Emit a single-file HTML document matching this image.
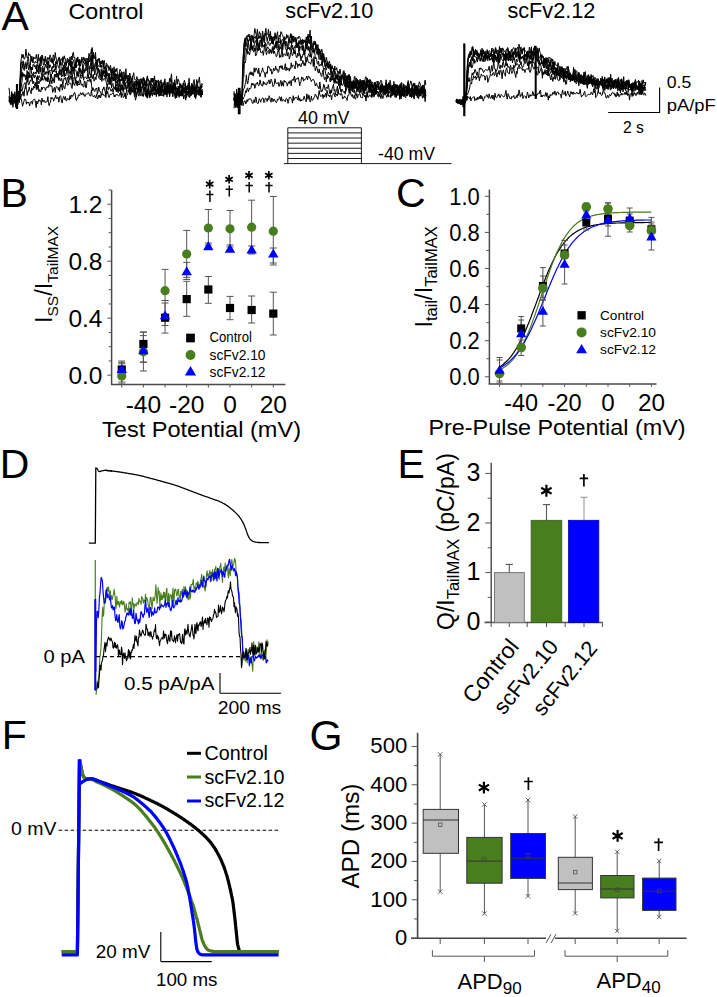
<!DOCTYPE html>
<html><head><meta charset="utf-8"><style>html,body{margin:0;padding:0;background:#fff;width:717px;height:997px;overflow:hidden}svg{display:block}text{font-family:"Liberation Sans",sans-serif}</style></head>
<body><svg width="717" height="997" viewBox="0 0 717 997" font-family='"Liberation Sans", sans-serif'><rect width="717" height="997" fill="#fff"/><text x="1.5" y="30.1" font-size="41" fill="#000">A</text>
<text x="68.5" y="18.7" font-size="22.4" textLength="75" lengthAdjust="spacingAndGlyphs" fill="#000">Control</text>
<text x="285.3" y="18.4" font-size="22.4" textLength="88" lengthAdjust="spacingAndGlyphs" fill="#000">scFv2.10</text>
<text x="507.4" y="18.4" font-size="22.4" textLength="88" lengthAdjust="spacingAndGlyphs" fill="#000">scFv2.12</text>
<polyline points="9.0,101.8 9.7,97.0 10.3,97.4 11.0,101.8 11.6,96.1 12.3,99.4 12.9,104.5 13.6,97.1 14.2,103.4 14.9,91.7 15.5,104.4 16.2,96.7 16.8,98.8 17.5,93.2 18.1,96.6 18.8,91.0 19.4,93.4 20.1,78.0 20.7,62.6 21.4,58.2 22.0,54.2 22.7,57.6 23.3,54.6 24.0,59.1 24.6,59.0 25.3,56.7 25.9,49.1 26.6,55.3 27.2,58.0 27.9,58.1 28.5,52.8 29.2,55.6 29.8,54.4 30.5,55.6 31.1,61.5 31.8,56.1 32.4,58.5 33.1,61.4 33.7,56.9 34.4,58.0 35.0,59.0 35.7,58.4 36.3,54.4 37.0,59.1 37.6,62.9 38.3,54.3 38.9,61.2 39.6,59.4 40.2,57.5 40.9,66.0 41.5,62.0 42.2,55.1 42.8,59.0 43.5,61.0 44.1,58.9 44.8,61.3 45.4,59.4 46.1,62.1 46.7,64.2 47.4,57.5 48.0,59.4 48.7,57.7 49.3,59.0 50.0,54.9 50.6,56.6 51.3,58.8 51.9,62.9 52.6,63.2 53.2,54.9 53.9,56.3 54.5,60.5 55.2,52.5 55.8,57.0 56.5,59.5 57.1,64.3 57.8,62.4 58.4,58.6 59.1,58.1 59.7,59.3 60.4,64.8 61.0,58.8 61.7,58.7 62.3,60.8 63.0,59.5 63.6,58.6 64.3,55.8 64.9,59.2 65.6,58.9 66.2,64.1 66.9,62.8 67.5,60.5 68.2,62.2 68.8,59.6 69.5,63.6 70.1,60.8 70.8,61.6 71.4,56.0 72.1,60.1 72.7,53.5 73.4,52.2 74.0,57.9 74.7,57.1 75.3,61.5 76.0,68.0 76.6,58.2 77.3,57.9 77.9,61.1 78.6,62.2 79.2,60.0 79.9,60.0 80.5,63.2 81.2,62.3 81.8,57.1 82.5,59.9 83.1,60.3 83.8,57.1 84.4,60.8 85.1,58.2 85.7,63.9 86.4,61.9 87.0,61.0 87.7,58.7 88.3,59.3 89.0,53.3 89.6,56.2 90.3,60.8 91.5,49.0 90.9,54.0 91.6,53.3 92.2,47.5 92.9,55.3 93.5,52.4 94.2,57.9 94.8,56.4 95.5,52.3 96.1,62.2 96.8,64.2 97.4,59.6 98.1,59.0 98.7,59.6 99.4,58.4 100.0,65.2 100.7,61.2 101.3,62.5 102.0,60.8 102.6,61.4 103.3,60.9 103.9,69.5 104.6,66.6 105.2,70.1 105.9,67.4 106.5,65.2 107.2,66.6 107.8,66.7 108.5,68.9 109.1,68.3 109.8,68.3 110.4,65.3 111.1,68.3 111.7,76.6 112.4,69.8 113.0,68.4 113.7,74.0 114.3,77.5 115.0,68.8 115.6,72.1 116.3,71.0 116.9,68.3 117.6,76.6 118.2,75.4 118.9,75.3 119.5,73.3 120.2,77.1 120.8,74.6 121.5,75.4 122.1,72.4 122.8,73.0 123.4,81.4 124.1,76.6 124.7,78.7 125.4,78.0 126.0,76.7 126.7,77.0 127.3,80.8 128.0,78.3 128.6,78.7 129.3,80.1 129.9,84.2 130.6,83.1 131.2,81.6 131.9,77.9 132.5,75.9 133.2,83.9 133.8,84.7 134.5,81.3 135.1,83.5 135.8,84.8 136.4,85.3 137.1,85.2 137.7,81.4 138.4,86.7 139.0,78.9 139.7,85.1 140.3,85.0 141.0,86.8 141.6,90.4 142.3,88.4 142.9,78.9 143.6,77.0 144.2,84.9 144.9,80.2 145.5,83.4 146.2,85.8 146.8,77.4 147.5,75.8 148.1,83.9 148.8,84.2 149.4,83.3 150.1,83.9 150.7,80.6 151.4,78.6 152.0,82.8 152.7,80.4 153.3,78.7 154.0,85.8 154.6,85.0 155.3,85.9 155.9,81.4 156.6,81.9 157.2,80.9 157.9,81.7 158.5,85.2 159.2,82.8 159.8,86.5 160.5,87.7 161.1,92.2 161.8,82.0 162.4,88.1 163.1,85.8 163.7,85.0 164.4,80.5 165.0,83.9 165.7,88.3 166.3,86.0 167.0,86.1 167.6,85.6 168.3,90.1 168.9,85.6 169.6,78.1 170.2,82.0 170.9,77.6 171.5,73.8 172.2,83.7 172.8,90.9 173.5,86.7 174.1,82.0 174.8,83.2 175.4,90.2 176.1,87.7 176.7,86.9 177.4,86.5 178.0,87.2 178.7,89.8 179.3,89.2 180.0,87.3 180.6,83.5 181.3,87.9 181.9,85.2 182.6,89.9 183.2,82.9 183.9,85.9 184.5,86.3 185.2,83.1 185.8,93.2 186.5,92.8 187.1,86.4 187.8,89.8 188.4,87.7 189.1,78.2 189.7,86.9 190.4,87.1 191.0,87.0 191.7,83.4 192.3,85.8 193.0,87.0 193.6,91.5 194.3,89.0 194.9,88.1 195.6,92.5 196.2,85.9 196.9,85.0 197.5,81.5 198.2,92.6 198.8,91.9 199.5,91.4 200.1,90.3 200.8,88.2 201.4,88.2 202.1,86.6 202.7,86.7" fill="none" stroke="#000" stroke-width="1.0" stroke-linejoin="round"/>
<polyline points="18.0,104.9 18.6,97.9 19.3,96.7 19.9,81.4 20.6,74.1 21.2,63.6 21.9,61.5 22.5,67.3 23.2,60.8 23.8,66.6 24.5,68.2 25.1,64.0 25.8,65.0 26.4,69.1 27.1,62.0 27.7,59.4 28.4,57.2 29.0,62.3 29.7,67.7 30.3,65.7 31.0,58.9 31.6,58.6 32.3,60.2 32.9,62.9 33.6,61.7 34.2,63.0 34.9,63.2 35.5,61.3 36.2,62.1 36.8,62.9 37.5,62.3 38.1,64.8 38.8,69.3 39.4,65.2 40.1,62.0 40.7,56.6 41.4,62.1 42.0,55.1 42.7,56.9 43.3,65.0 44.0,65.1 44.6,61.4 45.3,56.2 45.9,60.0 46.6,60.1 47.2,65.3 47.9,70.6 48.5,63.8 49.2,59.3 49.8,58.0 50.5,61.6 51.1,61.3 51.8,58.4 52.4,61.9 53.1,59.0 53.7,66.3 54.4,67.1 55.0,66.5 55.7,61.5 56.3,64.0 57.0,62.1 57.6,61.0 58.3,60.6 58.9,57.2 59.6,57.3 60.2,64.6 60.9,62.3 61.5,63.7 62.2,65.4 62.8,56.7 63.5,59.2 64.1,63.1 64.8,63.9 65.4,61.9 66.1,66.2 66.7,63.3 67.4,58.1 68.0,59.3 68.7,65.3 69.3,63.8 70.0,56.9 70.6,66.8 71.3,66.0 71.9,67.5 72.6,61.9 73.2,61.1 73.9,59.8 74.5,71.0 75.2,64.0 75.8,68.0 76.5,61.3 77.1,62.4 77.8,56.9 78.4,61.2 79.1,65.5 79.7,59.4 80.4,66.2 81.0,64.0 81.7,59.2 82.3,60.5 83.0,61.0 83.6,62.3 84.3,60.6 84.9,59.7 85.6,61.0 86.2,58.7 86.9,58.0 87.5,62.6 88.2,65.3 88.8,58.0 89.5,62.0 90.1,60.3 90.8,59.7 91.5,60.3 91.4,65.3 92.1,54.9 92.7,61.1 93.4,55.3 94.0,58.8 94.7,57.6 95.3,56.8 96.0,61.6 96.6,60.5 97.3,63.2 97.9,61.4 98.6,58.6 99.2,62.2 99.9,64.1 100.5,67.1 101.2,61.9 101.8,63.9 102.5,60.0 103.1,67.2 103.8,62.4 104.4,60.4 105.1,67.1 105.7,71.2 106.4,63.2 107.0,64.2 107.7,65.8 108.3,65.7 109.0,70.7 109.6,67.6 110.3,68.3 110.9,72.7 111.6,69.5 112.2,72.8 112.9,68.7 113.5,67.3 114.2,66.9 114.8,78.9 115.5,73.5 116.1,74.7 116.8,74.4 117.4,75.1 118.1,75.9 118.7,81.4 119.4,71.9 120.0,69.3 120.7,71.1 121.3,71.4 122.0,78.8 122.6,79.4 123.3,73.3 123.9,71.7 124.6,76.1 125.2,81.0 125.9,68.7 126.5,78.1 127.2,75.1 127.8,81.0 128.5,75.1 129.1,76.6 129.8,73.1 130.4,75.6 131.1,84.0 131.7,82.7 132.4,78.1 133.0,75.7 133.7,72.7 134.3,77.8 135.0,79.9 135.6,80.0 136.3,79.6 136.9,76.6 137.6,80.0 138.2,81.3 138.9,86.3 139.5,88.1 140.2,81.2 140.8,78.6 141.5,80.6 142.1,79.1 142.8,78.8 143.4,80.8 144.1,78.5 144.7,83.6 145.4,82.1 146.0,82.9 146.7,81.4 147.3,79.4 148.0,78.7 148.6,81.1 149.3,80.7 149.9,83.3 150.6,82.3 151.2,78.2 151.9,82.0 152.5,78.1 153.2,80.2 153.8,81.0 154.5,75.9 155.1,82.8 155.8,83.9 156.4,82.8 157.1,81.8 157.7,81.7 158.4,79.9 159.0,82.1 159.7,81.7 160.3,83.4 161.0,79.8 161.6,84.3 162.3,84.5 162.9,83.4 163.6,82.7 164.2,85.1 164.9,78.8 165.5,85.2 166.2,85.4 166.8,85.6 167.5,85.5 168.1,82.1 168.8,83.5 169.4,86.7 170.1,86.4 170.7,84.8 171.4,79.6 172.0,86.3 172.7,89.4 173.3,88.8 174.0,85.3 174.6,79.8 175.3,87.3 175.9,83.6 176.6,76.1 177.2,84.4 177.9,79.3 178.5,79.5 179.2,82.7 179.8,89.0 180.5,84.4 181.1,86.6 181.8,91.9 182.4,91.3 183.1,85.3 183.7,83.7 184.4,80.3 185.0,82.4 185.7,86.5 186.3,86.8 187.0,86.2 187.6,88.4 188.3,83.0 188.9,85.1 189.6,88.1 190.2,88.1 190.9,89.5 191.5,87.1 192.2,84.6 192.8,86.1 193.5,81.3 194.1,79.5 194.8,86.7 195.4,85.6 196.1,85.8 196.7,79.5 197.4,83.2 198.0,82.9 198.7,81.2 199.3,77.1 200.0,83.8 200.6,88.7 201.3,87.0 201.9,83.6 202.6,85.3" fill="none" stroke="#000" stroke-width="1.0" stroke-linejoin="round"/>
<polyline points="9.0,96.3 9.7,102.6 10.3,97.1 11.0,104.0 11.6,92.3 12.3,97.5 12.9,107.3 13.6,96.2 14.2,95.7 14.9,99.6 15.5,97.9 16.2,97.6 16.8,98.4 17.5,96.9 18.1,97.6 18.8,96.4 19.4,99.1 20.1,89.1 20.7,77.3 21.4,76.1 22.0,67.0 22.7,67.3 23.3,67.3 24.0,70.1 24.6,70.2 25.3,62.4 25.9,63.7 26.6,67.5 27.2,64.5 27.9,62.4 28.5,69.8 29.2,69.1 29.8,68.5 30.5,66.1 31.1,69.9 31.8,67.1 32.4,70.0 33.1,64.3 33.7,64.1 34.4,67.0 35.0,65.2 35.7,68.9 36.3,67.7 37.0,64.3 37.6,66.7 38.3,66.3 38.9,69.5 39.6,65.2 40.2,65.9 40.9,71.5 41.5,75.2 42.2,74.1 42.8,68.1 43.5,68.3 44.1,71.8 44.8,66.8 45.4,64.0 46.1,67.2 46.7,68.1 47.4,64.0 48.0,61.0 48.7,62.1 49.3,68.2 50.0,64.8 50.6,66.3 51.3,67.8 51.9,68.9 52.6,66.4 53.2,68.1 53.9,64.3 54.5,65.1 55.2,64.1 55.8,70.1 56.5,67.1 57.1,64.5 57.8,65.5 58.4,66.4 59.1,68.5 59.7,61.9 60.4,63.0 61.0,66.4 61.7,75.1 62.3,70.9 63.0,67.3 63.6,70.0 64.3,73.6 64.9,66.9 65.6,66.2 66.2,70.8 66.9,69.3 67.5,69.1 68.2,66.4 68.8,73.5 69.5,73.3 70.1,69.7 70.8,68.6 71.4,61.2 72.1,68.1 72.7,66.8 73.4,68.5 74.0,69.2 74.7,65.5 75.3,61.7 76.0,67.2 76.6,64.7 77.3,65.4 77.9,64.9 78.6,64.8 79.2,60.1 79.9,70.0 80.5,68.7 81.2,71.3 81.8,73.6 82.5,67.1 83.1,61.0 83.8,63.0 84.4,62.7 85.1,65.0 85.7,66.3 86.4,60.9 87.0,66.7 87.7,62.5 88.3,67.3 89.0,66.7 89.6,66.0 90.3,66.4 91.5,60.1 90.9,65.1 91.6,56.3 92.2,54.3 92.9,60.5 93.5,67.8 94.2,69.4 94.8,67.9 95.5,65.8 96.1,62.8 96.8,68.9 97.4,65.7 98.1,65.6 98.7,65.6 99.4,67.1 100.0,66.3 100.7,67.3 101.3,65.2 102.0,68.6 102.6,76.7 103.3,70.8 103.9,70.2 104.6,73.1 105.2,73.7 105.9,68.9 106.5,71.9 107.2,75.9 107.8,74.7 108.5,74.9 109.1,78.9 109.8,73.2 110.4,74.8 111.1,74.4 111.7,79.4 112.4,70.3 113.0,73.4 113.7,75.1 114.3,79.2 115.0,80.1 115.6,81.7 116.3,74.0 116.9,79.9 117.6,77.7 118.2,76.9 118.9,80.2 119.5,76.0 120.2,72.7 120.8,77.4 121.5,75.1 122.1,78.0 122.8,81.7 123.4,82.6 124.1,86.1 124.7,80.8 125.4,76.4 126.0,78.5 126.7,78.3 127.3,78.2 128.0,83.0 128.6,79.9 129.3,76.6 129.9,84.3 130.6,83.2 131.2,84.4 131.9,84.1 132.5,85.6 133.2,84.6 133.8,87.9 134.5,86.0 135.1,85.8 135.8,85.2 136.4,80.0 137.1,83.4 137.7,84.0 138.4,84.9 139.0,81.5 139.7,89.7 140.3,85.7 141.0,81.0 141.6,79.6 142.3,84.0 142.9,85.0 143.6,83.6 144.2,85.7 144.9,84.3 145.5,87.3 146.2,84.2 146.8,86.3 147.5,90.4 148.1,94.5 148.8,84.3 149.4,84.5 150.1,84.2 150.7,88.5 151.4,83.4 152.0,85.0 152.7,86.4 153.3,83.7 154.0,83.6 154.6,84.6 155.3,80.0 155.9,81.9 156.6,85.7 157.2,87.8 157.9,86.4 158.5,81.9 159.2,85.9 159.8,90.3 160.5,89.8 161.1,87.5 161.8,85.4 162.4,89.4 163.1,86.0 163.7,83.9 164.4,85.7 165.0,92.4 165.7,89.9 166.3,91.8 167.0,87.6 167.6,90.8 168.3,86.8 168.9,88.7 169.6,96.4 170.2,91.7 170.9,87.2 171.5,88.2 172.2,90.1 172.8,92.3 173.5,86.9 174.1,83.0 174.8,87.2 175.4,88.8 176.1,89.7 176.7,93.1 177.4,90.7 178.0,91.1 178.7,86.1 179.3,92.0 180.0,96.1 180.6,92.3 181.3,90.2 181.9,90.3 182.6,94.3 183.2,86.9 183.9,88.6 184.5,90.8 185.2,91.5 185.8,88.2 186.5,89.9 187.1,88.5 187.8,89.5 188.4,88.4 189.1,85.7 189.7,89.1 190.4,91.7 191.0,86.6 191.7,88.5 192.3,90.9 193.0,86.4 193.6,89.1 194.3,86.6 194.9,93.4 195.6,97.9 196.2,96.6 196.9,89.9 197.5,91.7 198.2,90.2 198.8,90.5 199.5,93.9 200.1,86.4 200.8,92.3 201.4,90.4 202.1,94.0 202.7,90.7" fill="none" stroke="#000" stroke-width="1.0" stroke-linejoin="round"/>
<polyline points="18.0,99.1 18.6,97.8 19.3,96.1 19.9,88.1 20.6,82.4 21.2,77.9 21.9,73.5 22.5,72.8 23.2,76.5 23.8,74.0 24.5,75.6 25.1,76.4 25.8,75.2 26.4,78.9 27.1,70.5 27.7,73.9 28.4,71.8 29.0,78.1 29.7,77.0 30.3,65.9 31.0,68.1 31.6,73.7 32.3,74.7 32.9,74.2 33.6,71.9 34.2,73.2 34.9,73.8 35.5,72.0 36.2,73.8 36.8,65.1 37.5,72.2 38.1,68.9 38.8,74.0 39.4,70.8 40.1,68.7 40.7,71.9 41.4,68.3 42.0,67.5 42.7,66.1 43.3,70.8 44.0,73.3 44.6,74.6 45.3,71.7 45.9,74.5 46.6,71.7 47.2,71.2 47.9,73.4 48.5,74.6 49.2,70.4 49.8,70.2 50.5,70.6 51.1,71.0 51.8,68.7 52.4,73.8 53.1,70.4 53.7,72.0 54.4,68.8 55.0,72.0 55.7,72.2 56.3,70.6 57.0,77.3 57.6,73.6 58.3,77.0 58.9,74.3 59.6,69.0 60.2,69.6 60.9,72.1 61.5,71.2 62.2,70.9 62.8,69.2 63.5,64.9 64.1,68.5 64.8,63.8 65.4,70.7 66.1,68.3 66.7,68.1 67.4,69.8 68.0,70.9 68.7,65.6 69.3,64.2 70.0,65.8 70.6,63.4 71.3,67.4 71.9,74.7 72.6,68.1 73.2,71.6 73.9,66.6 74.5,70.7 75.2,69.5 75.8,70.3 76.5,72.9 77.1,76.2 77.8,71.7 78.4,70.4 79.1,67.6 79.7,71.7 80.4,70.1 81.0,72.8 81.7,71.1 82.3,74.9 83.0,64.6 83.6,68.9 84.3,72.7 84.9,69.1 85.6,67.4 86.2,68.5 86.9,65.7 87.5,70.9 88.2,78.2 88.8,74.2 89.5,66.7 90.1,66.7 90.8,68.8 91.5,67.7 91.4,72.7 92.1,61.2 92.7,62.2 93.4,67.9 94.0,68.6 94.7,65.1 95.3,62.7 96.0,62.0 96.6,64.5 97.3,61.8 97.9,70.6 98.6,68.4 99.2,72.5 99.9,77.5 100.5,75.5 101.2,69.2 101.8,75.2 102.5,76.7 103.1,71.2 103.8,70.6 104.4,73.0 105.1,70.3 105.7,78.3 106.4,68.3 107.0,71.5 107.7,75.1 108.3,76.1 109.0,77.7 109.6,78.4 110.3,77.8 110.9,80.9 111.6,72.4 112.2,77.8 112.9,77.1 113.5,79.8 114.2,80.3 114.8,77.2 115.5,78.4 116.1,83.1 116.8,82.2 117.4,80.1 118.1,88.6 118.7,89.3 119.4,78.5 120.0,83.7 120.7,90.9 121.3,86.3 122.0,83.9 122.6,82.5 123.3,81.6 123.9,82.6 124.6,82.4 125.2,86.0 125.9,83.1 126.5,82.5 127.2,80.7 127.8,83.9 128.5,82.1 129.1,84.7 129.8,88.7 130.4,87.3 131.1,87.5 131.7,87.2 132.4,86.3 133.0,85.6 133.7,85.6 134.3,88.3 135.0,84.0 135.6,90.5 136.3,87.2 136.9,84.4 137.6,85.0 138.2,84.9 138.9,87.3 139.5,85.7 140.2,90.5 140.8,84.8 141.5,80.0 142.1,83.9 142.8,81.4 143.4,87.6 144.1,91.7 144.7,90.2 145.4,84.1 146.0,86.2 146.7,93.9 147.3,90.3 148.0,89.3 148.6,93.1 149.3,97.5 149.9,94.0 150.6,90.1 151.2,90.5 151.9,91.0 152.5,87.1 153.2,85.8 153.8,88.7 154.5,86.5 155.1,89.0 155.8,90.7 156.4,96.7 157.1,87.9 157.7,89.0 158.4,89.4 159.0,91.6 159.7,93.2 160.3,88.5 161.0,86.6 161.6,84.2 162.3,86.8 162.9,91.5 163.6,90.1 164.2,86.9 164.9,88.7 165.5,90.5 166.2,91.7 166.8,88.6 167.5,88.7 168.1,84.2 168.8,86.8 169.4,94.3 170.1,84.2 170.7,88.8 171.4,91.1 172.0,89.3 172.7,88.0 173.3,90.2 174.0,90.7 174.6,89.8 175.3,84.9 175.9,89.3 176.6,87.9 177.2,89.0 177.9,91.7 178.5,93.4 179.2,93.9 179.8,90.2 180.5,94.2 181.1,95.6 181.8,95.7 182.4,95.9 183.1,91.2 183.7,90.9 184.4,93.2 185.0,87.3 185.7,91.1 186.3,89.5 187.0,89.2 187.6,85.3 188.3,87.8 188.9,91.3 189.6,94.5 190.2,94.8 190.9,91.4 191.5,90.4 192.2,88.9 192.8,92.3 193.5,91.0 194.1,93.9 194.8,97.2 195.4,91.5 196.1,86.4 196.7,87.6 197.4,86.1 198.0,87.7 198.7,95.2 199.3,92.2 200.0,87.1 200.6,93.5 201.3,95.6 201.9,90.7 202.6,89.3" fill="none" stroke="#000" stroke-width="1.0" stroke-linejoin="round"/>
<polyline points="9.0,87.8 9.7,94.5 10.3,104.1 11.0,101.6 11.6,101.1 12.3,94.9 12.9,94.6 13.6,98.6 14.2,94.5 14.9,96.7 15.5,107.3 16.2,101.1 16.8,95.5 17.5,88.0 18.1,97.1 18.8,96.1 19.4,100.4 20.1,92.7 20.7,89.4 21.4,86.4 22.0,81.3 22.7,72.6 23.3,75.6 24.0,76.0 24.6,74.6 25.3,77.8 25.9,80.1 26.6,75.5 27.2,74.1 27.9,81.6 28.5,75.6 29.2,73.0 29.8,76.8 30.5,77.4 31.1,74.8 31.8,78.1 32.4,74.9 33.1,73.6 33.7,76.7 34.4,78.1 35.0,74.8 35.7,76.8 36.3,76.9 37.0,83.5 37.6,75.5 38.3,79.5 38.9,76.2 39.6,75.8 40.2,78.1 40.9,78.9 41.5,79.7 42.2,76.9 42.8,74.0 43.5,74.2 44.1,77.0 44.8,77.8 45.4,79.7 46.1,77.5 46.7,79.1 47.4,80.0 48.0,75.9 48.7,71.0 49.3,71.1 50.0,71.5 50.6,78.9 51.3,73.9 51.9,78.5 52.6,77.8 53.2,80.4 53.9,78.4 54.5,75.1 55.2,74.5 55.8,75.2 56.5,75.3 57.1,73.5 57.8,75.2 58.4,78.7 59.1,70.8 59.7,74.6 60.4,72.4 61.0,75.2 61.7,77.0 62.3,75.0 63.0,76.1 63.6,70.8 64.3,76.8 64.9,73.4 65.6,76.0 66.2,74.2 66.9,67.1 67.5,71.4 68.2,75.2 68.8,78.7 69.5,75.6 70.1,74.5 70.8,70.9 71.4,78.2 72.1,79.5 72.7,74.7 73.4,72.9 74.0,69.8 74.7,76.7 75.3,81.9 76.0,77.2 76.6,77.7 77.3,75.4 77.9,71.7 78.6,76.6 79.2,70.7 79.9,72.7 80.5,74.6 81.2,76.2 81.8,75.1 82.5,74.4 83.1,71.1 83.8,69.7 84.4,72.9 85.1,71.0 85.7,69.1 86.4,69.2 87.0,70.8 87.7,67.5 88.3,68.3 89.0,68.3 89.6,73.2 90.3,74.9 91.5,73.2 90.9,78.2 91.6,64.4 92.2,66.5 92.9,71.3 93.5,69.2 94.2,69.6 94.8,75.0 95.5,70.2 96.1,67.7 96.8,67.9 97.4,72.8 98.1,73.2 98.7,69.1 99.4,70.5 100.0,75.2 100.7,75.8 101.3,73.2 102.0,76.6 102.6,76.5 103.3,70.8 103.9,74.6 104.6,77.1 105.2,74.4 105.9,70.7 106.5,76.0 107.2,80.0 107.8,81.6 108.5,73.5 109.1,84.4 109.8,76.7 110.4,81.5 111.1,83.1 111.7,82.5 112.4,79.9 113.0,76.9 113.7,81.1 114.3,77.7 115.0,74.3 115.6,87.8 116.3,84.4 116.9,86.0 117.6,79.9 118.2,85.7 118.9,87.1 119.5,86.6 120.2,82.1 120.8,78.8 121.5,80.7 122.1,75.8 122.8,77.3 123.4,82.2 124.1,80.3 124.7,82.3 125.4,83.6 126.0,89.1 126.7,87.8 127.3,84.4 128.0,86.9 128.6,82.1 129.3,83.2 129.9,86.2 130.6,81.1 131.2,82.8 131.9,80.9 132.5,85.1 133.2,89.0 133.8,83.4 134.5,85.0 135.1,82.3 135.8,81.3 136.4,82.0 137.1,89.7 137.7,92.6 138.4,87.4 139.0,84.1 139.7,87.3 140.3,85.4 141.0,88.0 141.6,87.1 142.3,87.1 142.9,87.7 143.6,84.6 144.2,84.3 144.9,81.3 145.5,84.1 146.2,82.3 146.8,85.3 147.5,83.9 148.1,86.7 148.8,87.5 149.4,82.7 150.1,83.8 150.7,84.2 151.4,89.2 152.0,92.2 152.7,89.8 153.3,86.9 154.0,90.5 154.6,84.0 155.3,90.6 155.9,85.0 156.6,80.3 157.2,94.2 157.9,92.2 158.5,85.2 159.2,87.5 159.8,87.0 160.5,87.2 161.1,83.3 161.8,85.4 162.4,88.8 163.1,88.8 163.7,91.1 164.4,89.2 165.0,94.0 165.7,86.7 166.3,87.6 167.0,82.3 167.6,84.2 168.3,90.8 168.9,86.0 169.6,89.1 170.2,87.6 170.9,85.0 171.5,86.5 172.2,86.4 172.8,86.8 173.5,90.2 174.1,90.0 174.8,86.5 175.4,85.6 176.1,88.6 176.7,88.4 177.4,91.9 178.0,96.2 178.7,91.5 179.3,88.4 180.0,87.5 180.6,85.6 181.3,85.2 181.9,85.2 182.6,86.8 183.2,87.3 183.9,90.2 184.5,87.5 185.2,87.3 185.8,85.6 186.5,92.7 187.1,91.0 187.8,93.8 188.4,91.8 189.1,92.8 189.7,88.6 190.4,91.3 191.0,95.8 191.7,86.5 192.3,92.0 193.0,93.8 193.6,90.6 194.3,91.3 194.9,92.1 195.6,87.4 196.2,89.2 196.9,86.1 197.5,86.2 198.2,86.6 198.8,88.1 199.5,89.2 200.1,89.5 200.8,85.6 201.4,94.2 202.1,92.9 202.7,91.2" fill="none" stroke="#000" stroke-width="1.0" stroke-linejoin="round"/>
<polyline points="18.0,102.4 18.6,99.5 19.3,102.8 19.9,96.2 20.6,89.1 21.2,89.1 21.9,91.4 22.5,89.4 23.2,85.5 23.8,84.5 24.5,83.4 25.1,82.5 25.8,88.8 26.4,83.3 27.1,79.2 27.7,81.1 28.4,84.8 29.0,84.6 29.7,82.0 30.3,80.3 31.0,81.4 31.6,76.7 32.3,77.9 32.9,83.8 33.6,81.0 34.2,83.4 34.9,86.0 35.5,84.3 36.2,83.0 36.8,88.5 37.5,84.4 38.1,81.2 38.8,83.9 39.4,82.8 40.1,79.2 40.7,81.4 41.4,80.3 42.0,75.4 42.7,80.0 43.3,80.3 44.0,79.2 44.6,76.0 45.3,79.5 45.9,80.9 46.6,81.0 47.2,77.9 47.9,82.0 48.5,77.5 49.2,80.3 49.8,84.5 50.5,79.1 51.1,79.4 51.8,83.7 52.4,79.8 53.1,79.7 53.7,81.6 54.4,83.0 55.0,74.0 55.7,76.8 56.3,76.7 57.0,76.4 57.6,77.0 58.3,77.6 58.9,80.5 59.6,77.7 60.2,80.4 60.9,81.1 61.5,78.1 62.2,80.8 62.8,85.1 63.5,81.3 64.1,78.1 64.8,79.1 65.4,77.1 66.1,80.6 66.7,82.1 67.4,77.5 68.0,79.1 68.7,82.7 69.3,78.5 70.0,79.5 70.6,76.1 71.3,76.4 71.9,78.3 72.6,85.4 73.2,78.7 73.9,77.3 74.5,77.3 75.2,78.7 75.8,81.0 76.5,80.6 77.1,85.2 77.8,80.9 78.4,83.3 79.1,80.4 79.7,80.2 80.4,74.7 81.0,77.8 81.7,78.3 82.3,77.1 83.0,72.5 83.6,80.2 84.3,77.5 84.9,76.9 85.6,77.4 86.2,77.8 86.9,79.0 87.5,74.4 88.2,75.1 88.8,78.7 89.5,78.5 90.1,76.8 90.8,75.9 91.4,75.3 92.1,75.4 92.7,78.9 93.4,74.2 94.0,81.2 94.7,80.1 95.3,76.9 96.0,79.6 96.6,73.8 97.3,72.7 97.9,74.6 98.6,77.7 99.2,78.6 99.9,78.7 100.5,79.9 101.2,74.9 101.8,81.4 102.5,77.3 103.1,79.3 103.8,80.3 104.4,78.4 105.1,77.9 105.7,79.6 106.4,83.1 107.0,85.5 107.7,85.3 108.3,81.1 109.0,81.3 109.6,81.7 110.3,85.0 110.9,79.6 111.6,87.9 112.2,84.2 112.9,83.3 113.5,87.0 114.2,89.3 114.8,88.0 115.5,89.7 116.1,87.9 116.8,90.9 117.4,91.1 118.1,87.9 118.7,91.6 119.4,88.5 120.0,87.6 120.7,85.0 121.3,87.1 122.0,89.8 122.6,84.9 123.3,90.0 123.9,89.9 124.6,88.8 125.2,82.4 125.9,88.1 126.5,90.6 127.2,87.2 127.8,88.4 128.5,82.7 129.1,90.4 129.8,88.3 130.4,91.4 131.1,85.0 131.7,91.2 132.4,89.9 133.0,92.1 133.7,87.6 134.3,89.0 135.0,96.5 135.6,88.7 136.3,88.1 136.9,89.2 137.6,88.1 138.2,94.6 138.9,96.2 139.5,88.9 140.2,86.2 140.8,94.4 141.5,95.2 142.1,94.5 142.8,94.7 143.4,89.2 144.1,90.2 144.7,86.9 145.4,87.3 146.0,93.8 146.7,91.0 147.3,98.3 148.0,92.7 148.6,90.3 149.3,94.7 149.9,97.8 150.6,93.7 151.2,88.8 151.9,93.3 152.5,96.2 153.2,91.0 153.8,90.2 154.5,95.1 155.1,92.7 155.8,89.1 156.4,90.6 157.1,90.2 157.7,93.1 158.4,93.4 159.0,96.3 159.7,94.6 160.3,88.5 161.0,93.6 161.6,95.7 162.3,94.8 162.9,95.8 163.6,91.2 164.2,90.2 164.9,94.9 165.5,89.3 166.2,86.6 166.8,94.9 167.5,91.1 168.1,91.3 168.8,88.3 169.4,88.2 170.1,89.1 170.7,91.8 171.4,93.2 172.0,86.8 172.7,94.1 173.3,89.6 174.0,89.9 174.6,94.8 175.3,92.7 175.9,89.4 176.6,97.8 177.2,91.5 177.9,93.8 178.5,94.5 179.2,97.4 179.8,92.9 180.5,95.9 181.1,92.0 181.8,96.2 182.4,91.5 183.1,92.8 183.7,99.0 184.4,95.1 185.0,94.7 185.7,100.2 186.3,95.1 187.0,91.5 187.6,95.0 188.3,90.8 188.9,96.9 189.6,97.3 190.2,92.1 190.9,91.6 191.5,93.9 192.2,93.4 192.8,91.0 193.5,94.2 194.1,87.7 194.8,91.5 195.4,92.2 196.1,92.8 196.7,94.0 197.4,90.4 198.0,94.9 198.7,93.1 199.3,91.2 200.0,89.0 200.6,89.9 201.3,94.0 201.9,91.1 202.6,93.6" fill="none" stroke="#000" stroke-width="1.0" stroke-linejoin="round"/>
<polyline points="9.0,100.8 9.7,101.7 10.3,97.6 11.0,105.1 11.6,91.5 12.3,96.6 12.9,93.5 13.6,96.3 14.2,94.5 14.9,97.6 15.5,97.3 16.2,94.5 16.8,106.8 17.5,98.9 18.1,100.2 18.8,93.9 19.4,100.5 20.1,96.0 20.7,99.3 21.4,94.3 22.0,95.4 22.7,92.1 23.3,91.5 24.0,96.2 24.6,90.0 25.3,86.5 25.9,87.6 26.6,89.5 27.2,95.4 27.9,91.1 28.5,91.6 29.2,87.0 29.8,90.0 30.5,91.6 31.1,93.8 31.8,87.8 32.4,90.3 33.1,89.4 33.7,86.0 34.4,88.1 35.0,87.0 35.7,82.3 36.3,89.4 37.0,89.8 37.6,86.8 38.3,85.0 38.9,91.7 39.6,89.6 40.2,91.3 40.9,91.9 41.5,87.2 42.2,89.7 42.8,87.3 43.5,87.4 44.1,87.4 44.8,87.9 45.4,90.5 46.1,88.1 46.7,86.9 47.4,86.6 48.0,87.7 48.7,84.7 49.3,85.4 50.0,86.5 50.6,85.4 51.3,86.2 51.9,85.8 52.6,92.4 53.2,91.1 53.9,88.3 54.5,87.3 55.2,92.5 55.8,88.0 56.5,86.4 57.1,87.2 57.8,87.7 58.4,90.1 59.1,87.3 59.7,91.4 60.4,84.6 61.0,87.2 61.7,84.1 62.3,90.2 63.0,85.5 63.6,85.8 64.3,88.5 64.9,88.9 65.6,82.9 66.2,83.7 66.9,81.6 67.5,85.2 68.2,84.9 68.8,84.0 69.5,83.1 70.1,83.6 70.8,83.1 71.4,86.6 72.1,88.5 72.7,80.1 73.4,83.7 74.0,83.7 74.7,85.5 75.3,82.1 76.0,83.5 76.6,81.9 77.3,85.9 77.9,84.8 78.6,84.0 79.2,85.0 79.9,83.1 80.5,80.0 81.2,85.2 81.8,84.9 82.5,83.9 83.1,86.8 83.8,87.0 84.4,80.9 85.1,81.7 85.7,87.9 86.4,87.6 87.0,81.5 87.7,79.8 88.3,81.0 89.0,81.2 89.6,78.8 90.3,82.2 90.9,79.2 91.6,85.7 92.2,90.9 92.9,87.6 93.5,89.0 94.2,91.2 94.8,91.6 95.5,88.8 96.1,89.2 96.8,87.9 97.4,94.2 98.1,91.6 98.7,87.0 99.4,89.7 100.0,91.9 100.7,92.0 101.3,95.4 102.0,94.1 102.6,89.0 103.3,89.2 103.9,86.8 104.6,90.5 105.2,91.6 105.9,97.6 106.5,90.8 107.2,84.6 107.8,87.9 108.5,90.1 109.1,86.9 109.8,87.7 110.4,89.4 111.1,91.3 111.7,90.0 112.4,88.5 113.0,92.3 113.7,89.4 114.3,88.8 115.0,86.7 115.6,88.5 116.3,91.8 116.9,86.7 117.6,90.4 118.2,92.7 118.9,90.3 119.5,91.1 120.2,88.5 120.8,94.5 121.5,94.5 122.1,91.5 122.8,86.1 123.4,88.1 124.1,94.0 124.7,96.2 125.4,93.0 126.0,94.4 126.7,90.0 127.3,90.5 128.0,91.3 128.6,91.9 129.3,87.7 129.9,93.8 130.6,94.8 131.2,88.3 131.9,87.5 132.5,91.6 133.2,89.0 133.8,85.1 134.5,92.8 135.1,92.0 135.8,90.9 136.4,97.0 137.1,92.3 137.7,89.6 138.4,91.2 139.0,88.5 139.7,89.3 140.3,92.1 141.0,90.1 141.6,90.7 142.3,96.2 142.9,94.7 143.6,94.2 144.2,93.4 144.9,93.6 145.5,95.7 146.2,92.7 146.8,96.3 147.5,89.6 148.1,90.2 148.8,87.8 149.4,90.5 150.1,93.4 150.7,95.5 151.4,90.4 152.0,91.4 152.7,90.5 153.3,89.2 154.0,88.3 154.6,90.9 155.3,87.2 155.9,91.5 156.6,91.6 157.2,89.7 157.9,88.4 158.5,88.4 159.2,95.9 159.8,89.3 160.5,95.7 161.1,93.8 161.8,90.6 162.4,88.9 163.1,94.8 163.7,96.5 164.4,89.8 165.0,91.1 165.7,94.6 166.3,93.7 167.0,97.1 167.6,91.2 168.3,92.7 168.9,89.4 169.6,96.8 170.2,89.9 170.9,85.7 171.5,90.7 172.2,92.1 172.8,96.8 173.5,91.6 174.1,91.9 174.8,94.0 175.4,96.3 176.1,92.6 176.7,94.8 177.4,93.5 178.0,91.3 178.7,92.0 179.3,91.7 180.0,89.9 180.6,94.4 181.3,89.0 181.9,94.9 182.6,94.8 183.2,91.7 183.9,89.8 184.5,91.2 185.2,93.4 185.8,94.2 186.5,93.3 187.1,94.5 187.8,90.8 188.4,91.8 189.1,88.1 189.7,93.5 190.4,92.5 191.0,91.3 191.7,95.1 192.3,93.2 193.0,84.7 193.6,90.6 194.3,88.4 194.9,95.1 195.6,98.8 196.2,91.4 196.9,91.9 197.5,91.4 198.2,93.0 198.8,94.2 199.5,95.3 200.1,90.3 200.8,95.5 201.4,90.1 202.1,92.8 202.7,95.1" fill="none" stroke="#000" stroke-width="1.0" stroke-linejoin="round"/>
<polyline points="18.0,96.9 18.6,97.8 19.3,97.3 19.9,95.9 20.6,98.9 21.2,99.1 21.9,102.2 22.5,106.3 23.2,104.3 23.8,101.9 24.5,99.1 25.1,99.3 25.8,99.5 26.4,104.2 27.1,101.9 27.7,103.1 28.4,102.0 29.0,103.6 29.7,106.0 30.3,102.0 31.0,101.9 31.6,101.4 32.3,104.3 32.9,100.6 33.6,99.7 34.2,99.0 34.9,99.3 35.5,103.7 36.2,107.6 36.8,101.0 37.5,103.9 38.1,102.5 38.8,99.6 39.4,100.9 40.1,101.0 40.7,100.6 41.4,104.9 42.0,98.0 42.7,101.7 43.3,101.8 44.0,100.0 44.6,101.4 45.3,102.8 45.9,101.4 46.6,101.8 47.2,101.6 47.9,96.7 48.5,103.5 49.2,105.7 49.8,103.1 50.5,102.1 51.1,97.2 51.8,99.0 52.4,97.8 53.1,98.4 53.7,101.2 54.4,97.9 55.0,98.3 55.7,95.1 56.3,98.3 57.0,99.0 57.6,97.3 58.3,97.6 58.9,102.2 59.6,96.3 60.2,95.7 60.9,96.7 61.5,101.2 62.2,103.0 62.8,99.1 63.5,96.4 64.1,97.1 64.8,99.7 65.4,96.4 66.1,100.8 66.7,100.8 67.4,98.0 68.0,98.8 68.7,99.3 69.3,100.2 70.0,95.4 70.6,98.9 71.3,96.0 71.9,94.9 72.6,96.5 73.2,95.7 73.9,93.7 74.5,92.3 75.2,94.1 75.8,99.3 76.5,100.6 77.1,98.0 77.8,98.2 78.4,94.8 79.1,95.3 79.7,95.7 80.4,92.8 81.0,92.8 81.7,94.9 82.3,94.0 83.0,92.6 83.6,95.2 84.3,94.5 84.9,96.6 85.6,94.6 86.2,93.7 86.9,94.4 87.5,93.6 88.2,92.5 88.8,93.1 89.5,95.5 90.1,95.6 90.8,96.1 91.4,90.2 92.1,95.5 92.7,95.9 93.4,96.9 94.0,95.6 94.7,95.5 95.3,98.0 96.0,96.6 96.6,94.2 97.3,99.0 97.9,98.4 98.6,95.3 99.2,97.4 99.9,94.9 100.5,98.0 101.2,95.4 101.8,93.8 102.5,94.4 103.1,93.9 103.8,95.7 104.4,95.9 105.1,95.3 105.7,93.2 106.4,87.4 107.0,93.9 107.7,91.2 108.3,95.4 109.0,97.6 109.6,95.8 110.3,94.1 110.9,94.4 111.6,94.4 112.2,93.5 112.9,93.1 113.5,92.9 114.2,96.9 114.8,95.2 115.5,96.5 116.1,94.3 116.8,94.6 117.4,94.3 118.1,95.6 118.7,96.3 119.4,94.9 120.0,92.8 120.7,92.9 121.3,97.5 122.0,94.0 122.6,93.9 123.3,97.5 123.9,97.0 124.6,95.4 125.2,94.0 125.9,99.0 126.5,95.6 127.2,95.2 127.8,93.4 128.5,90.6 129.1,90.9 129.8,94.5 130.4,94.8 131.1,93.2 131.7,90.9 132.4,90.4 133.0,92.4 133.7,90.9 134.3,95.6 135.0,97.2 135.6,100.2 136.3,96.2 136.9,92.4 137.6,90.8 138.2,86.0 138.9,91.4 139.5,93.4 140.2,95.8 140.8,95.3 141.5,95.0 142.1,94.4 142.8,95.4 143.4,96.5 144.1,91.5 144.7,91.9 145.4,90.9 146.0,96.9 146.7,96.8 147.3,95.1 148.0,91.2 148.6,93.4 149.3,93.0 149.9,93.5 150.6,93.2 151.2,94.3 151.9,92.9 152.5,95.1 153.2,94.0 153.8,92.8 154.5,92.9 155.1,92.6 155.8,94.9 156.4,93.0 157.1,93.8 157.7,92.2 158.4,90.3 159.0,94.5 159.7,91.5 160.3,94.6 161.0,93.9 161.6,89.6 162.3,90.7 162.9,91.7 163.6,91.1 164.2,90.7 164.9,94.4 165.5,93.0 166.2,93.9 166.8,92.5 167.5,93.5 168.1,91.7 168.8,93.1 169.4,94.4 170.1,93.3 170.7,91.9 171.4,90.8 172.0,93.3 172.7,93.9 173.3,92.5 174.0,91.6 174.6,94.8 175.3,98.5 175.9,93.3 176.6,93.9 177.2,93.4 177.9,87.9 178.5,92.5 179.2,92.0 179.8,95.8 180.5,92.8 181.1,91.4 181.8,92.5 182.4,93.3 183.1,92.0 183.7,92.5 184.4,90.2 185.0,92.5 185.7,95.2 186.3,97.7 187.0,95.2 187.6,94.2 188.3,95.9 188.9,96.0 189.6,97.2 190.2,95.8 190.9,93.2 191.5,93.6 192.2,93.6 192.8,93.8 193.5,93.4 194.1,90.9 194.8,88.2 195.4,90.6 196.1,88.6 196.7,92.7 197.4,92.7 198.0,89.7 198.7,94.3 199.3,95.1 200.0,93.9 200.6,97.1 201.3,97.1 201.9,91.3 202.6,94.9" fill="none" stroke="#000" stroke-width="1.0" stroke-linejoin="round"/>
<polyline points="234.0,98.4 234.7,103.4 235.3,95.4 236.0,97.3 236.6,103.0 237.3,98.5 237.9,93.5 238.6,96.9 239.2,103.0 239.9,103.3 240.5,94.2 241.2,100.2 241.8,100.4 242.5,73.1 243.1,56.9 243.8,47.4 244.4,42.7 245.1,37.9 245.7,40.1 246.4,36.3 247.0,35.5 247.7,35.4 248.3,37.0 249.0,34.0 249.6,38.4 250.3,36.8 250.9,35.5 251.6,35.2 252.2,37.0 252.9,38.8 253.5,38.6 254.2,37.0 254.8,38.1 255.5,36.4 256.1,39.3 256.8,34.8 257.4,29.1 258.1,38.9 258.7,35.8 259.4,31.6 260.0,34.0 260.7,33.4 261.3,42.3 262.0,37.5 262.6,31.0 263.3,36.7 263.9,35.5 264.6,41.5 265.2,32.4 265.9,28.3 266.5,35.2 267.2,34.8 267.8,33.8 268.5,29.2 269.1,37.4 269.8,41.1 270.4,31.3 271.1,39.2 271.7,36.0 272.4,44.1 273.0,38.9 273.7,36.6 274.3,40.4 275.0,38.6 275.6,35.4 276.3,38.7 276.9,34.8 277.6,31.7 278.2,42.7 278.9,36.5 279.5,35.1 280.2,37.4 280.8,31.7 281.5,32.0 282.1,34.9 282.8,35.5 283.4,37.9 284.1,41.0 284.7,36.6 285.4,39.2 286.0,39.4 286.7,34.5 287.3,37.7 288.0,35.3 288.6,41.1 289.3,39.8 289.9,37.7 290.6,33.7 291.2,37.6 291.9,36.0 292.5,40.1 293.2,37.8 293.8,36.0 294.5,41.3 295.1,40.9 295.8,37.3 296.4,41.9 297.1,37.9 297.7,37.5 298.4,38.6 299.0,36.1 299.7,37.0 300.3,38.7 301.0,44.4 301.6,44.3 302.3,39.4 302.9,44.2 303.6,39.8 304.2,40.7 304.9,42.4 305.5,41.5 306.2,47.4 306.8,40.7 307.5,36.1 308.1,43.1 308.8,38.6 309.4,37.2 310.1,30.2 310.7,42.1 311.4,43.1 312.0,43.1 312.7,44.0 313.3,45.8 314.0,40.9 314.6,44.9 315.3,41.4 315.9,43.8 316.6,49.5 317.2,48.5 317.9,44.5 318.5,50.2 319.2,50.0 319.8,49.3 320.5,53.8 321.1,52.1 321.8,49.2 322.4,52.3 323.1,61.5 323.7,53.6 324.4,59.0 325.0,61.8 325.7,62.1 326.3,57.2 327.0,60.4 327.6,63.3 328.3,65.8 328.9,61.8 329.6,61.1 330.2,68.7 330.9,70.3 331.5,68.2 332.2,65.7 332.8,69.1 333.5,69.4 334.1,71.4 334.8,66.0 335.4,70.0 336.1,69.8 336.7,67.6 337.4,72.0 338.0,72.2 338.7,71.5 339.3,73.6 340.0,69.1 340.6,73.4 341.3,75.9 341.9,76.3 342.6,78.3 343.2,71.4 343.9,70.6 344.5,76.6 345.2,79.0 345.8,84.2 346.5,79.7 347.1,75.3 347.8,79.8 348.4,75.1 349.1,74.3 349.7,86.7 350.4,81.4 351.0,81.9 351.7,82.4 352.3,86.0 353.0,82.1 353.6,83.9 354.3,77.0 354.9,76.3 355.6,85.6 356.2,86.7 356.9,83.6 357.5,82.5 358.2,82.0 358.8,80.3 359.5,87.0 360.1,85.2 360.8,84.4 361.4,84.4 362.1,86.5 362.7,85.2 363.4,85.2 364.0,79.9 364.7,85.4 365.3,90.5 366.0,82.7 366.6,83.4 367.3,87.1 367.9,87.7 368.6,85.8 369.2,79.4 369.9,84.8 370.5,80.4 371.2,81.6 371.8,85.9 372.5,84.3 373.1,88.6 373.8,95.8 374.4,89.1 375.1,87.4 375.7,82.3 376.4,82.3 377.0,81.4 377.7,82.8 378.3,81.4 379.0,82.9 379.6,84.3 380.3,81.8 380.9,80.2 381.6,81.0 382.2,86.8 382.9,86.7 383.5,89.8 384.2,89.7 384.8,85.7 385.5,87.6 386.1,82.7 386.8,93.6 387.4,91.1 388.1,85.7 388.7,82.7 389.4,86.5 390.0,80.3 390.7,83.6 391.3,88.7 392.0,87.0 392.6,85.5 393.3,89.2 393.9,83.9 394.6,87.1 395.2,85.0 395.9,84.1 396.5,87.7 397.2,84.7 397.8,92.5 398.5,86.7 399.1,92.8 399.8,84.5 400.4,88.1 401.1,82.9 401.7,82.3 402.4,87.4 403.0,88.9 403.7,83.8 404.3,90.2 405.0,85.2 405.6,87.5 406.3,88.8 406.9,88.7 407.6,82.4 408.2,92.1 408.9,89.7 409.5,85.8 410.2,83.2 410.8,80.9 411.5,82.5 412.1,88.5 412.8,86.1 413.4,83.5 414.1,86.0 414.7,92.3 415.4,86.9 416.0,86.1 416.7,91.9 417.3,89.6 418.0,87.7 418.6,85.0 419.3,81.8 419.9,83.0 420.6,85.5 421.2,86.9 421.9,88.9 422.5,89.7 423.2,88.7 423.8,88.1 424.5,83.6 425.1,80.1 425.8,85.1" fill="none" stroke="#000" stroke-width="1.0" stroke-linejoin="round"/>
<polyline points="234.0,99.6 234.7,94.0 235.3,98.3 236.0,101.3 236.6,89.0 237.3,96.1 237.9,101.5 238.6,98.0 239.2,97.6 239.9,101.7 240.5,97.0 241.2,102.7 241.8,105.4 242.5,77.1 243.1,62.3 243.8,50.3 244.4,40.1 245.1,39.7 245.7,43.4 246.4,37.7 247.0,36.2 247.7,41.0 248.3,41.8 249.0,41.1 249.6,35.5 250.3,37.7 250.9,40.8 251.6,35.8 252.2,35.5 252.9,40.9 253.5,42.9 254.2,33.8 254.8,28.5 255.5,31.9 256.1,34.2 256.8,37.6 257.4,40.2 258.1,37.8 258.7,36.1 259.4,38.3 260.0,35.4 260.7,37.7 261.3,37.6 262.0,47.5 262.6,42.1 263.3,36.0 263.9,35.0 264.6,36.4 265.2,33.1 265.9,35.6 266.5,36.7 267.2,41.5 267.8,37.8 268.5,35.9 269.1,34.1 269.8,34.9 270.4,38.6 271.1,39.1 271.7,42.8 272.4,38.4 273.0,42.9 273.7,40.9 274.3,38.9 275.0,32.7 275.6,35.1 276.3,42.3 276.9,44.8 277.6,41.5 278.2,42.4 278.9,38.9 279.5,38.5 280.2,38.2 280.8,43.3 281.5,41.7 282.1,39.6 282.8,39.4 283.4,42.2 284.1,41.4 284.7,38.7 285.4,45.9 286.0,42.2 286.7,41.4 287.3,46.0 288.0,44.7 288.6,41.2 289.3,42.2 289.9,37.4 290.6,37.6 291.2,33.9 291.9,43.4 292.5,35.8 293.2,42.3 293.8,38.5 294.5,37.7 295.1,40.5 295.8,42.5 296.4,44.3 297.1,47.7 297.7,43.9 298.4,44.4 299.0,40.4 299.7,43.9 300.3,42.4 301.0,40.4 301.6,41.4 302.3,41.8 302.9,42.8 303.6,43.3 304.2,40.4 304.9,39.9 305.5,43.7 306.2,36.8 306.8,40.3 307.5,46.1 308.1,34.0 308.8,39.4 309.4,43.9 310.1,38.6 310.7,49.4 311.4,36.0 312.0,47.1 312.7,48.9 313.3,46.4 314.0,42.8 314.6,44.9 315.3,43.1 315.9,48.7 316.6,44.7 317.2,48.4 317.9,53.2 318.5,48.3 319.2,51.2 319.8,53.7 320.5,51.1 321.1,59.3 321.8,57.9 322.4,53.1 323.1,57.7 323.7,56.9 324.4,58.2 325.0,61.2 325.7,60.4 326.3,65.7 327.0,62.4 327.6,67.5 328.3,66.0 328.9,68.6 329.6,65.2 330.2,65.1 330.9,64.4 331.5,70.6 332.2,73.5 332.8,77.8 333.5,75.7 334.1,72.4 334.8,71.2 335.4,73.4 336.1,73.4 336.7,78.4 337.4,77.0 338.0,71.6 338.7,72.6 339.3,79.4 340.0,77.0 340.6,75.8 341.3,80.0 341.9,75.9 342.6,75.9 343.2,75.1 343.9,71.7 344.5,79.8 345.2,74.8 345.8,76.3 346.5,76.9 347.1,81.6 347.8,79.9 348.4,79.5 349.1,74.9 349.7,79.1 350.4,76.3 351.0,81.8 351.7,82.8 352.3,82.7 353.0,88.8 353.6,85.0 354.3,84.7 354.9,83.3 355.6,82.7 356.2,86.6 356.9,86.7 357.5,80.1 358.2,86.8 358.8,86.4 359.5,87.6 360.1,85.6 360.8,80.0 361.4,81.0 362.1,90.3 362.7,85.8 363.4,80.6 364.0,85.6 364.7,83.5 365.3,78.3 366.0,76.7 366.6,79.7 367.3,86.0 367.9,85.8 368.6,85.3 369.2,87.2 369.9,87.5 370.5,79.7 371.2,84.3 371.8,83.3 372.5,82.1 373.1,84.5 373.8,86.2 374.4,85.5 375.1,82.0 375.7,85.8 376.4,93.2 377.0,84.0 377.7,81.6 378.3,87.9 379.0,89.8 379.6,88.9 380.3,84.6 380.9,90.2 381.6,85.2 382.2,83.6 382.9,85.5 383.5,87.7 384.2,90.6 384.8,90.4 385.5,88.7 386.1,91.3 386.8,89.3 387.4,90.7 388.1,83.5 388.7,83.0 389.4,89.8 390.0,84.2 390.7,87.0 391.3,88.0 392.0,86.8 392.6,87.6 393.3,92.0 393.9,81.4 394.6,91.6 395.2,96.7 395.9,89.9 396.5,89.1 397.2,92.0 397.8,94.7 398.5,85.9 399.1,88.7 399.8,88.7 400.4,90.9 401.1,90.1 401.7,91.2 402.4,88.1 403.0,88.9 403.7,86.8 404.3,86.7 405.0,88.5 405.6,88.3 406.3,86.1 406.9,93.9 407.6,89.0 408.2,85.2 408.9,92.1 409.5,87.6 410.2,90.7 410.8,89.7 411.5,90.3 412.1,89.9 412.8,87.7 413.4,90.2 414.1,95.2 414.7,83.1 415.4,89.0 416.0,90.6 416.7,85.7 417.3,85.6 418.0,95.9 418.6,90.1 419.3,96.4 419.9,92.2 420.6,90.3 421.2,91.5 421.9,92.4 422.5,93.9 423.2,91.6 423.8,90.4 424.5,90.9 425.1,94.5 425.8,92.9" fill="none" stroke="#000" stroke-width="1.0" stroke-linejoin="round"/>
<polyline points="234.0,108.3 234.7,98.7 235.3,107.5 236.0,100.6 236.6,104.9 237.3,100.2 237.9,101.2 238.6,93.2 239.2,102.3 239.9,98.6 240.5,101.8 241.2,102.9 241.8,102.7 242.5,85.3 243.1,68.1 243.8,53.9 244.4,43.2 245.1,40.4 245.7,47.2 246.4,44.9 247.0,41.8 247.7,39.6 248.3,40.8 249.0,40.7 249.6,39.3 250.3,39.2 250.9,47.7 251.6,42.2 252.2,38.4 252.9,36.1 253.5,38.3 254.2,43.4 254.8,43.8 255.5,40.7 256.1,41.1 256.8,39.8 257.4,38.0 258.1,45.3 258.7,44.2 259.4,49.4 260.0,40.0 260.7,41.1 261.3,44.4 262.0,40.6 262.6,36.6 263.3,38.1 263.9,41.9 264.6,43.0 265.2,42.2 265.9,45.7 266.5,45.8 267.2,43.6 267.8,42.3 268.5,41.6 269.1,44.3 269.8,45.6 270.4,43.1 271.1,43.8 271.7,41.0 272.4,37.3 273.0,39.0 273.7,44.9 274.3,45.1 275.0,48.2 275.6,44.0 276.3,46.3 276.9,48.0 277.6,46.5 278.2,41.3 278.9,42.2 279.5,43.0 280.2,40.2 280.8,44.8 281.5,46.6 282.1,43.0 282.8,49.6 283.4,43.2 284.1,42.6 284.7,42.4 285.4,41.3 286.0,44.7 286.7,44.6 287.3,49.5 288.0,46.7 288.6,45.8 289.3,42.8 289.9,39.2 290.6,42.8 291.2,41.6 291.9,46.9 292.5,45.2 293.2,50.0 293.8,47.7 294.5,47.5 295.1,45.6 295.8,45.5 296.4,47.1 297.1,47.6 297.7,42.8 298.4,47.1 299.0,53.5 299.7,45.5 300.3,43.7 301.0,41.9 301.6,40.4 302.3,48.3 302.9,45.9 303.6,46.9 304.2,52.4 304.9,53.9 305.5,43.8 306.2,48.7 306.8,48.0 307.5,47.2 308.1,47.2 308.8,46.3 309.4,51.1 310.1,48.5 310.7,47.6 311.4,50.4 312.0,49.5 312.7,47.9 313.3,47.9 314.0,52.1 314.6,49.6 315.3,48.1 315.9,46.8 316.6,49.1 317.2,48.6 317.9,53.4 318.5,54.5 319.2,48.9 319.8,56.1 320.5,59.9 321.1,59.1 321.8,57.1 322.4,64.1 323.1,59.2 323.7,57.6 324.4,59.2 325.0,64.0 325.7,68.6 326.3,70.0 327.0,67.1 327.6,63.1 328.3,64.9 328.9,65.3 329.6,67.6 330.2,64.1 330.9,70.5 331.5,73.3 332.2,71.8 332.8,73.5 333.5,69.5 334.1,68.1 334.8,71.9 335.4,78.6 336.1,78.8 336.7,75.0 337.4,79.7 338.0,76.6 338.7,82.0 339.3,79.5 340.0,76.9 340.6,80.4 341.3,76.0 341.9,75.0 342.6,74.4 343.2,80.0 343.9,80.0 344.5,80.0 345.2,80.0 345.8,85.6 346.5,80.4 347.1,79.7 347.8,86.5 348.4,87.7 349.1,83.6 349.7,77.1 350.4,80.7 351.0,85.2 351.7,84.6 352.3,88.5 353.0,80.6 353.6,85.8 354.3,83.4 354.9,88.9 355.6,85.8 356.2,88.3 356.9,83.1 357.5,80.3 358.2,81.3 358.8,83.1 359.5,83.0 360.1,90.4 360.8,91.5 361.4,87.7 362.1,83.5 362.7,85.9 363.4,85.4 364.0,91.9 364.7,89.2 365.3,89.1 366.0,85.7 366.6,80.7 367.3,84.1 367.9,84.2 368.6,88.9 369.2,88.4 369.9,85.6 370.5,87.5 371.2,93.2 371.8,85.8 372.5,85.3 373.1,87.4 373.8,86.4 374.4,87.6 375.1,91.4 375.7,94.4 376.4,84.1 377.0,88.6 377.7,89.5 378.3,89.2 379.0,88.8 379.6,88.9 380.3,92.7 380.9,88.6 381.6,89.3 382.2,89.9 382.9,90.3 383.5,89.9 384.2,93.3 384.8,90.6 385.5,90.8 386.1,89.8 386.8,86.6 387.4,86.8 388.1,86.7 388.7,90.4 389.4,87.8 390.0,86.8 390.7,91.2 391.3,91.7 392.0,85.8 392.6,95.6 393.3,91.5 393.9,90.9 394.6,94.3 395.2,91.3 395.9,89.8 396.5,97.5 397.2,88.3 397.8,90.6 398.5,93.3 399.1,87.8 399.8,90.4 400.4,93.3 401.1,98.8 401.7,89.2 402.4,90.9 403.0,93.4 403.7,91.3 404.3,87.5 405.0,92.2 405.6,92.0 406.3,93.3 406.9,95.7 407.6,95.3 408.2,93.3 408.9,92.1 409.5,87.8 410.2,90.6 410.8,91.9 411.5,90.3 412.1,91.3 412.8,89.4 413.4,97.1 414.1,99.1 414.7,91.3 415.4,92.6 416.0,91.5 416.7,95.8 417.3,93.6 418.0,91.9 418.6,90.9 419.3,91.5 419.9,88.7 420.6,93.2 421.2,89.8 421.9,93.2 422.5,92.8 423.2,95.3 423.8,92.5 424.5,94.7 425.1,89.3 425.8,93.3" fill="none" stroke="#000" stroke-width="1.0" stroke-linejoin="round"/>
<polyline points="234.0,100.3 234.7,96.9 235.3,100.4 236.0,97.1 236.6,100.4 237.3,103.1 237.9,107.8 238.6,99.4 239.2,97.1 239.9,98.0 240.5,95.1 241.2,99.2 241.8,99.4 242.5,90.7 243.1,65.1 243.8,62.7 244.4,58.1 245.1,49.0 245.7,47.7 246.4,50.0 247.0,52.1 247.7,43.9 248.3,41.5 249.0,49.0 249.6,50.8 250.3,44.5 250.9,39.4 251.6,49.3 252.2,46.1 252.9,49.1 253.5,46.0 254.2,44.5 254.8,44.9 255.5,50.8 256.1,50.1 256.8,39.7 257.4,43.1 258.1,51.0 258.7,45.2 259.4,41.9 260.0,45.7 260.7,45.9 261.3,45.8 262.0,44.8 262.6,45.1 263.3,45.1 263.9,47.0 264.6,44.1 265.2,45.4 265.9,46.6 266.5,50.8 267.2,48.3 267.8,46.8 268.5,48.6 269.1,48.7 269.8,50.6 270.4,49.6 271.1,53.2 271.7,51.8 272.4,47.3 273.0,46.2 273.7,49.9 274.3,49.1 275.0,46.6 275.6,42.1 276.3,41.3 276.9,48.1 277.6,50.2 278.2,49.8 278.9,44.3 279.5,50.1 280.2,46.5 280.8,48.8 281.5,48.8 282.1,45.2 282.8,44.9 283.4,41.0 284.1,43.6 284.7,42.3 285.4,48.7 286.0,48.7 286.7,51.0 287.3,49.3 288.0,46.5 288.6,48.9 289.3,47.4 289.9,50.1 290.6,49.2 291.2,45.5 291.9,48.1 292.5,48.5 293.2,48.0 293.8,51.8 294.5,54.0 295.1,48.1 295.8,46.6 296.4,41.7 297.1,47.4 297.7,46.6 298.4,42.2 299.0,49.2 299.7,50.6 300.3,46.9 301.0,47.3 301.6,46.3 302.3,50.5 302.9,44.7 303.6,48.5 304.2,55.1 304.9,50.4 305.5,50.8 306.2,48.7 306.8,45.8 307.5,49.1 308.1,50.4 308.8,46.8 309.4,50.8 310.1,54.0 310.7,52.9 311.4,45.0 312.0,45.6 312.7,45.0 313.3,52.8 314.0,52.5 314.6,52.2 315.3,48.4 315.9,48.5 316.6,53.3 317.2,54.5 317.9,53.0 318.5,56.8 319.2,59.5 319.8,58.9 320.5,55.3 321.1,53.2 321.8,59.4 322.4,62.1 323.1,61.7 323.7,61.7 324.4,62.1 325.0,66.7 325.7,65.7 326.3,66.2 327.0,63.7 327.6,65.3 328.3,68.0 328.9,65.2 329.6,65.0 330.2,68.9 330.9,74.1 331.5,72.6 332.2,76.0 332.8,72.1 333.5,71.0 334.1,68.4 334.8,71.7 335.4,78.2 336.1,76.2 336.7,77.4 337.4,77.6 338.0,75.8 338.7,75.4 339.3,76.9 340.0,79.0 340.6,78.9 341.3,79.2 341.9,78.1 342.6,75.7 343.2,77.0 343.9,76.1 344.5,80.9 345.2,73.2 345.8,79.0 346.5,86.9 347.1,79.6 347.8,76.8 348.4,80.7 349.1,84.8 349.7,81.4 350.4,83.2 351.0,82.0 351.7,81.9 352.3,91.5 353.0,83.4 353.6,80.6 354.3,81.0 354.9,83.9 355.6,84.7 356.2,85.7 356.9,83.5 357.5,79.4 358.2,84.6 358.8,82.9 359.5,82.4 360.1,79.2 360.8,81.6 361.4,81.9 362.1,83.6 362.7,80.2 363.4,84.4 364.0,84.9 364.7,81.4 365.3,82.5 366.0,82.7 366.6,86.8 367.3,78.0 367.9,82.9 368.6,80.3 369.2,84.1 369.9,88.0 370.5,84.4 371.2,85.9 371.8,84.3 372.5,92.1 373.1,90.2 373.8,89.6 374.4,82.4 375.1,83.1 375.7,89.4 376.4,86.4 377.0,86.0 377.7,87.2 378.3,83.4 379.0,88.8 379.6,87.5 380.3,88.3 380.9,85.4 381.6,88.2 382.2,85.6 382.9,90.3 383.5,91.5 384.2,90.8 384.8,89.6 385.5,88.5 386.1,79.8 386.8,89.0 387.4,87.1 388.1,87.7 388.7,86.3 389.4,83.1 390.0,85.8 390.7,90.1 391.3,92.2 392.0,86.1 392.6,85.4 393.3,91.7 393.9,86.6 394.6,94.0 395.2,88.6 395.9,85.7 396.5,91.4 397.2,93.1 397.8,85.0 398.5,92.2 399.1,88.5 399.8,92.5 400.4,87.0 401.1,83.5 401.7,89.5 402.4,92.1 403.0,95.7 403.7,94.6 404.3,91.0 405.0,87.7 405.6,86.6 406.3,87.0 406.9,85.7 407.6,86.3 408.2,80.6 408.9,88.0 409.5,89.4 410.2,96.6 410.8,91.6 411.5,87.6 412.1,89.6 412.8,84.8 413.4,85.5 414.1,83.2 414.7,92.5 415.4,90.5 416.0,85.2 416.7,88.4 417.3,91.7 418.0,90.7 418.6,89.7 419.3,86.0 419.9,86.4 420.6,89.1 421.2,91.2 421.9,86.1 422.5,85.4 423.2,91.4 423.8,86.7 424.5,91.8 425.1,90.2 425.8,91.5" fill="none" stroke="#000" stroke-width="1.0" stroke-linejoin="round"/>
<polyline points="234.0,100.6 234.7,95.0 235.3,93.9 236.0,94.5 236.6,100.1 237.3,99.9 237.9,100.6 238.6,92.4 239.2,98.8 239.9,100.2 240.5,104.8 241.2,97.6 241.8,96.8 242.5,89.3 243.1,77.8 243.8,76.7 244.4,61.8 245.1,63.0 245.7,60.5 246.4,50.0 247.0,49.0 247.7,54.2 248.3,51.6 249.0,53.4 249.6,55.0 250.3,50.4 250.9,47.1 251.6,43.0 252.2,50.4 252.9,48.6 253.5,51.8 254.2,51.4 254.8,47.9 255.5,56.0 256.1,55.3 256.8,53.7 257.4,48.0 258.1,49.5 258.7,49.5 259.4,49.6 260.0,48.3 260.7,52.5 261.3,52.5 262.0,52.6 262.6,50.8 263.3,55.4 263.9,51.8 264.6,43.8 265.2,49.1 265.9,51.9 266.5,54.7 267.2,51.5 267.8,51.1 268.5,50.4 269.1,53.8 269.8,51.0 270.4,50.2 271.1,50.3 271.7,53.6 272.4,50.6 273.0,47.8 273.7,53.6 274.3,51.0 275.0,53.6 275.6,54.4 276.3,56.8 276.9,56.1 277.6,51.6 278.2,51.8 278.9,49.9 279.5,57.6 280.2,55.5 280.8,57.3 281.5,52.1 282.1,47.9 282.8,57.1 283.4,54.3 284.1,53.9 284.7,54.0 285.4,55.7 286.0,54.8 286.7,49.7 287.3,56.1 288.0,52.5 288.6,52.9 289.3,59.0 289.9,57.1 290.6,52.7 291.2,48.7 291.9,54.1 292.5,55.8 293.2,53.7 293.8,50.4 294.5,51.2 295.1,50.6 295.8,54.9 296.4,57.3 297.1,57.5 297.7,53.0 298.4,55.3 299.0,56.2 299.7,53.4 300.3,55.0 301.0,61.0 301.6,56.6 302.3,57.4 302.9,54.1 303.6,54.4 304.2,50.2 304.9,54.9 305.5,59.4 306.2,62.2 306.8,59.8 307.5,57.8 308.1,55.7 308.8,53.8 309.4,55.1 310.1,57.1 310.7,54.0 311.4,57.8 312.0,52.7 312.7,50.0 313.3,51.7 314.0,50.3 314.6,51.0 315.3,59.0 315.9,57.3 316.6,59.4 317.2,63.4 317.9,64.4 318.5,61.0 319.2,66.2 319.8,64.9 320.5,64.5 321.1,65.9 321.8,61.7 322.4,64.0 323.1,67.2 323.7,69.9 324.4,68.2 325.0,69.7 325.7,73.8 326.3,75.9 327.0,75.0 327.6,76.3 328.3,72.3 328.9,72.8 329.6,75.0 330.2,74.0 330.9,74.5 331.5,80.5 332.2,76.2 332.8,74.3 333.5,79.2 334.1,83.5 334.8,79.8 335.4,82.3 336.1,78.4 336.7,78.0 337.4,78.0 338.0,80.6 338.7,85.8 339.3,79.3 340.0,85.7 340.6,79.7 341.3,81.7 341.9,85.3 342.6,85.3 343.2,83.9 343.9,79.2 344.5,84.1 345.2,82.4 345.8,91.5 346.5,85.3 347.1,85.2 347.8,82.0 348.4,83.4 349.1,82.4 349.7,88.4 350.4,86.2 351.0,87.9 351.7,84.8 352.3,85.8 353.0,90.4 353.6,84.4 354.3,82.2 354.9,87.9 355.6,84.7 356.2,86.8 356.9,90.5 357.5,86.8 358.2,90.6 358.8,87.7 359.5,93.5 360.1,93.3 360.8,88.3 361.4,88.3 362.1,87.1 362.7,90.3 363.4,92.6 364.0,86.5 364.7,91.7 365.3,86.3 366.0,86.6 366.6,85.7 367.3,95.9 367.9,91.6 368.6,91.1 369.2,89.3 369.9,92.9 370.5,85.3 371.2,91.1 371.8,97.3 372.5,90.9 373.1,91.4 373.8,93.0 374.4,89.4 375.1,91.6 375.7,94.4 376.4,92.7 377.0,92.7 377.7,91.0 378.3,92.7 379.0,92.7 379.6,96.4 380.3,94.6 380.9,90.8 381.6,85.3 382.2,93.7 382.9,94.4 383.5,89.2 384.2,85.9 384.8,88.7 385.5,94.3 386.1,89.6 386.8,90.9 387.4,93.5 388.1,96.2 388.7,93.0 389.4,92.2 390.0,91.7 390.7,97.7 391.3,96.4 392.0,92.5 392.6,88.5 393.3,90.3 393.9,94.1 394.6,91.4 395.2,95.4 395.9,94.5 396.5,94.3 397.2,95.3 397.8,94.5 398.5,90.7 399.1,92.8 399.8,99.4 400.4,90.4 401.1,91.8 401.7,96.1 402.4,92.9 403.0,90.4 403.7,89.4 404.3,94.8 405.0,97.0 405.6,97.8 406.3,94.4 406.9,96.1 407.6,90.9 408.2,93.3 408.9,91.6 409.5,94.0 410.2,96.1 410.8,96.5 411.5,91.5 412.1,96.7 412.8,92.3 413.4,90.4 414.1,92.2 414.7,89.3 415.4,93.2 416.0,94.4 416.7,93.3 417.3,95.0 418.0,92.9 418.6,93.0 419.3,89.5 419.9,93.0 420.6,91.1 421.2,92.1 421.9,93.3 422.5,93.6 423.2,88.5 423.8,88.5 424.5,92.5 425.1,95.1 425.8,95.0" fill="none" stroke="#000" stroke-width="1.0" stroke-linejoin="round"/>
<polyline points="234.0,100.3 234.7,97.4 235.3,98.1 236.0,106.8 236.6,100.0 237.3,101.1 237.9,100.0 238.6,88.8 239.2,104.8 239.9,97.9 240.5,96.3 241.2,100.8 241.8,102.5 242.5,96.1 243.1,90.9 243.8,88.8 244.4,87.9 245.1,84.4 245.7,82.3 246.4,74.9 247.0,81.4 247.7,84.0 248.3,80.4 249.0,74.9 249.6,72.7 250.3,74.5 250.9,71.7 251.6,74.9 252.2,72.4 252.9,75.7 253.5,75.9 254.2,67.8 254.8,72.2 255.5,69.9 256.1,67.9 256.8,69.7 257.4,71.2 258.1,73.6 258.7,68.1 259.4,74.1 260.0,76.8 260.7,73.3 261.3,72.4 262.0,70.5 262.6,67.8 263.3,71.6 263.9,71.8 264.6,73.1 265.2,77.3 265.9,72.9 266.5,71.8 267.2,73.6 267.8,66.4 268.5,66.1 269.1,68.0 269.8,67.8 270.4,70.8 271.1,69.2 271.7,74.0 272.4,73.7 273.0,71.2 273.7,68.2 274.3,70.4 275.0,70.5 275.6,66.1 276.3,69.1 276.9,70.2 277.6,69.4 278.2,72.5 278.9,71.3 279.5,66.1 280.2,67.5 280.8,65.7 281.5,68.4 282.1,65.6 282.8,69.5 283.4,68.8 284.1,69.6 284.7,66.4 285.4,63.6 286.0,70.7 286.7,67.2 287.3,70.1 288.0,68.2 288.6,68.7 289.3,71.2 289.9,68.0 290.6,69.2 291.2,62.8 291.9,67.4 292.5,65.3 293.2,65.1 293.8,65.5 294.5,66.7 295.1,69.0 295.8,60.9 296.4,64.3 297.1,63.4 297.7,67.4 298.4,64.1 299.0,65.5 299.7,63.8 300.3,66.3 301.0,66.9 301.6,63.5 302.3,63.6 302.9,60.4 303.6,64.4 304.2,65.8 304.9,62.8 305.5,65.5 306.2,57.8 306.8,57.4 307.5,58.8 308.1,61.4 308.8,62.8 309.4,62.6 310.1,62.8 310.7,64.3 311.4,61.1 312.0,58.6 312.7,59.4 313.3,66.5 314.0,56.7 314.6,65.4 315.3,70.7 315.9,68.9 316.6,66.2 317.2,68.8 317.9,72.0 318.5,73.1 319.2,68.9 319.8,72.9 320.5,72.9 321.1,75.6 321.8,76.6 322.4,72.3 323.1,70.0 323.7,75.3 324.4,79.6 325.0,77.5 325.7,77.1 326.3,81.9 327.0,74.8 327.6,78.6 328.3,76.0 328.9,77.5 329.6,78.6 330.2,81.9 330.9,76.5 331.5,76.7 332.2,75.1 332.8,80.1 333.5,79.0 334.1,80.7 334.8,77.7 335.4,79.8 336.1,83.5 336.7,81.3 337.4,83.2 338.0,83.2 338.7,80.8 339.3,78.4 340.0,84.5 340.6,83.7 341.3,84.8 341.9,77.7 342.6,77.7 343.2,77.2 343.9,81.1 344.5,86.4 345.2,85.8 345.8,84.4 346.5,85.0 347.1,86.4 347.8,84.3 348.4,85.8 349.1,84.8 349.7,79.4 350.4,84.0 351.0,88.7 351.7,84.9 352.3,85.0 353.0,84.1 353.6,84.9 354.3,88.7 354.9,85.5 355.6,82.6 356.2,77.9 356.9,83.4 357.5,80.8 358.2,81.6 358.8,88.5 359.5,88.4 360.1,82.5 360.8,88.8 361.4,88.4 362.1,85.6 362.7,88.4 363.4,83.1 364.0,83.4 364.7,83.1 365.3,84.6 366.0,89.2 366.6,84.2 367.3,84.1 367.9,85.1 368.6,88.0 369.2,87.5 369.9,89.9 370.5,86.1 371.2,84.5 371.8,86.5 372.5,87.9 373.1,86.0 373.8,89.4 374.4,93.0 375.1,87.5 375.7,88.9 376.4,91.8 377.0,87.1 377.7,85.9 378.3,85.7 379.0,89.5 379.6,90.1 380.3,88.5 380.9,89.2 381.6,92.4 382.2,91.0 382.9,85.5 383.5,88.5 384.2,89.4 384.8,90.8 385.5,88.4 386.1,87.1 386.8,87.1 387.4,84.3 388.1,88.2 388.7,87.7 389.4,89.8 390.0,86.5 390.7,87.4 391.3,86.2 392.0,86.4 392.6,90.5 393.3,88.4 393.9,89.9 394.6,86.6 395.2,88.6 395.9,84.8 396.5,87.4 397.2,88.1 397.8,90.7 398.5,89.9 399.1,89.2 399.8,91.5 400.4,90.3 401.1,91.1 401.7,91.5 402.4,89.4 403.0,88.8 403.7,90.1 404.3,88.6 405.0,90.7 405.6,92.7 406.3,91.9 406.9,88.4 407.6,86.1 408.2,88.9 408.9,89.5 409.5,92.2 410.2,88.8 410.8,89.1 411.5,91.2 412.1,88.5 412.8,89.6 413.4,94.4 414.1,94.2 414.7,91.8 415.4,90.2 416.0,87.4 416.7,90.8 417.3,90.0 418.0,90.0 418.6,88.4 419.3,89.4 419.9,89.3 420.6,90.9 421.2,93.5 421.9,90.5 422.5,85.2 423.2,86.1 423.8,85.0 424.5,87.3 425.1,91.0 425.8,90.9" fill="none" stroke="#000" stroke-width="1.0" stroke-linejoin="round"/>
<polyline points="234.0,93.2 234.7,105.1 235.3,102.6 236.0,107.3 236.6,100.1 237.3,102.5 237.9,100.8 238.6,101.6 239.2,107.0 239.9,90.8 240.5,102.0 241.2,97.2 241.8,99.4 242.5,99.4 243.1,99.3 243.8,97.3 244.4,96.5 245.1,93.8 245.7,90.6 246.4,92.5 247.0,88.6 247.7,87.8 248.3,91.8 249.0,90.0 249.6,88.2 250.3,88.9 250.9,88.4 251.6,83.4 252.2,85.1 252.9,83.1 253.5,85.3 254.2,84.3 254.8,88.3 255.5,86.4 256.1,83.2 256.8,84.2 257.4,82.0 258.1,84.5 258.7,85.8 259.4,84.6 260.0,79.9 260.7,83.0 261.3,85.2 262.0,85.2 262.6,86.3 263.3,81.4 263.9,84.4 264.6,82.5 265.2,84.0 265.9,84.7 266.5,85.0 267.2,82.4 267.8,83.3 268.5,80.3 269.1,79.9 269.8,84.0 270.4,82.7 271.1,79.1 271.7,80.6 272.4,83.2 273.0,86.7 273.7,85.8 274.3,84.3 275.0,78.8 275.6,82.0 276.3,83.7 276.9,83.6 277.6,83.4 278.2,82.4 278.9,86.6 279.5,86.0 280.2,82.1 280.8,80.4 281.5,86.2 282.1,81.6 282.8,85.0 283.4,86.2 284.1,80.3 284.7,82.0 285.4,81.1 286.0,82.7 286.7,82.9 287.3,86.1 288.0,83.3 288.6,81.8 289.3,83.7 289.9,80.8 290.6,80.9 291.2,85.8 291.9,79.7 292.5,79.6 293.2,80.6 293.8,77.9 294.5,76.0 295.1,82.3 295.8,79.0 296.4,79.0 297.1,79.2 297.7,77.8 298.4,77.7 299.0,81.1 299.7,85.9 300.3,82.8 301.0,81.6 301.6,76.9 302.3,79.2 302.9,77.5 303.6,81.2 304.2,79.5 304.9,79.8 305.5,79.3 306.2,77.9 306.8,76.1 307.5,80.0 308.1,76.2 308.8,76.2 309.4,78.1 310.1,77.7 310.7,79.9 311.4,81.6 312.0,80.0 312.7,79.5 313.3,79.3 314.0,80.3 314.6,82.0 315.3,86.1 315.9,83.8 316.6,83.3 317.2,86.1 317.9,86.0 318.5,88.4 319.2,89.0 319.8,82.1 320.5,87.0 321.1,92.0 321.8,90.4 322.4,91.2 323.1,88.0 323.7,84.3 324.4,85.2 325.0,89.7 325.7,90.4 326.3,86.9 327.0,87.7 327.6,88.5 328.3,84.6 328.9,87.9 329.6,93.0 330.2,94.3 330.9,89.9 331.5,93.0 332.2,88.2 332.8,86.6 333.5,84.3 334.1,90.8 334.8,89.5 335.4,94.8 336.1,91.0 336.7,89.7 337.4,86.1 338.0,92.6 338.7,89.4 339.3,88.8 340.0,85.2 340.6,91.8 341.3,92.4 341.9,89.0 342.6,90.3 343.2,91.4 343.9,92.6 344.5,91.3 345.2,94.2 345.8,90.2 346.5,88.9 347.1,88.5 347.8,84.4 348.4,88.3 349.1,92.7 349.7,91.3 350.4,89.0 351.0,90.7 351.7,86.2 352.3,89.7 353.0,92.1 353.6,92.3 354.3,89.6 354.9,93.3 355.6,95.3 356.2,90.7 356.9,92.1 357.5,87.1 358.2,86.3 358.8,91.9 359.5,91.4 360.1,91.4 360.8,89.8 361.4,90.5 362.1,93.4 362.7,95.2 363.4,90.7 364.0,87.8 364.7,93.8 365.3,93.2 366.0,93.0 366.6,92.6 367.3,96.6 367.9,92.3 368.6,92.0 369.2,87.1 369.9,89.3 370.5,89.7 371.2,91.2 371.8,92.0 372.5,90.3 373.1,94.8 373.8,89.4 374.4,90.2 375.1,91.5 375.7,88.9 376.4,92.6 377.0,93.0 377.7,91.6 378.3,95.8 379.0,92.3 379.6,91.9 380.3,89.0 380.9,87.3 381.6,89.6 382.2,90.5 382.9,90.7 383.5,92.5 384.2,86.1 384.8,87.8 385.5,87.5 386.1,94.0 386.8,90.6 387.4,90.0 388.1,89.3 388.7,93.3 389.4,91.0 390.0,91.5 390.7,87.5 391.3,93.9 392.0,93.1 392.6,93.4 393.3,94.6 393.9,91.6 394.6,91.5 395.2,93.4 395.9,92.8 396.5,91.3 397.2,91.6 397.8,90.8 398.5,93.5 399.1,94.1 399.8,92.5 400.4,95.6 401.1,88.7 401.7,91.3 402.4,95.4 403.0,90.8 403.7,88.4 404.3,94.6 405.0,93.1 405.6,89.4 406.3,92.9 406.9,89.3 407.6,88.4 408.2,90.9 408.9,90.3 409.5,89.1 410.2,90.4 410.8,89.4 411.5,91.6 412.1,92.0 412.8,93.4 413.4,90.6 414.1,88.3 414.7,88.4 415.4,91.3 416.0,95.5 416.7,94.0 417.3,90.9 418.0,93.4 418.6,89.7 419.3,93.7 419.9,91.5 420.6,93.6 421.2,93.4 421.9,91.5 422.5,92.2 423.2,89.5 423.8,91.7 424.5,95.4 425.1,101.6 425.8,94.6" fill="none" stroke="#000" stroke-width="1.0" stroke-linejoin="round"/>
<polyline points="234.0,91.2 234.7,99.4 235.3,97.9 236.0,103.9 236.6,96.9 237.3,107.6 237.9,103.3 238.6,93.5 239.2,99.1 239.9,101.1 240.5,97.1 241.2,98.6 241.8,100.9 242.5,100.4 243.1,105.7 243.8,102.4 244.4,100.9 245.1,100.9 245.7,103.8 246.4,103.1 247.0,99.7 247.7,101.6 248.3,98.9 249.0,99.6 249.6,98.6 250.3,98.6 250.9,99.8 251.6,99.8 252.2,102.9 252.9,103.6 253.5,101.2 254.2,99.6 254.8,102.6 255.5,97.1 256.1,97.2 256.8,102.8 257.4,103.4 258.1,103.7 258.7,100.9 259.4,98.6 260.0,100.1 260.7,102.2 261.3,99.6 262.0,99.2 262.6,97.7 263.3,98.5 263.9,102.7 264.6,101.9 265.2,98.3 265.9,98.2 266.5,99.5 267.2,101.5 267.8,98.4 268.5,99.5 269.1,95.7 269.8,97.5 270.4,101.3 271.1,102.2 271.7,98.0 272.4,98.6 273.0,101.7 273.7,99.5 274.3,99.1 275.0,101.2 275.6,101.0 276.3,102.7 276.9,101.8 277.6,98.9 278.2,99.5 278.9,99.3 279.5,96.6 280.2,97.6 280.8,101.1 281.5,96.8 282.1,101.3 282.8,100.3 283.4,99.4 284.1,100.6 284.7,100.8 285.4,101.9 286.0,98.7 286.7,98.5 287.3,99.1 288.0,103.3 288.6,101.3 289.3,97.2 289.9,97.8 290.6,97.3 291.2,98.7 291.9,99.8 292.5,103.1 293.2,95.7 293.8,100.4 294.5,99.6 295.1,97.1 295.8,97.8 296.4,97.3 297.1,98.6 297.7,100.0 298.4,95.6 299.0,100.5 299.7,98.1 300.3,101.3 301.0,99.6 301.6,100.8 302.3,99.7 302.9,100.3 303.6,98.0 304.2,96.2 304.9,99.1 305.5,99.9 306.2,101.7 306.8,93.8 307.5,96.8 308.1,99.3 308.8,94.9 309.4,97.1 310.1,102.1 310.7,100.6 311.4,96.1 312.0,100.2 312.7,100.2 313.3,99.1 314.0,98.0 314.6,96.3 315.3,94.0 315.9,94.7 316.6,97.3 317.2,96.8 317.9,99.6 318.5,94.9 319.2,90.5 319.8,94.4 320.5,96.3 321.1,96.6 321.8,95.7 322.4,94.3 323.1,98.4 323.7,94.8 324.4,96.8 325.0,94.8 325.7,93.3 326.3,97.5 327.0,90.3 327.6,93.1 328.3,96.1 328.9,95.0 329.6,96.9 330.2,95.3 330.9,95.0 331.5,99.8 332.2,95.4 332.8,94.7 333.5,92.8 334.1,93.7 334.8,96.7 335.4,96.7 336.1,95.3 336.7,94.0 337.4,96.1 338.0,91.8 338.7,94.0 339.3,94.4 340.0,93.4 340.6,95.2 341.3,93.7 341.9,93.8 342.6,99.0 343.2,97.6 343.9,98.0 344.5,95.9 345.2,97.5 345.8,97.4 346.5,98.6 347.1,100.5 347.8,95.4 348.4,95.7 349.1,94.2 349.7,87.4 350.4,91.3 351.0,95.0 351.7,96.4 352.3,94.4 353.0,97.7 353.6,98.1 354.3,95.0 354.9,98.5 355.6,99.3 356.2,96.3 356.9,93.6 357.5,97.9 358.2,95.1 358.8,94.3 359.5,95.1 360.1,94.3 360.8,97.4 361.4,97.4 362.1,98.0 362.7,96.4 363.4,93.5 364.0,94.8 364.7,96.8 365.3,95.2 366.0,101.1 366.6,95.2 367.3,94.1 367.9,97.6 368.6,97.0 369.2,95.2 369.9,94.7 370.5,96.1 371.2,97.2 371.8,96.8 372.5,94.7 373.1,96.1 373.8,97.2 374.4,96.1 375.1,88.5 375.7,92.2 376.4,93.1 377.0,94.4 377.7,95.6 378.3,97.2 379.0,96.6 379.6,95.0 380.3,95.5 380.9,98.6 381.6,94.3 382.2,95.9 382.9,98.5 383.5,95.6 384.2,90.9 384.8,95.2 385.5,94.3 386.1,95.0 386.8,97.4 387.4,96.2 388.1,94.8 388.7,97.0 389.4,96.2 390.0,95.4 390.7,95.8 391.3,95.6 392.0,94.3 392.6,94.0 393.3,94.7 393.9,92.7 394.6,92.5 395.2,97.4 395.9,94.9 396.5,94.9 397.2,94.7 397.8,95.0 398.5,95.1 399.1,95.0 399.8,93.6 400.4,96.6 401.1,94.1 401.7,96.5 402.4,91.0 403.0,92.5 403.7,96.8 404.3,94.8 405.0,93.7 405.6,95.4 406.3,92.9 406.9,94.3 407.6,90.2 408.2,93.3 408.9,93.7 409.5,96.2 410.2,96.8 410.8,93.9 411.5,98.0 412.1,93.6 412.8,89.9 413.4,89.8 414.1,97.6 414.7,95.1 415.4,93.4 416.0,93.0 416.7,92.9 417.3,97.6 418.0,95.7 418.6,98.7 419.3,94.4 419.9,90.2 420.6,96.1 421.2,94.4 421.9,94.8 422.5,98.2 423.2,95.2 423.8,97.4 424.5,95.1 425.1,93.6 425.8,95.9" fill="none" stroke="#000" stroke-width="1.0" stroke-linejoin="round"/>
<polyline points="456.0,101.6 456.6,98.9 457.3,101.8 457.9,101.7 458.6,100.3 459.2,103.1 459.9,102.1 460.5,102.4 461.2,101.2 461.8,102.1 462.5,101.3 463.1,102.7 463.8,102.3 464.4,100.3 465.1,101.3 465.7,101.6 466.4,82.3 467.0,69.4 467.7,61.2 468.3,57.9 469.0,55.0 469.6,53.1 470.3,50.9 470.9,54.4 471.6,52.8 472.2,47.5 472.9,51.1 473.5,49.3 474.2,56.2 474.8,51.0 475.5,50.5 476.1,51.8 476.8,51.2 477.4,52.0 478.1,56.2 478.7,53.2 479.4,54.6 480.0,54.8 480.7,49.8 481.3,56.4 482.0,54.5 482.6,54.3 483.3,49.7 483.9,53.7 484.6,52.8 485.2,50.9 485.9,58.1 486.5,53.8 487.2,51.0 487.8,52.2 488.5,54.5 489.1,55.2 489.8,53.9 490.4,55.6 491.1,55.6 491.7,48.1 492.4,49.1 493.0,48.5 493.7,51.7 494.3,55.7 495.0,53.3 495.6,48.3 496.3,50.4 496.9,53.8 497.6,50.0 498.2,50.8 498.9,51.3 499.5,46.3 500.2,52.8 500.8,52.5 501.5,52.5 502.1,48.2 502.8,48.2 503.4,49.1 504.1,51.5 504.7,51.3 505.4,52.0 506.0,56.6 506.7,55.0 507.3,49.1 508.0,49.3 508.6,55.4 509.3,51.0 509.9,55.2 510.6,55.7 511.2,49.7 511.9,49.8 512.5,50.6 513.2,47.9 513.8,47.4 514.5,49.5 515.1,52.8 515.8,49.6 516.4,49.7 517.1,48.7 517.7,47.0 518.4,53.5 519.0,44.1 519.7,48.0 520.3,51.4 521.0,46.9 521.6,52.2 522.3,54.0 522.9,48.5 523.6,50.3 524.2,47.5 524.9,51.5 525.5,50.9 526.2,51.5 526.8,54.5 527.5,52.6 528.1,54.6 528.8,52.1 529.4,47.1 530.1,50.7 530.7,51.2 531.4,46.7 532.0,53.5 532.7,51.0 533.3,50.9 534.0,47.7 534.6,50.1 535.3,50.9 535.9,51.5 536.6,52.2 537.2,47.8 537.9,56.6 538.5,50.9 539.2,47.9 539.8,51.6 540.5,53.4 541.1,57.3 541.8,54.6 542.4,57.5 543.1,56.0 543.7,64.5 544.4,61.8 545.0,64.6 545.7,57.7 546.3,61.3 547.0,58.2 547.6,62.5 548.3,62.9 548.9,57.0 549.6,57.9 550.2,58.3 550.9,58.0 551.5,60.4 552.2,60.2 552.8,59.6 553.5,64.4 554.1,66.0 554.8,61.4 555.4,63.5 556.1,65.6 556.7,65.3 557.4,64.8 558.0,69.3 558.7,70.2 559.3,69.8 560.0,68.3 560.6,74.5 561.3,74.1 561.9,68.3 562.6,69.1 563.2,72.5 563.9,68.0 564.5,70.9 565.2,70.3 565.8,68.5 566.5,69.4 567.1,66.4 567.8,68.6 568.4,66.6 569.1,78.3 569.7,77.8 570.4,76.6 571.0,74.4 571.7,76.4 572.3,77.6 573.0,77.1 573.6,76.4 574.3,71.8 574.9,74.9 575.6,72.6 576.2,70.6 576.9,71.3 577.5,76.2 578.2,77.9 578.8,72.5 579.5,80.7 580.1,80.6 580.8,75.3 581.4,74.8 582.1,76.4 582.7,79.3 583.4,75.7 584.0,73.8 584.7,77.1 585.3,71.6 586.0,77.7 586.6,81.2 587.3,79.5 587.9,80.6 588.6,80.2 589.2,80.8 589.9,79.0 590.5,76.4 591.2,78.0 591.8,79.2 592.5,83.4 593.1,84.7 593.8,81.1 594.4,77.4 595.1,77.4 595.7,79.7 596.4,84.2 597.0,81.7 597.7,80.1 598.3,78.7 599.0,83.1 599.6,82.0 600.3,81.0 600.9,82.0 601.6,86.0 602.2,82.1 602.9,86.7 603.5,85.8 604.2,82.6 604.8,84.3 605.5,81.6 606.1,79.5 606.8,80.8 607.4,79.8 608.1,83.5 608.7,82.9 609.4,84.5 610.0,84.2 610.7,74.3 611.3,82.1 612.0,78.0 612.6,82.6 613.3,80.8 613.9,83.8 614.6,86.8 615.2,79.2 615.9,83.5 616.5,82.9 617.2,78.6 617.8,85.1 618.5,84.1 619.1,82.3 619.8,83.0 620.4,93.1 621.1,83.7 621.7,78.7 622.4,81.0 623.0,83.0 623.7,83.4 624.3,84.0 625.0,81.9 625.6,85.9 626.3,83.2 626.9,80.6 627.6,82.1 628.2,84.0 628.9,87.7 629.5,86.9 630.2,84.6 630.8,85.4 631.5,86.8 632.1,91.3 632.8,84.7 633.4,87.1 634.1,87.6 634.7,83.4 635.4,86.1 636.0,86.3 636.7,84.9 637.3,87.9 638.0,89.7 638.6,89.7 639.3,86.1 639.9,87.6 640.6,92.7 641.2,84.1 641.9,87.0 642.5,89.2 643.2,87.5 643.8,88.6 644.5,87.6 645.1,89.3 645.8,90.7" fill="none" stroke="#000" stroke-width="1.0" stroke-linejoin="round"/>
<polyline points="456.0,102.8 456.6,101.7 457.3,101.5 457.9,101.5 458.6,101.0 459.2,102.7 459.9,99.2 460.5,104.6 461.2,99.4 461.8,102.1 462.5,99.9 463.1,96.2 463.8,99.1 464.4,101.8 465.1,97.6 465.7,98.6 466.4,92.2 467.0,77.2 467.7,60.9 468.3,56.4 469.0,57.9 469.6,52.9 470.3,53.9 470.9,53.5 471.6,54.8 472.2,46.6 472.9,46.6 473.5,50.1 474.2,56.1 474.8,53.1 475.5,49.2 476.1,54.7 476.8,55.7 477.4,53.1 478.1,52.8 478.7,55.1 479.4,57.1 480.0,54.6 480.7,55.1 481.3,53.5 482.0,52.2 482.6,51.0 483.3,53.8 483.9,52.7 484.6,53.0 485.2,56.1 485.9,55.4 486.5,55.4 487.2,49.6 487.8,54.2 488.5,51.6 489.1,50.6 489.8,51.1 490.4,56.6 491.1,55.7 491.7,51.2 492.4,49.9 493.0,52.7 493.7,52.5 494.3,57.1 495.0,49.1 495.6,47.5 496.3,51.8 496.9,53.1 497.6,53.7 498.2,55.9 498.9,58.9 499.5,52.6 500.2,50.8 500.8,48.1 501.5,53.3 502.1,55.3 502.8,52.9 503.4,56.1 504.1,53.9 504.7,57.2 505.4,53.9 506.0,49.8 506.7,50.2 507.3,47.8 508.0,47.6 508.6,53.2 509.3,55.9 509.9,58.4 510.6,53.2 511.2,51.7 511.9,49.9 512.5,55.1 513.2,53.8 513.8,51.4 514.5,54.5 515.1,53.7 515.8,47.9 516.4,54.0 517.1,53.0 517.7,51.3 518.4,51.8 519.0,57.7 519.7,57.9 520.3,57.6 521.0,49.7 521.6,50.5 522.3,54.2 522.9,49.1 523.6,49.3 524.2,47.8 524.9,57.1 525.5,56.0 526.2,54.0 526.8,52.9 527.5,51.0 528.1,51.2 528.8,53.5 529.4,50.9 530.1,55.1 530.7,50.9 531.4,50.0 532.0,55.3 532.7,52.3 533.3,53.4 534.0,50.3 534.6,45.9 535.3,52.3 535.9,51.1 536.6,56.7 537.2,50.8 537.9,50.3 538.5,56.7 539.2,58.2 539.8,57.4 540.5,54.9 541.1,59.9 541.8,54.9 542.4,57.2 543.1,57.3 543.7,59.2 544.4,62.7 545.0,59.9 545.7,63.1 546.3,63.5 547.0,57.6 547.6,58.9 548.3,61.6 548.9,62.0 549.6,64.1 550.2,59.5 550.9,66.5 551.5,67.5 552.2,65.0 552.8,62.2 553.5,65.8 554.1,65.5 554.8,68.5 555.4,67.7 556.1,69.7 556.7,67.8 557.4,71.6 558.0,62.7 558.7,65.8 559.3,70.0 560.0,66.1 560.6,71.3 561.3,67.4 561.9,70.3 562.6,68.5 563.2,69.9 563.9,72.0 564.5,71.6 565.2,71.9 565.8,78.3 566.5,73.3 567.1,70.8 567.8,75.9 568.4,76.6 569.1,78.2 569.7,79.2 570.4,72.8 571.0,77.7 571.7,78.4 572.3,75.6 573.0,75.1 573.6,67.3 574.3,73.9 574.9,80.2 575.6,71.9 576.2,74.6 576.9,77.6 577.5,79.2 578.2,81.3 578.8,73.2 579.5,77.5 580.1,79.8 580.8,74.7 581.4,78.3 582.1,84.1 582.7,83.1 583.4,79.9 584.0,72.0 584.7,78.1 585.3,80.3 586.0,78.8 586.6,80.5 587.3,88.3 587.9,80.2 588.6,77.6 589.2,80.7 589.9,79.7 590.5,79.8 591.2,80.9 591.8,83.3 592.5,81.8 593.1,78.1 593.8,80.9 594.4,82.8 595.1,81.1 595.7,85.3 596.4,84.3 597.0,79.9 597.7,83.6 598.3,88.6 599.0,87.6 599.6,83.5 600.3,85.2 600.9,81.0 601.6,79.2 602.2,84.4 602.9,84.5 603.5,85.1 604.2,83.9 604.8,84.5 605.5,82.8 606.1,85.5 606.8,86.6 607.4,84.7 608.1,86.0 608.7,79.7 609.4,82.3 610.0,89.0 610.7,90.2 611.3,86.2 612.0,84.4 612.6,81.7 613.3,86.1 613.9,87.1 614.6,81.8 615.2,86.7 615.9,87.3 616.5,86.7 617.2,83.0 617.8,86.5 618.5,82.6 619.1,89.7 619.8,86.6 620.4,83.5 621.1,90.0 621.7,89.8 622.4,85.8 623.0,92.0 623.7,84.7 624.3,87.6 625.0,89.4 625.6,81.4 626.3,88.9 626.9,87.2 627.6,86.6 628.2,84.3 628.9,87.4 629.5,84.0 630.2,84.2 630.8,85.4 631.5,84.5 632.1,91.0 632.8,84.2 633.4,85.0 634.1,86.6 634.7,88.0 635.4,90.3 636.0,90.3 636.7,87.3 637.3,86.9 638.0,88.3 638.6,90.7 639.3,90.2 639.9,86.4 640.6,83.2 641.2,93.9 641.9,91.8 642.5,89.6 643.2,89.4 643.8,86.9 644.5,85.6 645.1,87.3 645.8,88.0" fill="none" stroke="#000" stroke-width="1.0" stroke-linejoin="round"/>
<polyline points="456.0,102.0 456.6,102.3 457.3,103.2 457.9,103.4 458.6,101.0 459.2,100.8 459.9,104.3 460.5,104.1 461.2,103.9 461.8,101.8 462.5,102.4 463.1,101.3 463.8,102.2 464.4,107.5 465.1,101.8 465.7,100.3 466.4,87.2 467.0,74.6 467.7,67.1 468.3,58.7 469.0,54.1 469.6,57.6 470.3,53.0 470.9,56.8 471.6,57.1 472.2,59.7 472.9,60.9 473.5,57.2 474.2,54.1 474.8,52.2 475.5,53.3 476.1,54.9 476.8,50.2 477.4,55.2 478.1,55.9 478.7,57.2 479.4,55.0 480.0,55.5 480.7,53.5 481.3,53.5 482.0,50.7 482.6,55.8 483.3,59.7 483.9,56.6 484.6,56.2 485.2,53.4 485.9,58.7 486.5,54.1 487.2,57.3 487.8,55.6 488.5,53.2 489.1,57.8 489.8,55.8 490.4,55.9 491.1,56.5 491.7,55.2 492.4,54.4 493.0,56.2 493.7,54.3 494.3,55.0 495.0,52.9 495.6,50.7 496.3,52.7 496.9,53.6 497.6,55.4 498.2,57.7 498.9,51.0 499.5,54.1 500.2,48.8 500.8,51.3 501.5,52.5 502.1,48.2 502.8,49.3 503.4,54.7 504.1,55.1 504.7,54.3 505.4,53.4 506.0,60.3 506.7,54.8 507.3,53.0 508.0,59.2 508.6,56.8 509.3,54.4 509.9,57.8 510.6,55.7 511.2,56.5 511.9,55.2 512.5,52.3 513.2,56.9 513.8,55.0 514.5,51.7 515.1,52.5 515.8,56.7 516.4,53.9 517.1,54.8 517.7,56.3 518.4,54.5 519.0,50.7 519.7,56.0 520.3,57.4 521.0,57.6 521.6,59.1 522.3,56.2 522.9,57.1 523.6,58.7 524.2,54.7 524.9,59.4 525.5,59.8 526.2,57.6 526.8,59.7 527.5,56.8 528.1,52.5 528.8,57.0 529.4,55.6 530.1,55.4 530.7,55.1 531.4,58.0 532.0,55.8 532.7,52.6 533.3,55.4 534.0,55.9 534.6,52.2 535.3,52.5 535.9,54.8 536.6,55.0 537.2,58.2 537.9,61.0 538.5,63.8 539.2,62.6 539.8,62.4 540.5,63.2 541.1,63.6 541.8,59.9 542.4,62.4 543.1,62.1 543.7,61.0 544.4,60.4 545.0,60.6 545.7,61.3 546.3,59.7 547.0,64.3 547.6,63.8 548.3,64.4 548.9,65.6 549.6,66.6 550.2,63.7 550.9,64.4 551.5,60.7 552.2,59.0 552.8,61.1 553.5,69.6 554.1,62.9 554.8,68.6 555.4,71.7 556.1,67.8 556.7,73.1 557.4,74.4 558.0,72.8 558.7,76.1 559.3,71.7 560.0,68.2 560.6,71.1 561.3,68.9 561.9,66.5 562.6,67.8 563.2,76.7 563.9,70.7 564.5,71.2 565.2,70.2 565.8,72.2 566.5,71.7 567.1,71.0 567.8,69.0 568.4,68.7 569.1,71.0 569.7,74.8 570.4,79.8 571.0,78.1 571.7,79.6 572.3,76.3 573.0,74.1 573.6,71.3 574.3,73.9 574.9,69.4 575.6,74.5 576.2,80.0 576.9,77.6 577.5,79.0 578.2,75.1 578.8,72.5 579.5,74.7 580.1,76.0 580.8,80.7 581.4,82.6 582.1,75.9 582.7,76.2 583.4,77.0 584.0,76.4 584.7,74.6 585.3,78.1 586.0,79.4 586.6,79.2 587.3,75.5 587.9,77.5 588.6,74.5 589.2,80.6 589.9,76.7 590.5,78.1 591.2,78.0 591.8,77.6 592.5,76.1 593.1,75.4 593.8,84.1 594.4,81.5 595.1,81.8 595.7,86.1 596.4,81.1 597.0,82.1 597.7,81.4 598.3,84.2 599.0,82.9 599.6,82.1 600.3,80.8 600.9,82.4 601.6,84.0 602.2,76.4 602.9,80.5 603.5,80.5 604.2,80.3 604.8,76.9 605.5,83.1 606.1,80.1 606.8,81.3 607.4,80.4 608.1,77.7 608.7,80.2 609.4,77.3 610.0,79.6 610.7,81.7 611.3,82.9 612.0,83.2 612.6,83.5 613.3,89.0 613.9,84.8 614.6,80.1 615.2,81.2 615.9,81.5 616.5,82.7 617.2,81.8 617.8,81.9 618.5,88.0 619.1,84.5 619.8,83.1 620.4,83.2 621.1,84.0 621.7,88.0 622.4,86.4 623.0,86.5 623.7,76.6 624.3,84.7 625.0,88.2 625.6,90.3 626.3,84.9 626.9,80.4 627.6,85.6 628.2,82.9 628.9,79.8 629.5,83.1 630.2,88.1 630.8,88.9 631.5,87.2 632.1,83.5 632.8,91.3 633.4,83.1 634.1,84.3 634.7,82.0 635.4,88.7 636.0,87.5 636.7,88.2 637.3,86.2 638.0,85.6 638.6,85.6 639.3,81.2 639.9,88.2 640.6,88.6 641.2,85.2 641.9,86.0 642.5,87.4 643.2,90.5 643.8,87.8 644.5,86.3 645.1,84.4 645.8,82.1" fill="none" stroke="#000" stroke-width="1.0" stroke-linejoin="round"/>
<polyline points="456.0,101.3 456.6,100.0 457.3,101.8 457.9,101.5 458.6,102.5 459.2,102.3 459.9,99.7 460.5,101.5 461.2,100.4 461.8,102.5 462.5,102.9 463.1,101.5 463.8,104.5 464.4,101.3 465.1,101.1 465.7,101.1 466.4,89.5 467.0,86.0 467.7,78.0 468.3,70.4 469.0,64.4 469.6,65.7 470.3,66.9 470.9,60.0 471.6,57.6 472.2,60.2 472.9,54.2 473.5,51.9 474.2,56.4 474.8,56.2 475.5,57.1 476.1,56.6 476.8,58.8 477.4,57.3 478.1,56.0 478.7,56.6 479.4,59.9 480.0,61.1 480.7,61.0 481.3,58.9 482.0,48.2 482.6,53.6 483.3,56.5 483.9,57.6 484.6,53.6 485.2,61.2 485.9,58.8 486.5,56.0 487.2,57.7 487.8,56.4 488.5,55.5 489.1,58.6 489.8,55.9 490.4,53.1 491.1,55.1 491.7,56.5 492.4,54.8 493.0,60.3 493.7,55.4 494.3,62.3 495.0,60.2 495.6,55.0 496.3,57.8 496.9,60.7 497.6,56.8 498.2,53.9 498.9,57.9 499.5,62.4 500.2,53.9 500.8,58.3 501.5,57.4 502.1,56.7 502.8,55.9 503.4,56.5 504.1,60.2 504.7,58.8 505.4,55.0 506.0,60.7 506.7,54.2 507.3,58.6 508.0,58.2 508.6,60.6 509.3,58.8 509.9,60.1 510.6,57.6 511.2,59.8 511.9,59.0 512.5,62.9 513.2,56.1 513.8,60.2 514.5,58.7 515.1,57.3 515.8,55.4 516.4,57.4 517.1,52.3 517.7,52.6 518.4,57.7 519.0,53.1 519.7,60.2 520.3,56.5 521.0,57.3 521.6,57.1 522.3,57.8 522.9,55.9 523.6,55.4 524.2,56.5 524.9,59.9 525.5,60.6 526.2,60.7 526.8,57.9 527.5,55.5 528.1,51.9 528.8,58.0 529.4,58.9 530.1,55.9 530.7,59.0 531.4,60.4 532.0,57.5 532.7,59.5 533.3,57.0 534.0,51.3 534.6,54.2 535.3,55.1 535.9,59.5 536.6,56.6 537.2,57.6 537.9,57.1 538.5,60.1 539.2,61.5 539.8,64.5 540.5,64.6 541.1,63.2 541.8,63.6 542.4,63.7 543.1,64.6 543.7,67.7 544.4,58.0 545.0,63.8 545.7,66.7 546.3,68.8 547.0,63.7 547.6,67.6 548.3,69.5 548.9,65.8 549.6,62.1 550.2,66.1 550.9,65.3 551.5,70.1 552.2,67.8 552.8,74.5 553.5,70.8 554.1,68.0 554.8,68.6 555.4,67.9 556.1,72.7 556.7,76.0 557.4,72.3 558.0,74.6 558.7,70.4 559.3,74.4 560.0,79.5 560.6,70.8 561.3,77.3 561.9,77.3 562.6,69.0 563.2,69.6 563.9,72.1 564.5,77.6 565.2,74.6 565.8,75.5 566.5,78.1 567.1,77.0 567.8,77.2 568.4,76.5 569.1,79.9 569.7,76.2 570.4,82.0 571.0,77.2 571.7,75.9 572.3,80.0 573.0,79.4 573.6,73.4 574.3,78.4 574.9,75.2 575.6,76.9 576.2,81.3 576.9,77.8 577.5,80.6 578.2,80.0 578.8,85.8 579.5,80.7 580.1,77.1 580.8,77.2 581.4,78.3 582.1,81.5 582.7,82.0 583.4,84.6 584.0,82.8 584.7,82.7 585.3,83.2 586.0,82.3 586.6,83.7 587.3,85.4 587.9,85.3 588.6,81.2 589.2,77.8 589.9,80.6 590.5,83.2 591.2,76.6 591.8,81.8 592.5,84.9 593.1,82.3 593.8,81.6 594.4,89.6 595.1,89.1 595.7,85.0 596.4,89.0 597.0,88.8 597.7,83.3 598.3,92.2 599.0,83.6 599.6,84.0 600.3,82.5 600.9,85.1 601.6,82.2 602.2,85.9 602.9,89.3 603.5,87.1 604.2,86.2 604.8,90.4 605.5,84.9 606.1,89.0 606.8,86.3 607.4,87.4 608.1,87.2 608.7,87.4 609.4,86.8 610.0,84.8 610.7,85.6 611.3,88.5 612.0,87.0 612.6,84.1 613.3,85.1 613.9,85.6 614.6,87.6 615.2,88.5 615.9,88.2 616.5,86.4 617.2,87.6 617.8,83.4 618.5,79.7 619.1,86.7 619.8,83.5 620.4,84.9 621.1,85.2 621.7,89.7 622.4,85.8 623.0,89.1 623.7,87.3 624.3,84.8 625.0,84.4 625.6,90.1 626.3,90.8 626.9,92.4 627.6,95.0 628.2,91.0 628.9,90.4 629.5,89.4 630.2,89.8 630.8,88.5 631.5,87.8 632.1,94.6 632.8,85.4 633.4,90.2 634.1,91.4 634.7,90.3 635.4,87.4 636.0,89.1 636.7,88.5 637.3,87.0 638.0,89.7 638.6,89.0 639.3,89.0 639.9,91.9 640.6,87.9 641.2,91.2 641.9,89.2 642.5,91.7 643.2,91.1 643.8,91.1 644.5,87.8 645.1,88.0 645.8,88.2" fill="none" stroke="#000" stroke-width="1.0" stroke-linejoin="round"/>
<polyline points="456.0,100.5 456.6,101.8 457.3,101.9 457.9,100.5 458.6,102.6 459.2,99.7 459.9,101.3 460.5,102.5 461.2,100.7 461.8,101.8 462.5,103.0 463.1,107.1 463.8,100.4 464.4,101.5 465.1,103.3 465.7,100.2 466.4,92.3 467.0,82.5 467.7,75.0 468.3,68.9 469.0,66.4 469.6,62.0 470.3,64.5 470.9,59.6 471.6,68.1 472.2,67.4 472.9,64.6 473.5,60.2 474.2,59.0 474.8,63.4 475.5,61.1 476.1,61.2 476.8,58.3 477.4,62.1 478.1,57.7 478.7,59.0 479.4,54.4 480.0,57.2 480.7,60.5 481.3,58.2 482.0,58.2 482.6,61.4 483.3,59.8 483.9,61.9 484.6,53.1 485.2,60.2 485.9,60.3 486.5,54.6 487.2,55.3 487.8,60.8 488.5,56.2 489.1,57.2 489.8,60.5 490.4,58.6 491.1,60.0 491.7,56.9 492.4,60.0 493.0,62.3 493.7,59.5 494.3,53.1 495.0,60.1 495.6,59.0 496.3,56.9 496.9,61.9 497.6,55.1 498.2,63.3 498.9,58.3 499.5,63.1 500.2,58.8 500.8,55.1 501.5,58.7 502.1,59.9 502.8,60.8 503.4,61.6 504.1,56.7 504.7,60.0 505.4,60.8 506.0,57.8 506.7,55.6 507.3,55.9 508.0,60.7 508.6,60.8 509.3,56.0 509.9,54.9 510.6,61.0 511.2,54.6 511.9,58.1 512.5,55.6 513.2,53.3 513.8,58.1 514.5,58.4 515.1,63.2 515.8,65.2 516.4,59.0 517.1,61.5 517.7,61.4 518.4,56.9 519.0,56.2 519.7,62.4 520.3,57.8 521.0,57.9 521.6,57.3 522.3,57.5 522.9,56.7 523.6,60.5 524.2,61.8 524.9,57.0 525.5,54.1 526.2,57.2 526.8,53.7 527.5,56.1 528.1,62.1 528.8,65.1 529.4,59.5 530.1,55.4 530.7,59.0 531.4,51.6 532.0,55.7 532.7,62.2 533.3,60.0 534.0,53.6 534.6,53.0 535.3,59.6 535.9,59.9 536.6,58.9 537.2,61.6 537.9,59.1 538.5,56.4 539.2,63.5 539.8,60.6 540.5,59.4 541.1,59.3 541.8,63.7 542.4,62.2 543.1,65.9 543.7,64.7 544.4,68.1 545.0,64.7 545.7,63.3 546.3,60.2 547.0,63.1 547.6,69.8 548.3,75.8 548.9,64.9 549.6,64.8 550.2,69.1 550.9,69.9 551.5,67.3 552.2,68.7 552.8,65.0 553.5,68.8 554.1,73.2 554.8,75.4 555.4,70.8 556.1,70.5 556.7,73.0 557.4,75.1 558.0,73.4 558.7,70.4 559.3,73.6 560.0,75.3 560.6,70.9 561.3,69.4 561.9,74.6 562.6,75.3 563.2,76.9 563.9,74.6 564.5,72.5 565.2,72.9 565.8,71.6 566.5,71.9 567.1,73.3 567.8,74.5 568.4,78.4 569.1,73.0 569.7,75.5 570.4,75.3 571.0,80.8 571.7,78.0 572.3,76.4 573.0,79.5 573.6,77.8 574.3,76.9 574.9,82.3 575.6,81.2 576.2,83.8 576.9,82.6 577.5,81.2 578.2,79.0 578.8,76.2 579.5,80.8 580.1,80.0 580.8,81.4 581.4,79.6 582.1,77.5 582.7,77.1 583.4,82.2 584.0,84.0 584.7,80.2 585.3,82.2 586.0,84.5 586.6,78.9 587.3,79.3 587.9,78.3 588.6,84.3 589.2,82.4 589.9,79.8 590.5,76.8 591.2,81.1 591.8,84.6 592.5,81.4 593.1,81.1 593.8,83.6 594.4,79.2 595.1,82.5 595.7,84.1 596.4,80.5 597.0,80.4 597.7,83.4 598.3,82.9 599.0,82.6 599.6,84.0 600.3,83.9 600.9,80.8 601.6,81.7 602.2,85.2 602.9,87.7 603.5,87.9 604.2,82.6 604.8,87.2 605.5,86.8 606.1,84.7 606.8,86.1 607.4,87.7 608.1,89.6 608.7,82.6 609.4,86.1 610.0,84.7 610.7,84.8 611.3,88.5 612.0,87.5 612.6,82.6 613.3,84.3 613.9,85.5 614.6,81.9 615.2,87.5 615.9,85.8 616.5,86.3 617.2,87.5 617.8,91.1 618.5,86.6 619.1,85.7 619.8,90.7 620.4,85.2 621.1,84.1 621.7,82.6 622.4,89.0 623.0,87.7 623.7,88.0 624.3,87.2 625.0,86.0 625.6,84.2 626.3,84.4 626.9,87.8 627.6,87.9 628.2,91.3 628.9,85.3 629.5,85.1 630.2,84.6 630.8,90.2 631.5,84.5 632.1,89.5 632.8,91.6 633.4,87.7 634.1,88.7 634.7,81.6 635.4,85.1 636.0,82.8 636.7,87.5 637.3,87.5 638.0,85.9 638.6,90.3 639.3,88.9 639.9,86.3 640.6,85.8 641.2,83.6 641.9,87.7 642.5,93.6 643.2,87.0 643.8,88.8 644.5,87.0 645.1,90.4 645.8,89.7" fill="none" stroke="#000" stroke-width="1.0" stroke-linejoin="round"/>
<polyline points="456.0,102.8 456.6,102.5 457.3,102.0 457.9,103.2 458.6,100.0 459.2,101.0 459.9,102.8 460.5,101.7 461.2,101.6 461.8,102.1 462.5,100.6 463.1,102.2 463.8,101.9 464.4,102.3 465.1,99.1 465.7,99.9 466.4,95.9 467.0,90.2 467.7,81.4 468.3,81.5 469.0,77.5 469.6,81.7 470.3,81.3 470.9,80.2 471.6,76.7 472.2,72.9 472.9,75.0 473.5,72.4 474.2,73.2 474.8,69.5 475.5,69.8 476.1,72.6 476.8,75.4 477.4,71.9 478.1,76.9 478.7,77.4 479.4,68.1 480.0,69.5 480.7,67.8 481.3,69.2 482.0,68.6 482.6,69.8 483.3,72.3 483.9,72.3 484.6,70.5 485.2,69.6 485.9,69.7 486.5,69.8 487.2,70.6 487.8,69.5 488.5,69.9 489.1,66.2 489.8,70.9 490.4,73.3 491.1,69.3 491.7,65.7 492.4,71.3 493.0,67.2 493.7,61.0 494.3,67.1 495.0,69.7 495.6,69.6 496.3,71.3 496.9,69.9 497.6,67.8 498.2,62.7 498.9,64.5 499.5,67.9 500.2,68.9 500.8,65.0 501.5,65.7 502.1,67.7 502.8,62.2 503.4,61.8 504.1,66.0 504.7,67.4 505.4,65.1 506.0,61.1 506.7,65.7 507.3,63.6 508.0,67.7 508.6,66.5 509.3,67.2 509.9,67.8 510.6,65.4 511.2,68.3 511.9,69.4 512.5,67.7 513.2,69.0 513.8,64.9 514.5,67.8 515.1,66.2 515.8,63.2 516.4,64.8 517.1,63.9 517.7,63.8 518.4,65.6 519.0,67.6 519.7,64.6 520.3,64.7 521.0,61.4 521.6,64.9 522.3,67.8 522.9,67.1 523.6,65.8 524.2,63.0 524.9,61.8 525.5,63.4 526.2,60.6 526.8,61.0 527.5,65.6 528.1,62.6 528.8,67.5 529.4,61.0 530.1,63.9 530.7,61.0 531.4,63.3 532.0,61.0 532.7,63.1 533.3,62.8 534.0,62.2 534.6,64.7 535.3,66.6 535.9,65.4 536.6,68.4 537.2,67.2 537.9,67.6 538.5,71.9 539.2,62.8 539.8,65.1 540.5,63.5 541.1,67.1 541.8,69.3 542.4,78.3 543.1,71.8 543.7,74.4 544.4,73.4 545.0,69.6 545.7,71.9 546.3,74.8 547.0,71.8 547.6,71.8 548.3,72.2 548.9,67.9 549.6,69.5 550.2,72.8 550.9,73.4 551.5,70.3 552.2,71.6 552.8,72.5 553.5,73.0 554.1,75.0 554.8,74.1 555.4,73.8 556.1,70.3 556.7,71.3 557.4,74.4 558.0,70.9 558.7,74.7 559.3,73.2 560.0,73.2 560.6,76.4 561.3,73.8 561.9,73.2 562.6,74.0 563.2,76.8 563.9,82.2 564.5,72.1 565.2,75.8 565.8,76.4 566.5,79.0 567.1,75.7 567.8,71.5 568.4,79.4 569.1,75.2 569.7,76.7 570.4,74.1 571.0,74.7 571.7,76.8 572.3,80.4 573.0,80.4 573.6,77.4 574.3,79.5 574.9,78.0 575.6,79.1 576.2,79.6 576.9,80.5 577.5,77.9 578.2,78.9 578.8,80.0 579.5,79.7 580.1,78.3 580.8,83.6 581.4,79.6 582.1,81.8 582.7,81.3 583.4,82.7 584.0,76.1 584.7,84.8 585.3,80.3 586.0,77.7 586.6,81.4 587.3,86.6 587.9,82.6 588.6,78.2 589.2,80.1 589.9,84.0 590.5,78.4 591.2,80.6 591.8,81.5 592.5,86.8 593.1,82.1 593.8,84.7 594.4,80.5 595.1,80.2 595.7,84.5 596.4,83.5 597.0,78.5 597.7,83.6 598.3,84.0 599.0,81.3 599.6,83.0 600.3,83.2 600.9,81.5 601.6,81.1 602.2,81.0 602.9,81.7 603.5,79.7 604.2,82.1 604.8,79.6 605.5,82.9 606.1,82.8 606.8,81.1 607.4,85.8 608.1,88.8 608.7,86.9 609.4,81.1 610.0,86.4 610.7,84.6 611.3,83.6 612.0,82.4 612.6,84.1 613.3,87.5 613.9,85.6 614.6,83.0 615.2,82.3 615.9,83.2 616.5,86.1 617.2,88.7 617.8,82.4 618.5,84.0 619.1,83.3 619.8,82.7 620.4,85.5 621.1,85.6 621.7,81.1 622.4,82.1 623.0,87.4 623.7,86.1 624.3,86.0 625.0,83.7 625.6,84.0 626.3,85.8 626.9,83.6 627.6,82.2 628.2,85.0 628.9,87.0 629.5,83.3 630.2,87.7 630.8,87.0 631.5,83.4 632.1,85.1 632.8,85.4 633.4,87.1 634.1,86.8 634.7,82.1 635.4,82.2 636.0,87.6 636.7,86.3 637.3,86.7 638.0,87.0 638.6,89.1 639.3,83.6 639.9,87.7 640.6,84.3 641.2,87.7 641.9,88.9 642.5,83.0 643.2,86.3 643.8,85.3 644.5,85.2 645.1,85.7 645.8,83.5" fill="none" stroke="#000" stroke-width="1.0" stroke-linejoin="round"/>
<polyline points="456.0,101.8 456.6,101.3 457.3,102.9 457.9,102.0 458.6,101.4 459.2,99.2 459.9,103.0 460.5,101.1 461.2,105.0 461.8,103.0 462.5,104.3 463.1,100.0 463.8,100.7 464.4,100.2 465.1,101.9 465.7,101.4 466.4,96.3 467.0,94.1 467.7,94.2 468.3,92.5 469.0,90.1 469.6,87.9 470.3,83.6 470.9,82.5 471.6,84.1 472.2,78.9 472.9,79.8 473.5,75.6 474.2,78.1 474.8,77.2 475.5,76.1 476.1,79.6 476.8,76.8 477.4,77.1 478.1,77.1 478.7,76.4 479.4,80.8 480.0,76.8 480.7,77.3 481.3,73.9 482.0,75.4 482.6,75.9 483.3,75.7 483.9,75.1 484.6,77.1 485.2,80.2 485.9,76.3 486.5,75.6 487.2,75.7 487.8,82.4 488.5,80.6 489.1,77.7 489.8,77.1 490.4,73.8 491.1,74.7 491.7,75.6 492.4,75.1 493.0,72.6 493.7,72.7 494.3,75.7 495.0,74.8 495.6,69.3 496.3,74.2 496.9,77.1 497.6,72.9 498.2,73.8 498.9,70.5 499.5,74.9 500.2,70.7 500.8,69.9 501.5,72.8 502.1,78.7 502.8,71.9 503.4,69.8 504.1,73.6 504.7,73.9 505.4,76.3 506.0,69.4 506.7,67.9 507.3,71.1 508.0,73.0 508.6,73.3 509.3,74.1 509.9,68.1 510.6,69.1 511.2,71.1 511.9,73.5 512.5,72.5 513.2,69.9 513.8,68.6 514.5,73.0 515.1,74.2 515.8,77.5 516.4,71.4 517.1,73.9 517.7,67.6 518.4,68.2 519.0,68.1 519.7,68.3 520.3,67.3 521.0,68.0 521.6,69.1 522.3,68.5 522.9,70.7 523.6,69.2 524.2,69.5 524.9,72.6 525.5,70.1 526.2,69.1 526.8,68.6 527.5,68.8 528.1,69.5 528.8,66.8 529.4,71.1 530.1,72.5 530.7,71.0 531.4,66.4 532.0,63.4 532.7,66.0 533.3,67.8 534.0,69.2 534.6,66.8 535.3,66.7 535.9,75.4 536.6,71.3 537.2,75.0 537.9,74.7 538.5,69.8 539.2,73.0 539.8,71.5 540.5,70.2 541.1,68.1 541.8,69.3 542.4,74.1 543.1,73.1 543.7,74.3 544.4,71.6 545.0,73.2 545.7,73.3 546.3,70.3 547.0,70.4 547.6,75.6 548.3,75.3 548.9,73.0 549.6,75.0 550.2,77.6 550.9,80.0 551.5,74.3 552.2,77.8 552.8,81.4 553.5,77.4 554.1,79.1 554.8,71.0 555.4,79.3 556.1,76.5 556.7,72.4 557.4,78.5 558.0,80.2 558.7,80.7 559.3,80.5 560.0,77.4 560.6,75.5 561.3,76.2 561.9,77.6 562.6,78.6 563.2,76.8 563.9,78.2 564.5,80.3 565.2,79.9 565.8,84.6 566.5,84.0 567.1,76.1 567.8,76.4 568.4,74.9 569.1,75.6 569.7,79.5 570.4,76.3 571.0,76.0 571.7,78.3 572.3,80.9 573.0,78.5 573.6,78.6 574.3,81.7 574.9,81.0 575.6,81.1 576.2,81.8 576.9,77.6 577.5,79.8 578.2,78.7 578.8,82.5 579.5,82.0 580.1,78.2 580.8,82.7 581.4,78.1 582.1,82.8 582.7,80.9 583.4,78.0 584.0,77.4 584.7,79.4 585.3,80.2 586.0,79.1 586.6,81.5 587.3,77.5 587.9,80.4 588.6,80.3 589.2,76.5 589.9,80.8 590.5,77.3 591.2,74.4 591.8,78.8 592.5,80.8 593.1,83.3 593.8,80.9 594.4,85.3 595.1,85.7 595.7,85.0 596.4,85.2 597.0,82.7 597.7,80.6 598.3,83.4 599.0,84.4 599.6,82.6 600.3,80.8 600.9,78.1 601.6,83.2 602.2,82.6 602.9,78.9 603.5,82.1 604.2,83.8 604.8,82.3 605.5,84.3 606.1,83.8 606.8,78.7 607.4,81.2 608.1,83.7 608.7,85.2 609.4,85.5 610.0,78.1 610.7,81.9 611.3,84.6 612.0,86.3 612.6,86.8 613.3,80.7 613.9,81.1 614.6,80.2 615.2,84.0 615.9,80.1 616.5,85.5 617.2,85.6 617.8,83.6 618.5,77.4 619.1,80.8 619.8,84.1 620.4,79.6 621.1,81.9 621.7,82.9 622.4,85.3 623.0,84.1 623.7,83.7 624.3,82.1 625.0,83.0 625.6,83.0 626.3,84.9 626.9,83.3 627.6,85.2 628.2,79.8 628.9,85.6 629.5,83.6 630.2,86.1 630.8,84.1 631.5,85.9 632.1,87.1 632.8,82.5 633.4,83.4 634.1,83.1 634.7,83.4 635.4,79.5 636.0,82.5 636.7,82.6 637.3,81.5 638.0,82.4 638.6,80.2 639.3,86.7 639.9,85.7 640.6,88.1 641.2,81.7 641.9,80.6 642.5,83.5 643.2,79.8 643.8,83.5 644.5,82.0 645.1,82.8 645.8,84.3" fill="none" stroke="#000" stroke-width="1.0" stroke-linejoin="round"/>
<polyline points="456.0,102.3 456.6,102.3 457.3,99.2 457.9,102.6 458.6,103.6 459.2,101.7 459.9,103.8 460.5,102.0 461.2,101.0 461.8,103.2 462.5,99.3 463.1,101.7 463.8,97.0 464.4,99.3 465.1,99.7 465.7,98.1 466.4,98.2 467.0,100.3 467.7,96.2 468.3,97.1 469.0,97.9 469.6,98.9 470.3,96.5 470.9,100.9 471.6,98.4 472.2,98.0 472.9,97.7 473.5,96.8 474.2,96.5 474.8,100.7 475.5,99.1 476.1,98.4 476.8,100.2 477.4,97.1 478.1,99.4 478.7,98.1 479.4,96.4 480.0,99.0 480.7,95.1 481.3,98.7 482.0,96.3 482.6,98.9 483.3,101.1 483.9,99.2 484.6,96.6 485.2,97.4 485.9,96.5 486.5,94.7 487.2,94.9 487.8,97.5 488.5,98.2 489.1,93.8 489.8,96.9 490.4,98.5 491.1,97.4 491.7,95.4 492.4,98.9 493.0,95.0 493.7,98.7 494.3,100.2 495.0,93.2 495.6,97.2 496.3,97.8 496.9,97.4 497.6,95.3 498.2,95.7 498.9,93.8 499.5,96.9 500.2,97.8 500.8,95.2 501.5,94.4 502.1,95.4 502.8,96.5 503.4,96.7 504.1,96.4 504.7,96.3 505.4,92.9 506.0,90.4 506.7,97.4 507.3,99.2 508.0,93.5 508.6,94.6 509.3,97.0 509.9,98.5 510.6,98.2 511.2,99.1 511.9,96.4 512.5,97.1 513.2,96.9 513.8,95.5 514.5,98.6 515.1,97.8 515.8,98.1 516.4,95.5 517.1,97.6 517.7,93.9 518.4,95.6 519.0,89.9 519.7,93.0 520.3,96.8 521.0,94.8 521.6,95.4 522.3,92.5 522.9,98.5 523.6,97.1 524.2,95.6 524.9,96.3 525.5,96.5 526.2,98.5 526.8,95.7 527.5,92.0 528.1,94.6 528.8,98.0 529.4,96.5 530.1,94.5 530.7,96.2 531.4,95.6 532.0,95.9 532.7,91.4 533.3,92.7 534.0,96.0 534.6,94.6 535.3,96.0 535.9,98.9 536.6,94.6 537.2,95.0 537.9,93.4 538.5,93.1 539.2,93.9 539.8,90.9 540.5,90.1 541.1,97.0 541.8,95.0 542.4,97.0 543.1,95.2 543.7,95.1 544.4,96.2 545.0,95.9 545.7,92.5 546.3,96.5 547.0,92.8 547.6,95.4 548.3,100.1 548.9,95.8 549.6,98.0 550.2,94.3 550.9,95.7 551.5,94.8 552.2,95.1 552.8,92.4 553.5,92.3 554.1,94.4 554.8,90.9 555.4,92.3 556.1,95.4 556.7,93.0 557.4,92.0 558.0,91.8 558.7,94.2 559.3,93.6 560.0,94.5 560.6,94.4 561.3,98.1 561.9,93.3 562.6,90.0 563.2,94.0 563.9,94.3 564.5,94.2 565.2,91.1 565.8,96.2 566.5,94.5 567.1,93.7 567.8,90.9 568.4,94.8 569.1,94.6 569.7,97.0 570.4,93.3 571.0,91.5 571.7,93.9 572.3,92.4 573.0,94.5 573.6,91.9 574.3,93.5 574.9,93.6 575.6,93.9 576.2,92.8 576.9,92.2 577.5,93.6 578.2,92.9 578.8,94.2 579.5,93.0 580.1,89.2 580.8,93.7 581.4,97.1 582.1,95.3 582.7,95.6 583.4,95.1 584.0,92.8 584.7,91.3 585.3,95.7 586.0,96.7 586.6,95.7 587.3,95.2 587.9,95.0 588.6,94.2 589.2,94.6 589.9,94.2 590.5,94.5 591.2,91.9 591.8,92.6 592.5,95.0 593.1,92.8 593.8,88.8 594.4,93.0 595.1,89.7 595.7,97.6 596.4,96.2 597.0,95.4 597.7,92.5 598.3,91.4 599.0,93.2 599.6,93.8 600.3,92.4 600.9,94.3 601.6,95.6 602.2,95.1 602.9,91.4 603.5,89.1 604.2,93.2 604.8,92.7 605.5,95.2 606.1,98.0 606.8,97.9 607.4,95.3 608.1,96.8 608.7,97.7 609.4,94.5 610.0,94.8 610.7,95.8 611.3,94.0 612.0,92.7 612.6,92.2 613.3,93.6 613.9,92.8 614.6,95.4 615.2,93.8 615.9,97.2 616.5,96.5 617.2,91.9 617.8,95.8 618.5,93.7 619.1,96.8 619.8,95.4 620.4,94.1 621.1,95.2 621.7,93.0 622.4,94.6 623.0,94.8 623.7,93.8 624.3,94.4 625.0,92.1 625.6,94.5 626.3,91.7 626.9,95.0 627.6,95.3 628.2,95.4 628.9,93.7 629.5,100.1 630.2,94.3 630.8,94.0 631.5,92.8 632.1,96.6 632.8,93.6 633.4,95.6 634.1,92.3 634.7,94.2 635.4,93.5 636.0,95.7 636.7,93.3 637.3,92.2 638.0,94.3 638.6,91.3 639.3,91.8 639.9,94.8 640.6,90.4 641.2,94.9 641.9,93.1 642.5,92.0 643.2,94.4 643.8,95.2 644.5,92.8 645.1,93.6 645.8,95.6" fill="none" stroke="#000" stroke-width="1.0" stroke-linejoin="round"/>
<line x1="464.3" y1="43.4" x2="464.3" y2="116.2" stroke="#000" stroke-width="2.2"/>
<line x1="535.7" y1="45.9" x2="535.7" y2="98.6" stroke="#000" stroke-width="2"/>
<line x1="239.2" y1="87.8" x2="239.2" y2="114.3" stroke="#000" stroke-width="2.8"/>
<line x1="17" y1="84" x2="17" y2="109" stroke="#000" stroke-width="2.2"/>
<line x1="287.8" y1="127.8" x2="361.4" y2="127.8" stroke="#000" stroke-width="0.9"/>
<line x1="287.8" y1="132.9142857142857" x2="361.4" y2="132.9142857142857" stroke="#000" stroke-width="0.9"/>
<line x1="287.8" y1="138.0285714285714" x2="361.4" y2="138.0285714285714" stroke="#000" stroke-width="0.9"/>
<line x1="287.8" y1="143.14285714285714" x2="361.4" y2="143.14285714285714" stroke="#000" stroke-width="0.9"/>
<line x1="287.8" y1="148.25714285714287" x2="361.4" y2="148.25714285714287" stroke="#000" stroke-width="0.9"/>
<line x1="287.8" y1="153.37142857142857" x2="361.4" y2="153.37142857142857" stroke="#000" stroke-width="0.9"/>
<line x1="287.8" y1="158.48571428571427" x2="361.4" y2="158.48571428571427" stroke="#000" stroke-width="0.9"/>
<line x1="283.8" y1="163.6" x2="451.5" y2="163.6" stroke="#000" stroke-width="0.9"/>
<line x1="287.8" y1="127.8" x2="287.8" y2="163.6" stroke="#000" stroke-width="0.9"/>
<line x1="361.4" y1="127.8" x2="361.4" y2="163.6" stroke="#000" stroke-width="0.9"/>
<text x="298" y="123.8" font-size="18" textLength="51.5" lengthAdjust="spacingAndGlyphs" fill="#000">40 mV</text>
<text x="378" y="159.6" font-size="18" textLength="57" lengthAdjust="spacingAndGlyphs" fill="#000">-40 mV</text>
<line x1="659.6" y1="87.4" x2="659.6" y2="112.5" stroke="#000" stroke-width="1.1"/>
<line x1="608.2" y1="112.5" x2="660.1" y2="112.5" stroke="#000" stroke-width="1.1"/>
<text x="666.8" y="88" font-size="17" textLength="24.5" lengthAdjust="spacingAndGlyphs" fill="#000">0.5</text>
<text x="666.8" y="110.8" font-size="17" textLength="49" lengthAdjust="spacingAndGlyphs" fill="#000">pA/pF</text>
<text x="623" y="132.7" font-size="17" textLength="21" lengthAdjust="spacingAndGlyphs" fill="#000">2 s</text>
<text x="0.5" y="206.8" font-size="41" fill="#000">B</text>
<line x1="111.6" y1="190" x2="111.6" y2="384.5" stroke="#4a4a4a" stroke-width="1.5"/>
<line x1="111" y1="384.5" x2="285.5" y2="384.5" stroke="#4a4a4a" stroke-width="1.5"/>
<line x1="107.3" y1="375.2" x2="111.6" y2="375.2" stroke="#555" stroke-width="1"/>
<line x1="108.6" y1="360.95" x2="111.6" y2="360.95" stroke="#555" stroke-width="1"/>
<line x1="108.6" y1="346.7" x2="111.6" y2="346.7" stroke="#555" stroke-width="1"/>
<line x1="108.6" y1="332.45" x2="111.6" y2="332.45" stroke="#555" stroke-width="1"/>
<line x1="107.3" y1="318.2" x2="111.6" y2="318.2" stroke="#555" stroke-width="1"/>
<line x1="108.6" y1="303.95" x2="111.6" y2="303.95" stroke="#555" stroke-width="1"/>
<line x1="108.6" y1="289.7" x2="111.6" y2="289.7" stroke="#555" stroke-width="1"/>
<line x1="108.6" y1="275.45" x2="111.6" y2="275.45" stroke="#555" stroke-width="1"/>
<line x1="107.3" y1="261.2" x2="111.6" y2="261.2" stroke="#555" stroke-width="1"/>
<line x1="108.6" y1="246.95" x2="111.6" y2="246.95" stroke="#555" stroke-width="1"/>
<line x1="108.6" y1="232.7" x2="111.6" y2="232.7" stroke="#555" stroke-width="1"/>
<line x1="108.6" y1="218.45" x2="111.6" y2="218.45" stroke="#555" stroke-width="1"/>
<line x1="107.3" y1="204.19999999999996" x2="111.6" y2="204.19999999999996" stroke="#555" stroke-width="1"/>
<line x1="108.6" y1="189.95" x2="111.6" y2="189.95" stroke="#555" stroke-width="1"/>
<line x1="121.75" y1="384.5" x2="121.75" y2="387.5" stroke="#555" stroke-width="1"/>
<line x1="143.4" y1="384.5" x2="143.4" y2="387.5" stroke="#555" stroke-width="1"/>
<line x1="165.05" y1="384.5" x2="165.05" y2="387.5" stroke="#555" stroke-width="1"/>
<line x1="186.7" y1="384.5" x2="186.7" y2="387.5" stroke="#555" stroke-width="1"/>
<line x1="208.35" y1="384.5" x2="208.35" y2="387.5" stroke="#555" stroke-width="1"/>
<line x1="230.0" y1="384.5" x2="230.0" y2="387.5" stroke="#555" stroke-width="1"/>
<line x1="251.65" y1="384.5" x2="251.65" y2="387.5" stroke="#555" stroke-width="1"/>
<line x1="273.3" y1="384.5" x2="273.3" y2="387.5" stroke="#555" stroke-width="1"/>
<text x="102.5" y="212.79999999999998" font-size="24.5" text-anchor="end" fill="#000">1.2</text>
<text x="102.5" y="269.8" font-size="24.5" text-anchor="end" fill="#000">0.8</text>
<text x="102.5" y="326.8" font-size="24.5" text-anchor="end" fill="#000">0.4</text>
<text x="102.5" y="383.8" font-size="24.5" text-anchor="end" fill="#000">0.0</text>
<text x="143.4" y="413" font-size="24.5" text-anchor="middle" fill="#000">-40</text>
<text x="186.7" y="413" font-size="24.5" text-anchor="middle" fill="#000">-20</text>
<text x="230.0" y="413" font-size="24.5" text-anchor="middle" fill="#000">0</text>
<text x="273.3" y="413" font-size="24.5" text-anchor="middle" fill="#000">20</text>
<text x="102" y="437" font-size="22.4" textLength="199" lengthAdjust="spacingAndGlyphs" fill="#000">Test Potential (mV)</text>
<text transform="translate(52 323) rotate(-90)" font-size="23.5">I<tspan font-size="15.5" dy="5.5">SS</tspan><tspan dy="-5.5">/I</tspan><tspan font-size="15.5" dy="5.5">TailMAX</tspan></text>
<line x1="121.75" y1="362.3" x2="121.75" y2="382" stroke="#555" stroke-width="1"/>
<line x1="118.25" y1="362.3" x2="125.25" y2="362.3" stroke="#555" stroke-width="1"/>
<line x1="118.25" y1="382" x2="125.25" y2="382" stroke="#555" stroke-width="1"/>
<line x1="143.4" y1="335.6" x2="143.4" y2="362.3" stroke="#555" stroke-width="1"/>
<line x1="139.9" y1="335.6" x2="146.9" y2="335.6" stroke="#555" stroke-width="1"/>
<line x1="139.9" y1="362.3" x2="146.9" y2="362.3" stroke="#555" stroke-width="1"/>
<line x1="165.05" y1="303" x2="165.05" y2="333.1" stroke="#555" stroke-width="1"/>
<line x1="161.55" y1="303" x2="168.55" y2="303" stroke="#555" stroke-width="1"/>
<line x1="161.55" y1="333.1" x2="168.55" y2="333.1" stroke="#555" stroke-width="1"/>
<line x1="186.7" y1="281.3" x2="186.7" y2="316.3" stroke="#555" stroke-width="1"/>
<line x1="183.2" y1="281.3" x2="190.2" y2="281.3" stroke="#555" stroke-width="1"/>
<line x1="183.2" y1="316.3" x2="190.2" y2="316.3" stroke="#555" stroke-width="1"/>
<line x1="208.35" y1="276.5" x2="208.35" y2="303.3" stroke="#555" stroke-width="1"/>
<line x1="204.85" y1="276.5" x2="211.85" y2="276.5" stroke="#555" stroke-width="1"/>
<line x1="204.85" y1="303.3" x2="211.85" y2="303.3" stroke="#555" stroke-width="1"/>
<line x1="230.0" y1="296.4" x2="230.0" y2="319.7" stroke="#555" stroke-width="1"/>
<line x1="226.5" y1="296.4" x2="233.5" y2="296.4" stroke="#555" stroke-width="1"/>
<line x1="226.5" y1="319.7" x2="233.5" y2="319.7" stroke="#555" stroke-width="1"/>
<line x1="251.65" y1="296" x2="251.65" y2="323" stroke="#555" stroke-width="1"/>
<line x1="248.15" y1="296" x2="255.15" y2="296" stroke="#555" stroke-width="1"/>
<line x1="248.15" y1="323" x2="255.15" y2="323" stroke="#555" stroke-width="1"/>
<line x1="273.3" y1="292.2" x2="273.3" y2="335" stroke="#555" stroke-width="1"/>
<line x1="269.8" y1="292.2" x2="276.8" y2="292.2" stroke="#555" stroke-width="1"/>
<line x1="269.8" y1="335" x2="276.8" y2="335" stroke="#555" stroke-width="1"/>
<line x1="121.75" y1="363.7" x2="121.75" y2="384" stroke="#555" stroke-width="1"/>
<line x1="118.25" y1="363.7" x2="125.25" y2="363.7" stroke="#555" stroke-width="1"/>
<line x1="118.25" y1="384" x2="125.25" y2="384" stroke="#555" stroke-width="1"/>
<line x1="143.4" y1="332.1" x2="143.4" y2="371" stroke="#555" stroke-width="1"/>
<line x1="139.9" y1="332.1" x2="146.9" y2="332.1" stroke="#555" stroke-width="1"/>
<line x1="139.9" y1="371" x2="146.9" y2="371" stroke="#555" stroke-width="1"/>
<line x1="165.05" y1="269.4" x2="165.05" y2="300.5" stroke="#555" stroke-width="1"/>
<line x1="161.55" y1="269.4" x2="168.55" y2="269.4" stroke="#555" stroke-width="1"/>
<line x1="161.55" y1="300.5" x2="168.55" y2="300.5" stroke="#555" stroke-width="1"/>
<line x1="186.7" y1="230.4" x2="186.7" y2="277.4" stroke="#555" stroke-width="1"/>
<line x1="183.2" y1="230.4" x2="190.2" y2="230.4" stroke="#555" stroke-width="1"/>
<line x1="183.2" y1="277.4" x2="190.2" y2="277.4" stroke="#555" stroke-width="1"/>
<line x1="208.35" y1="209.5" x2="208.35" y2="245" stroke="#555" stroke-width="1"/>
<line x1="204.85" y1="209.5" x2="211.85" y2="209.5" stroke="#555" stroke-width="1"/>
<line x1="204.85" y1="245" x2="211.85" y2="245" stroke="#555" stroke-width="1"/>
<line x1="230.0" y1="210.5" x2="230.0" y2="247" stroke="#555" stroke-width="1"/>
<line x1="226.5" y1="210.5" x2="233.5" y2="210.5" stroke="#555" stroke-width="1"/>
<line x1="226.5" y1="247" x2="233.5" y2="247" stroke="#555" stroke-width="1"/>
<line x1="251.65" y1="200.2" x2="251.65" y2="254" stroke="#555" stroke-width="1"/>
<line x1="248.15" y1="200.2" x2="255.15" y2="200.2" stroke="#555" stroke-width="1"/>
<line x1="248.15" y1="254" x2="255.15" y2="254" stroke="#555" stroke-width="1"/>
<line x1="273.3" y1="196.5" x2="273.3" y2="265" stroke="#555" stroke-width="1"/>
<line x1="269.8" y1="196.5" x2="276.8" y2="196.5" stroke="#555" stroke-width="1"/>
<line x1="269.8" y1="265" x2="276.8" y2="265" stroke="#555" stroke-width="1"/>
<line x1="121.75" y1="361" x2="121.75" y2="376" stroke="#555" stroke-width="1"/>
<line x1="118.25" y1="361" x2="125.25" y2="361" stroke="#555" stroke-width="1"/>
<line x1="118.25" y1="376" x2="125.25" y2="376" stroke="#555" stroke-width="1"/>
<line x1="143.4" y1="332" x2="143.4" y2="362" stroke="#555" stroke-width="1"/>
<line x1="139.9" y1="332" x2="146.9" y2="332" stroke="#555" stroke-width="1"/>
<line x1="139.9" y1="362" x2="146.9" y2="362" stroke="#555" stroke-width="1"/>
<line x1="165.05" y1="300.5" x2="165.05" y2="325.5" stroke="#555" stroke-width="1"/>
<line x1="161.55" y1="300.5" x2="168.55" y2="300.5" stroke="#555" stroke-width="1"/>
<line x1="161.55" y1="325.5" x2="168.55" y2="325.5" stroke="#555" stroke-width="1"/>
<line x1="186.7" y1="262.4" x2="186.7" y2="279.5" stroke="#555" stroke-width="1"/>
<line x1="183.2" y1="262.4" x2="190.2" y2="262.4" stroke="#555" stroke-width="1"/>
<line x1="183.2" y1="279.5" x2="190.2" y2="279.5" stroke="#555" stroke-width="1"/>
<line x1="208.35" y1="243" x2="208.35" y2="248.5" stroke="#555" stroke-width="1"/>
<line x1="204.85" y1="243" x2="211.85" y2="243" stroke="#555" stroke-width="1"/>
<line x1="204.85" y1="248.5" x2="211.85" y2="248.5" stroke="#555" stroke-width="1"/>
<line x1="230.0" y1="245" x2="230.0" y2="251" stroke="#555" stroke-width="1"/>
<line x1="226.5" y1="245" x2="233.5" y2="245" stroke="#555" stroke-width="1"/>
<line x1="226.5" y1="251" x2="233.5" y2="251" stroke="#555" stroke-width="1"/>
<line x1="251.65" y1="246" x2="251.65" y2="253" stroke="#555" stroke-width="1"/>
<line x1="248.15" y1="246" x2="255.15" y2="246" stroke="#555" stroke-width="1"/>
<line x1="248.15" y1="253" x2="255.15" y2="253" stroke="#555" stroke-width="1"/>
<line x1="273.3" y1="248" x2="273.3" y2="263" stroke="#555" stroke-width="1"/>
<line x1="269.8" y1="248" x2="276.8" y2="248" stroke="#555" stroke-width="1"/>
<line x1="269.8" y1="263" x2="276.8" y2="263" stroke="#555" stroke-width="1"/>
<rect x="117.65" y="365.40" width="8.2" height="8.2" fill="#000"/>
<rect x="139.30" y="339.90" width="8.2" height="8.2" fill="#000"/>
<rect x="160.95" y="313.60" width="8.2" height="8.2" fill="#000"/>
<rect x="182.60" y="295.00" width="8.2" height="8.2" fill="#000"/>
<rect x="204.25" y="285.40" width="8.2" height="8.2" fill="#000"/>
<rect x="225.90" y="303.90" width="8.2" height="8.2" fill="#000"/>
<rect x="247.55" y="305.90" width="8.2" height="8.2" fill="#000"/>
<rect x="269.20" y="309.50" width="8.2" height="8.2" fill="#000"/>
<circle cx="121.75" cy="376.00" r="4.6" fill="#497e1e"/>
<circle cx="143.40" cy="351.80" r="4.6" fill="#497e1e"/>
<circle cx="165.05" cy="290.70" r="4.6" fill="#497e1e"/>
<circle cx="186.70" cy="254.00" r="4.6" fill="#497e1e"/>
<circle cx="208.35" cy="228.00" r="4.6" fill="#497e1e"/>
<circle cx="230.00" cy="228.80" r="4.6" fill="#497e1e"/>
<circle cx="251.65" cy="227.20" r="4.6" fill="#497e1e"/>
<circle cx="273.30" cy="231.20" r="4.6" fill="#497e1e"/>
<polygon points="116.55,373.07 126.95,373.07 121.75,364.13" fill="#0000ff"/>
<polygon points="138.20,354.17 148.60,354.17 143.40,345.23" fill="#0000ff"/>
<polygon points="159.85,319.37 170.25,319.37 165.05,310.43" fill="#0000ff"/>
<polygon points="181.50,275.27 191.90,275.27 186.70,266.33" fill="#0000ff"/>
<polygon points="203.15,250.27 213.55,250.27 208.35,241.33" fill="#0000ff"/>
<polygon points="224.80,252.67 235.20,252.67 230.00,243.73" fill="#0000ff"/>
<polygon points="246.45,253.47 256.85,253.47 251.65,244.53" fill="#0000ff"/>
<polygon points="268.10,257.47 278.50,257.47 273.30,248.53" fill="#0000ff"/>
<path d="M209.70,179.80L209.70,188.40M205.98,181.95L213.42,186.25M213.42,181.95L205.98,186.25" stroke="#000" stroke-width="1.7" fill="none"/>
<path d="M209.89999999999998,190.6L209.89999999999998,201.9M206.29999999999998,194.4L213.49999999999997,194.4" stroke="#000" stroke-width="1.5" fill="none"/>
<path d="M229.10,175.00L229.10,183.60M225.38,177.15L232.82,181.45M232.82,177.15L225.38,181.45" stroke="#000" stroke-width="1.7" fill="none"/>
<path d="M229.29999999999998,185.6L229.29999999999998,196.6M225.7,189.3L232.89999999999998,189.3" stroke="#000" stroke-width="1.5" fill="none"/>
<path d="M249.00,171.00L249.00,179.60M245.28,173.15L252.72,177.45M252.72,173.15L245.28,177.45" stroke="#000" stroke-width="1.7" fill="none"/>
<path d="M249.2,182L249.2,192.5M245.6,185.6L252.79999999999998,185.6" stroke="#000" stroke-width="1.5" fill="none"/>
<path d="M268.80,171.00L268.80,179.60M265.08,173.15L272.52,177.45M272.52,173.15L265.08,177.45" stroke="#000" stroke-width="1.7" fill="none"/>
<path d="M269.0,182L269.0,192.5M265.4,185.6L272.6,185.6" stroke="#000" stroke-width="1.5" fill="none"/>
<rect x="186.15" y="333.65" width="8.7" height="8.7" fill="#000"/>
<circle cx="190.50" cy="355.00" r="4.9" fill="#497e1e"/>
<polygon points="184.90,375.62 196.10,375.62 190.50,365.98" fill="#0000ff"/>
<text x="209.5" y="342.3" font-size="14" textLength="42.5" lengthAdjust="spacingAndGlyphs" fill="#000">Control</text>
<text x="209.5" y="359.5" font-size="14" textLength="56" lengthAdjust="spacingAndGlyphs" fill="#000">scFv2.10</text>
<text x="209.5" y="376.7" font-size="14" textLength="56" lengthAdjust="spacingAndGlyphs" fill="#000">scFv2.12</text>
<text x="396" y="207.3" font-size="41" fill="#000">C</text>
<line x1="489.4" y1="189.6" x2="489.4" y2="383.9" stroke="#4a4a4a" stroke-width="1.5"/>
<line x1="488.6" y1="383.9" x2="656.5" y2="383.9" stroke="#4a4a4a" stroke-width="1.5"/>
<line x1="484.9" y1="376.8" x2="489.2" y2="376.8" stroke="#555" stroke-width="1"/>
<line x1="486.4" y1="358.75" x2="489.2" y2="358.75" stroke="#555" stroke-width="1"/>
<line x1="484.9" y1="340.7" x2="489.2" y2="340.7" stroke="#555" stroke-width="1"/>
<line x1="486.4" y1="322.65" x2="489.2" y2="322.65" stroke="#555" stroke-width="1"/>
<line x1="484.9" y1="304.6" x2="489.2" y2="304.6" stroke="#555" stroke-width="1"/>
<line x1="486.4" y1="286.55" x2="489.2" y2="286.55" stroke="#555" stroke-width="1"/>
<line x1="484.9" y1="268.5" x2="489.2" y2="268.5" stroke="#555" stroke-width="1"/>
<line x1="486.4" y1="250.45" x2="489.2" y2="250.45" stroke="#555" stroke-width="1"/>
<line x1="484.9" y1="232.4" x2="489.2" y2="232.4" stroke="#555" stroke-width="1"/>
<line x1="486.4" y1="214.35" x2="489.2" y2="214.35" stroke="#555" stroke-width="1"/>
<line x1="484.9" y1="196.3" x2="489.2" y2="196.3" stroke="#555" stroke-width="1"/>
<line x1="499.5" y1="383.9" x2="499.5" y2="386.8" stroke="#555" stroke-width="1"/>
<line x1="521.2" y1="383.9" x2="521.2" y2="386.8" stroke="#555" stroke-width="1"/>
<line x1="542.9" y1="383.9" x2="542.9" y2="386.8" stroke="#555" stroke-width="1"/>
<line x1="564.6" y1="383.9" x2="564.6" y2="386.8" stroke="#555" stroke-width="1"/>
<line x1="586.3" y1="383.9" x2="586.3" y2="386.8" stroke="#555" stroke-width="1"/>
<line x1="608.0" y1="383.9" x2="608.0" y2="386.8" stroke="#555" stroke-width="1"/>
<line x1="629.7" y1="383.9" x2="629.7" y2="386.8" stroke="#555" stroke-width="1"/>
<line x1="651.4" y1="383.9" x2="651.4" y2="386.8" stroke="#555" stroke-width="1"/>
<text x="479.8" y="385.40000000000003" font-size="24.5" text-anchor="end" textLength="30.5" lengthAdjust="spacingAndGlyphs" fill="#000">0.0</text>
<text x="479.8" y="349.3" font-size="24.5" text-anchor="end" textLength="30.5" lengthAdjust="spacingAndGlyphs" fill="#000">0.2</text>
<text x="479.8" y="313.20000000000005" font-size="24.5" text-anchor="end" textLength="30.5" lengthAdjust="spacingAndGlyphs" fill="#000">0.4</text>
<text x="479.8" y="277.1" font-size="24.5" text-anchor="end" textLength="30.5" lengthAdjust="spacingAndGlyphs" fill="#000">0.6</text>
<text x="479.8" y="241.0" font-size="24.5" text-anchor="end" textLength="30.5" lengthAdjust="spacingAndGlyphs" fill="#000">0.8</text>
<text x="479.8" y="204.9" font-size="24.5" text-anchor="end" textLength="30.5" lengthAdjust="spacingAndGlyphs" fill="#000">1.0</text>
<text x="521.2" y="410.6" font-size="24.2" text-anchor="middle" textLength="34" lengthAdjust="spacingAndGlyphs" fill="#000">-40</text>
<text x="564.6" y="410.6" font-size="24.2" text-anchor="middle" textLength="34" lengthAdjust="spacingAndGlyphs" fill="#000">-20</text>
<text x="608.0" y="410.6" font-size="24.2" text-anchor="middle" fill="#000">0</text>
<text x="651.4" y="410.6" font-size="24.2" text-anchor="middle" textLength="27" lengthAdjust="spacingAndGlyphs" fill="#000">20</text>
<text x="428.5" y="435.3" font-size="22.5" textLength="257" lengthAdjust="spacingAndGlyphs" fill="#000">Pre-Pulse Potential (mV)</text>
<text transform="translate(431.5 327.5) rotate(-90)" font-size="23.5">I<tspan font-size="16.5" dy="5.5">tail</tspan><tspan dy="-5.5">/I</tspan><tspan font-size="16.5" dy="5.5">TailMAX</tspan></text>
<polyline points="499.5,367.0 500.6,366.3 501.7,365.5 502.8,364.7 503.8,363.8 504.9,362.8 506.0,361.8 507.1,360.8 508.2,359.6 509.3,358.4 510.4,357.1 511.4,355.8 512.5,354.3 513.6,352.8 514.7,351.2 515.8,349.5 516.9,347.8 517.9,345.9 519.0,343.9 520.1,341.9 521.2,339.8 522.3,337.6 523.4,335.3 524.5,332.9 525.5,330.5 526.6,327.9 527.7,325.3 528.8,322.7 529.9,319.9 531.0,317.1 532.0,314.3 533.1,311.4 534.2,308.5 535.3,305.6 536.4,302.6 537.5,299.6 538.6,296.7 539.6,293.7 540.7,290.8 541.8,287.9 542.9,285.0 544.0,282.1 545.1,279.3 546.2,276.6 547.2,273.9 548.3,271.3 549.4,268.8 550.5,266.4 551.6,264.0 552.7,261.7 553.8,259.5 554.8,257.4 555.9,255.3 557.0,253.4 558.1,251.5 559.2,249.8 560.3,248.1 561.3,246.5 562.4,244.9 563.5,243.5 564.6,242.2 565.7,240.9 566.8,239.7 567.9,238.5 568.9,237.4 570.0,236.4 571.1,235.5 572.2,234.6 573.3,233.8 574.4,233.0 575.5,232.3 576.5,231.6 577.6,230.9 578.7,230.3 579.8,229.8 580.9,229.3 582.0,228.8 583.0,228.3 584.1,227.9 585.2,227.5 586.3,227.2 587.4,226.8 588.5,226.5 589.6,226.2 590.6,226.0 591.7,225.7 592.8,225.5 593.9,225.2 595.0,225.0 596.1,224.9 597.1,224.7 598.2,224.5 599.3,224.4 600.4,224.2 601.5,224.1 602.6,224.0 603.7,223.9 604.7,223.8 605.8,223.7 606.9,223.6 608.0,223.5 609.1,223.4 610.2,223.4 611.3,223.3 612.3,223.2 613.4,223.2 614.5,223.1 615.6,223.1 616.7,223.0 617.8,223.0 618.9,223.0 619.9,222.9 621.0,222.9 622.1,222.9 623.2,222.8 624.3,222.8 625.4,222.8 626.4,222.8 627.5,222.7 628.6,222.7 629.7,222.7 630.8,222.7 631.9,222.7 633.0,222.6 634.0,222.6 635.1,222.6 636.2,222.6 637.3,222.6 638.4,222.6 639.5,222.6 640.5,222.6 641.6,222.6 642.7,222.6 643.8,222.6 644.9,222.5 646.0,222.5 647.1,222.5 648.1,222.5 649.2,222.5 650.3,222.5 651.4,222.5" fill="none" stroke="#000" stroke-width="1.2" stroke-linejoin="round"/>
<polyline points="499.5,370.0 500.6,369.5 501.7,368.9 502.8,368.2 503.8,367.6 504.9,366.8 506.0,366.0 507.1,365.2 508.2,364.3 509.3,363.3 510.4,362.3 511.4,361.2 512.5,360.0 513.6,358.8 514.7,357.4 515.8,356.0 516.9,354.5 517.9,352.9 519.0,351.2 520.1,349.4 521.2,347.5 522.3,345.5 523.4,343.4 524.5,341.2 525.5,338.9 526.6,336.5 527.7,334.0 528.8,331.4 529.9,328.7 531.0,325.9 532.0,323.1 533.1,320.1 534.2,317.1 535.3,314.0 536.4,310.8 537.5,307.6 538.6,304.3 539.6,301.0 540.7,297.7 541.8,294.4 542.9,291.1 544.0,287.8 545.1,284.5 546.2,281.2 547.2,278.0 548.3,274.8 549.4,271.7 550.5,268.7 551.6,265.7 552.7,262.9 553.8,260.1 554.8,257.4 555.9,254.8 557.0,252.3 558.1,249.9 559.2,247.6 560.3,245.4 561.3,243.3 562.4,241.3 563.5,239.4 564.6,237.6 565.7,235.9 566.8,234.3 567.9,232.8 568.9,231.4 570.0,230.0 571.1,228.8 572.2,227.6 573.3,226.5 574.4,225.5 575.5,224.5 576.5,223.6 577.6,222.8 578.7,222.0 579.8,221.3 580.9,220.6 582.0,219.9 583.0,219.4 584.1,218.8 585.2,218.3 586.3,217.8 587.4,217.4 588.5,217.0 589.6,216.6 590.6,216.3 591.7,215.9 592.8,215.6 593.9,215.4 595.0,215.1 596.1,214.9 597.1,214.7 598.2,214.5 599.3,214.3 600.4,214.1 601.5,213.9 602.6,213.8 603.7,213.6 604.7,213.5 605.8,213.4 606.9,213.3 608.0,213.2 609.1,213.1 610.2,213.0 611.3,212.9 612.3,212.9 613.4,212.8 614.5,212.7 615.6,212.7 616.7,212.6 617.8,212.6 618.9,212.5 619.9,212.5 621.0,212.5 622.1,212.4 623.2,212.4 624.3,212.4 625.4,212.3 626.4,212.3 627.5,212.3 628.6,212.3 629.7,212.2 630.8,212.2 631.9,212.2 633.0,212.2 634.0,212.2 635.1,212.2 636.2,212.2 637.3,212.1 638.4,212.1 639.5,212.1 640.5,212.1 641.6,212.1 642.7,212.1 643.8,212.1 644.9,212.1 646.0,212.1 647.1,212.1 648.1,212.1 649.2,212.1 650.3,212.1 651.4,212.1" fill="none" stroke="#497e1e" stroke-width="1.2" stroke-linejoin="round"/>
<polyline points="499.5,368.1 500.6,367.5 501.7,366.9 502.8,366.2 503.8,365.5 504.9,364.8 506.0,364.0 507.1,363.2 508.2,362.3 509.3,361.4 510.4,360.4 511.4,359.4 512.5,358.3 513.6,357.2 514.7,356.0 515.8,354.7 516.9,353.3 517.9,351.9 519.0,350.5 520.1,348.9 521.2,347.3 522.3,345.7 523.4,343.9 524.5,342.1 525.5,340.2 526.6,338.3 527.7,336.2 528.8,334.1 529.9,332.0 531.0,329.8 532.0,327.5 533.1,325.1 534.2,322.7 535.3,320.3 536.4,317.8 537.5,315.2 538.6,312.6 539.6,310.0 540.7,307.4 541.8,304.7 542.9,302.0 544.0,299.4 545.1,296.7 546.2,294.0 547.2,291.3 548.3,288.7 549.4,286.0 550.5,283.4 551.6,280.8 552.7,278.3 553.8,275.8 554.8,273.4 555.9,271.0 557.0,268.6 558.1,266.4 559.2,264.1 560.3,262.0 561.3,259.9 562.4,257.9 563.5,256.0 564.6,254.1 565.7,252.3 566.8,250.6 567.9,248.9 568.9,247.3 570.0,245.8 571.1,244.3 572.2,242.9 573.3,241.6 574.4,240.4 575.5,239.2 576.5,238.0 577.6,237.0 578.7,235.9 579.8,235.0 580.9,234.1 582.0,233.2 583.0,232.4 584.1,231.6 585.2,230.9 586.3,230.2 587.4,229.5 588.5,228.9 589.6,228.4 590.6,227.8 591.7,227.3 592.8,226.8 593.9,226.4 595.0,226.0 596.1,225.6 597.1,225.2 598.2,224.8 599.3,224.5 600.4,224.2 601.5,223.9 602.6,223.7 603.7,223.4 604.7,223.2 605.8,223.0 606.9,222.7 608.0,222.6 609.1,222.4 610.2,222.2 611.3,222.0 612.3,221.9 613.4,221.8 614.5,221.6 615.6,221.5 616.7,221.4 617.8,221.3 618.9,221.2 619.9,221.1 621.0,221.0 622.1,220.9 623.2,220.8 624.3,220.8 625.4,220.7 626.4,220.6 627.5,220.6 628.6,220.5 629.7,220.5 630.8,220.4 631.9,220.4 633.0,220.3 634.0,220.3 635.1,220.3 636.2,220.2 637.3,220.2 638.4,220.2 639.5,220.2 640.5,220.1 641.6,220.1 642.7,220.1 643.8,220.1 644.9,220.0 646.0,220.0 647.1,220.0 648.1,220.0 649.2,220.0 650.3,220.0 651.4,219.9" fill="none" stroke="#0000ff" stroke-width="1.2" stroke-linejoin="round"/>
<line x1="521.2" y1="316.6" x2="521.2" y2="340" stroke="#555" stroke-width="1"/>
<line x1="518.2" y1="316.6" x2="524.2" y2="316.6" stroke="#555" stroke-width="1"/>
<line x1="518.2" y1="340" x2="524.2" y2="340" stroke="#555" stroke-width="1"/>
<line x1="542.9" y1="267.6" x2="542.9" y2="297.7" stroke="#555" stroke-width="1"/>
<line x1="539.9" y1="267.6" x2="545.9" y2="267.6" stroke="#555" stroke-width="1"/>
<line x1="539.9" y1="297.7" x2="545.9" y2="297.7" stroke="#555" stroke-width="1"/>
<line x1="564.6" y1="240.4" x2="564.6" y2="266" stroke="#555" stroke-width="1"/>
<line x1="561.6" y1="240.4" x2="567.6" y2="240.4" stroke="#555" stroke-width="1"/>
<line x1="561.6" y1="266" x2="567.6" y2="266" stroke="#555" stroke-width="1"/>
<line x1="586.3" y1="215" x2="586.3" y2="230" stroke="#555" stroke-width="1"/>
<line x1="583.3" y1="215" x2="589.3" y2="215" stroke="#555" stroke-width="1"/>
<line x1="583.3" y1="230" x2="589.3" y2="230" stroke="#555" stroke-width="1"/>
<line x1="608.0" y1="202.8" x2="608.0" y2="236.2" stroke="#555" stroke-width="1"/>
<line x1="605.0" y1="202.8" x2="611.0" y2="202.8" stroke="#555" stroke-width="1"/>
<line x1="605.0" y1="236.2" x2="611.0" y2="236.2" stroke="#555" stroke-width="1"/>
<line x1="629.7" y1="214" x2="629.7" y2="227" stroke="#555" stroke-width="1"/>
<line x1="626.7" y1="214" x2="632.7" y2="214" stroke="#555" stroke-width="1"/>
<line x1="626.7" y1="227" x2="632.7" y2="227" stroke="#555" stroke-width="1"/>
<line x1="651.4" y1="222" x2="651.4" y2="236" stroke="#555" stroke-width="1"/>
<line x1="648.4" y1="222" x2="654.4" y2="222" stroke="#555" stroke-width="1"/>
<line x1="648.4" y1="236" x2="654.4" y2="236" stroke="#555" stroke-width="1"/>
<line x1="499.5" y1="360" x2="499.5" y2="383" stroke="#555" stroke-width="1"/>
<line x1="496.5" y1="360" x2="502.5" y2="360" stroke="#555" stroke-width="1"/>
<line x1="496.5" y1="383" x2="502.5" y2="383" stroke="#555" stroke-width="1"/>
<line x1="521.2" y1="335" x2="521.2" y2="355.5" stroke="#555" stroke-width="1"/>
<line x1="518.2" y1="335" x2="524.2" y2="335" stroke="#555" stroke-width="1"/>
<line x1="518.2" y1="355.5" x2="524.2" y2="355.5" stroke="#555" stroke-width="1"/>
<line x1="542.9" y1="276" x2="542.9" y2="300" stroke="#555" stroke-width="1"/>
<line x1="539.9" y1="276" x2="545.9" y2="276" stroke="#555" stroke-width="1"/>
<line x1="539.9" y1="300" x2="545.9" y2="300" stroke="#555" stroke-width="1"/>
<line x1="564.6" y1="245" x2="564.6" y2="265" stroke="#555" stroke-width="1"/>
<line x1="561.6" y1="245" x2="567.6" y2="245" stroke="#555" stroke-width="1"/>
<line x1="561.6" y1="265" x2="567.6" y2="265" stroke="#555" stroke-width="1"/>
<line x1="586.3" y1="203" x2="586.3" y2="212" stroke="#555" stroke-width="1"/>
<line x1="583.3" y1="203" x2="589.3" y2="203" stroke="#555" stroke-width="1"/>
<line x1="583.3" y1="212" x2="589.3" y2="212" stroke="#555" stroke-width="1"/>
<line x1="608.0" y1="203" x2="608.0" y2="214" stroke="#555" stroke-width="1"/>
<line x1="605.0" y1="203" x2="611.0" y2="203" stroke="#555" stroke-width="1"/>
<line x1="605.0" y1="214" x2="611.0" y2="214" stroke="#555" stroke-width="1"/>
<line x1="629.7" y1="219" x2="629.7" y2="232" stroke="#555" stroke-width="1"/>
<line x1="626.7" y1="219" x2="632.7" y2="219" stroke="#555" stroke-width="1"/>
<line x1="626.7" y1="232" x2="632.7" y2="232" stroke="#555" stroke-width="1"/>
<line x1="651.4" y1="224" x2="651.4" y2="237" stroke="#555" stroke-width="1"/>
<line x1="648.4" y1="224" x2="654.4" y2="224" stroke="#555" stroke-width="1"/>
<line x1="648.4" y1="237" x2="654.4" y2="237" stroke="#555" stroke-width="1"/>
<line x1="499.5" y1="357.5" x2="499.5" y2="381" stroke="#555" stroke-width="1"/>
<line x1="496.5" y1="357.5" x2="502.5" y2="357.5" stroke="#555" stroke-width="1"/>
<line x1="496.5" y1="381" x2="502.5" y2="381" stroke="#555" stroke-width="1"/>
<line x1="521.2" y1="320" x2="521.2" y2="345" stroke="#555" stroke-width="1"/>
<line x1="518.2" y1="320" x2="524.2" y2="320" stroke="#555" stroke-width="1"/>
<line x1="518.2" y1="345" x2="524.2" y2="345" stroke="#555" stroke-width="1"/>
<line x1="542.9" y1="300" x2="542.9" y2="326" stroke="#555" stroke-width="1"/>
<line x1="539.9" y1="300" x2="545.9" y2="300" stroke="#555" stroke-width="1"/>
<line x1="539.9" y1="326" x2="545.9" y2="326" stroke="#555" stroke-width="1"/>
<line x1="564.6" y1="240.4" x2="564.6" y2="284" stroke="#555" stroke-width="1"/>
<line x1="561.6" y1="240.4" x2="567.6" y2="240.4" stroke="#555" stroke-width="1"/>
<line x1="561.6" y1="284" x2="567.6" y2="284" stroke="#555" stroke-width="1"/>
<line x1="586.3" y1="207" x2="586.3" y2="221" stroke="#555" stroke-width="1"/>
<line x1="583.3" y1="207" x2="589.3" y2="207" stroke="#555" stroke-width="1"/>
<line x1="583.3" y1="221" x2="589.3" y2="221" stroke="#555" stroke-width="1"/>
<line x1="608.0" y1="212" x2="608.0" y2="226" stroke="#555" stroke-width="1"/>
<line x1="605.0" y1="212" x2="611.0" y2="212" stroke="#555" stroke-width="1"/>
<line x1="605.0" y1="226" x2="611.0" y2="226" stroke="#555" stroke-width="1"/>
<line x1="629.7" y1="208" x2="629.7" y2="225" stroke="#555" stroke-width="1"/>
<line x1="626.7" y1="208" x2="632.7" y2="208" stroke="#555" stroke-width="1"/>
<line x1="626.7" y1="225" x2="632.7" y2="225" stroke="#555" stroke-width="1"/>
<line x1="651.4" y1="217.4" x2="651.4" y2="250" stroke="#555" stroke-width="1"/>
<line x1="648.4" y1="217.4" x2="654.4" y2="217.4" stroke="#555" stroke-width="1"/>
<line x1="648.4" y1="250" x2="654.4" y2="250" stroke="#555" stroke-width="1"/>
<rect x="517.20" y="324.40" width="8" height="8" fill="#000"/>
<rect x="538.90" y="282.00" width="8" height="8" fill="#000"/>
<rect x="560.60" y="249.50" width="8" height="8" fill="#000"/>
<rect x="582.30" y="218.60" width="8" height="8" fill="#000"/>
<rect x="604.00" y="214.60" width="8" height="8" fill="#000"/>
<rect x="625.70" y="216.60" width="8" height="8" fill="#000"/>
<rect x="647.40" y="225.30" width="8" height="8" fill="#000"/>
<circle cx="499.50" cy="373.60" r="4.8" fill="#497e1e"/>
<circle cx="521.20" cy="347.50" r="4.8" fill="#497e1e"/>
<circle cx="542.90" cy="288.20" r="4.8" fill="#497e1e"/>
<circle cx="564.60" cy="255.00" r="4.8" fill="#497e1e"/>
<circle cx="586.30" cy="207.00" r="4.8" fill="#497e1e"/>
<circle cx="608.00" cy="209.00" r="4.8" fill="#497e1e"/>
<circle cx="629.70" cy="225.60" r="4.8" fill="#497e1e"/>
<circle cx="651.40" cy="230.50" r="4.8" fill="#497e1e"/>
<polygon points="494.40,373.69 504.60,373.69 499.50,364.91" fill="#0000ff"/>
<polygon points="516.10,337.29 526.30,337.29 521.20,328.51" fill="#0000ff"/>
<polygon points="537.80,314.69 548.00,314.69 542.90,305.91" fill="#0000ff"/>
<polygon points="559.50,267.69 569.70,267.69 564.60,258.91" fill="#0000ff"/>
<polygon points="581.20,218.39 591.40,218.39 586.30,209.61" fill="#0000ff"/>
<polygon points="602.90,223.79 613.10,223.79 608.00,215.01" fill="#0000ff"/>
<polygon points="624.60,221.79 634.80,221.79 629.70,213.01" fill="#0000ff"/>
<polygon points="646.30,240.39 656.50,240.39 651.40,231.61" fill="#0000ff"/>
<rect x="577.45" y="311.15" width="8.3" height="8.3" fill="#000"/>
<circle cx="581.60" cy="332.40" r="5" fill="#497e1e"/>
<polygon points="576.20,353.34 587.00,353.34 581.60,344.06" fill="#0000ff"/>
<text x="600" y="320.3" font-size="12.5" textLength="44" lengthAdjust="spacingAndGlyphs" fill="#000">Control</text>
<text x="600" y="337.2" font-size="12.5" textLength="56" lengthAdjust="spacingAndGlyphs" fill="#000">scFv2.10</text>
<text x="600" y="354.2" font-size="12.5" textLength="56" lengthAdjust="spacingAndGlyphs" fill="#000">scFv2.12</text>
<text x="-0.2" y="477.7" font-size="41" fill="#000">D</text>
<polyline points="88.9,543.2 95.3,543.2 95.8,468.0 97.0,468.3" fill="none" stroke="#000" stroke-width="1.3" stroke-linejoin="round" stroke-linejoin="miter"/>
<polyline points="97.0,468.3 97.3,468.9 97.7,469.5 98.0,470.2 98.3,470.8 98.7,471.3 99.1,471.6 99.7,471.6 100.3,471.4 100.9,471.1 101.6,470.9 102.3,470.8 102.9,470.7 103.6,470.5 104.3,470.4 105.0,470.4 105.7,470.4 106.4,470.4 107.1,470.5 107.8,470.6 108.5,470.7 109.2,470.7 109.9,470.8 110.6,470.9 111.3,470.9 112.0,471.0" fill="none" stroke="#000" stroke-width="1.3" stroke-linejoin="round"/>
<polyline points="105.0,470.3 105.7,470.4 106.4,470.4 107.1,470.5 107.8,470.6 108.5,470.7 109.2,470.7 109.9,470.8 110.6,470.9 111.3,471.0 112.0,471.0 112.7,471.1 113.4,471.2 114.1,471.3 114.8,471.4 115.5,471.4 116.2,471.5 116.8,471.6 117.5,471.7 118.2,471.8 118.9,471.9 119.6,472.0 120.3,472.1 121.0,472.2 121.7,472.3 122.4,472.4 123.1,472.5 123.8,472.7 124.5,472.8 125.2,472.9 125.9,473.0 126.6,473.1 127.2,473.2 127.9,473.3 128.6,473.5 129.3,473.6 130.0,473.7 130.7,473.8 131.4,473.9 132.1,474.1 132.8,474.2 133.5,474.3 134.2,474.4 134.8,474.5 135.5,474.7 136.2,474.8 136.9,474.9 137.6,475.0 138.3,475.2 139.0,475.3 139.7,475.5 140.3,475.6 141.0,475.8 141.7,475.9 142.4,476.1 143.1,476.3 143.8,476.4 144.4,476.6 145.1,476.8 145.8,477.0 146.5,477.2 147.1,477.3 147.8,477.5 148.5,477.7 149.2,477.9 149.8,478.1 150.5,478.3 151.2,478.5 151.9,478.6 152.6,478.8 153.2,479.0 153.9,479.2 154.6,479.4 155.3,479.6 155.9,479.7 156.6,479.9 157.3,480.1 158.0,480.3 158.6,480.5 159.3,480.7 160.0,480.9 160.7,481.0 161.4,481.2 162.0,481.4 162.7,481.6 163.4,481.8 164.1,482.0 164.7,482.1 165.4,482.3 166.1,482.5 166.8,482.7 167.4,482.9 168.1,483.1 168.8,483.3 169.5,483.4 170.1,483.6 170.8,483.8 171.5,484.0 172.2,484.2 172.8,484.4 173.5,484.6 174.2,484.8 174.8,485.0 175.5,485.3 176.2,485.5 176.8,485.7 177.5,485.9 178.2,486.2 178.8,486.4 179.5,486.7 180.1,486.9 180.8,487.2 181.4,487.4 182.1,487.7 182.8,487.9 183.4,488.2 184.1,488.4 184.7,488.7 185.4,488.9 186.0,489.2 186.7,489.4 187.3,489.7 188.0,489.9 188.6,490.2 189.3,490.4 190.0,490.7 190.6,490.9 191.3,491.2 191.9,491.4 192.6,491.7 193.2,491.9 193.9,492.2 194.5,492.4 195.2,492.7 195.8,492.9 196.5,493.2 197.2,493.4 197.8,493.7 198.5,493.9 199.1,494.2 199.8,494.4 200.5,494.6 201.1,494.9 201.8,495.1 202.4,495.3 203.1,495.6 203.8,495.8 204.4,496.0 205.1,496.3 205.7,496.5 206.4,496.7 207.1,497.0 207.7,497.2 208.4,497.4 209.1,497.7 209.7,497.9 210.4,498.1 211.0,498.4 211.7,498.6 212.4,498.8 213.0,499.1 213.7,499.3 214.3,499.5 215.0,499.8 215.7,500.0 216.3,500.2 217.0,500.5 217.6,500.7 218.3,501.0 218.9,501.2 219.6,501.5 220.2,501.8 220.9,502.0 221.5,502.3 222.1,502.6 222.7,503.0 223.3,503.3 224.0,503.6 224.6,504.0 225.1,504.4 225.7,504.7 226.3,505.1 226.9,505.5 227.5,505.9 228.1,506.3 228.6,506.7 229.2,507.1 229.7,507.6 230.3,508.0 230.8,508.4 231.4,508.9 231.9,509.3 232.4,509.8 233.0,510.2 233.5,510.7 234.0,511.2 234.5,511.7 235.0,512.1 235.5,512.6 236.0,513.1 236.5,513.6 237.0,514.1 237.5,514.6 238.0,515.1 238.4,515.7 238.9,516.2 239.3,516.7 239.7,517.3 240.1,517.8 240.6,518.4 240.9,519.0 241.3,519.6 241.7,520.2 242.0,520.8 242.4,521.4 242.7,522.0 243.0,522.6 243.3,523.2 243.6,523.9 243.9,524.5 244.2,525.1 244.5,525.8 244.7,526.4 245.0,527.1 245.2,527.7 245.5,528.4 245.7,529.1 246.0,529.7 246.2,530.4 246.4,531.0 246.7,531.7 246.9,532.4 247.1,533.0 247.4,533.7 247.6,534.3 247.8,535.0 248.1,535.6 248.4,536.2 248.7,536.9 249.0,537.4 249.3,538.0 249.7,538.6 250.1,539.1 250.5,539.6 251.0,540.0 251.5,540.4 252.0,540.8 252.6,541.1 253.1,541.4 253.7,541.6 254.4,541.8 255.0,542.0 255.7,542.1 256.3,542.2 257.0,542.3 257.7,542.4 258.4,542.5 259.1,542.5 259.8,542.5 260.5,542.6 261.2,542.6 261.9,542.6 262.6,542.6 263.3,542.6 264.0,542.6 264.7,542.6 265.4,542.6 266.1,542.6 266.8,542.6 267.5,542.6 268.2,542.6 268.9,542.6" fill="none" stroke="#000" stroke-width="1.3" stroke-linejoin="round"/>
<polyline points="96.0,694.9 96.5,690.6 97.1,681.6 97.6,684.2 98.2,680.1 98.7,678.9 99.3,669.4 99.8,657.4 100.4,653.3 100.9,648.9 101.5,636.1 102.0,619.6 102.6,607.3 103.1,616.3 103.7,614.3 104.2,603.8 104.8,598.4 105.3,598.3 105.9,590.1 106.4,594.2 107.0,587.2 107.5,587.5 108.1,591.3 108.6,587.0 109.2,593.7 109.7,596.5 110.3,590.7 110.8,598.8 111.4,595.5 111.9,599.6 112.5,598.9 113.0,595.6 113.6,593.7 114.1,589.3 114.7,593.5 115.2,597.3 115.8,609.0 116.3,606.3 116.9,596.4 117.4,604.4 118.0,603.6 118.5,601.3 119.1,605.6 119.6,607.0 120.2,601.3 120.7,602.2 121.3,603.8 121.8,600.2 122.4,604.9 122.9,604.6 123.5,601.5 124.0,601.7 124.6,608.2 125.1,612.0 125.7,608.4 126.2,603.5 126.8,609.5 127.3,608.6 127.9,610.6 128.4,611.5 129.0,602.5 129.5,603.5 130.1,601.6 130.6,602.6 131.2,615.4 131.7,610.1 132.3,597.7 132.8,604.5 133.4,603.7 133.9,609.8 134.5,605.9 135.0,603.7 135.6,605.1 136.1,606.1 136.7,604.2 137.2,602.5 137.8,603.2 138.3,604.6 138.9,598.2 139.4,601.8 140.0,601.9 140.5,601.1 141.1,604.4 141.6,596.5 142.2,598.2 142.7,598.1 143.3,603.3 143.8,600.1 144.4,601.8 144.9,601.8 145.5,594.3 146.0,600.9 146.6,597.5 147.1,598.7 147.7,600.7 148.2,605.2 148.8,606.8 149.3,609.9 149.9,602.3 150.4,597.2 151.0,597.5 151.5,604.1 152.1,608.6 152.6,602.3 153.2,597.1 153.7,600.3 154.3,600.7 154.8,598.7 155.4,592.6 155.9,584.8 156.5,594.5 157.0,603.5 157.6,598.3 158.1,587.6 158.7,594.0 159.2,591.1 159.8,606.2 160.3,599.7 160.9,592.9 161.4,599.6 162.0,595.2 162.5,599.5 163.1,596.8 163.6,592.1 164.2,597.8 164.7,592.5 165.3,602.2 165.8,597.5 166.4,589.7 166.9,588.2 167.5,604.1 168.0,604.0 168.6,593.3 169.1,603.2 169.7,598.4 170.2,594.9 170.8,594.8 171.3,595.6 171.9,602.3 172.4,595.4 173.0,588.2 173.5,604.1 174.1,600.0 174.6,589.5 175.2,590.3 175.7,589.1 176.3,593.5 176.8,595.8 177.4,594.4 177.9,589.6 178.5,589.3 179.0,596.1 179.6,595.4 180.1,602.6 180.7,591.4 181.2,595.1 181.8,592.1 182.3,589.4 182.9,597.5 183.4,592.4 184.0,586.4 184.5,589.4 185.1,594.1 185.6,586.9 186.2,596.6 186.7,594.7 187.3,590.6 187.8,597.8 188.4,599.9 188.9,593.8 189.5,591.9 190.0,599.1 190.6,596.2 191.1,584.2 191.7,584.9 192.2,585.0 192.8,582.6 193.3,579.2 193.9,588.7 194.4,586.9 195.0,587.2 195.5,591.3 196.1,583.0 196.6,583.5 197.2,584.6 197.7,581.4 198.3,582.8 198.8,586.4 199.4,584.6 199.9,587.9 200.5,579.7 201.0,580.2 201.6,574.2 202.1,578.1 202.7,578.6 203.2,587.3 203.8,585.9 204.3,585.3 204.9,591.0 205.4,589.4 206.0,583.6 206.5,574.7 207.1,570.7 207.6,576.3 208.2,575.7 208.7,574.0 209.3,573.7 209.8,570.4 210.4,581.6 210.9,572.1 211.5,572.7 212.0,576.8 212.6,569.6 213.1,579.7 213.7,581.0 214.2,573.6 214.8,568.8 215.3,569.3 215.9,566.2 216.4,579.3 217.0,574.9 217.5,569.0 218.1,568.6 218.6,576.6 219.2,579.6 219.7,567.1 220.3,566.0 220.8,563.2 221.4,573.3 221.9,575.3 222.5,582.4 223.0,572.1 223.6,567.4 224.1,567.0 224.7,571.6 225.2,563.1 225.8,571.6 226.3,570.5 226.9,565.4 227.4,564.5 228.0,574.5 228.5,577.9 229.1,567.9 229.6,571.3 230.2,575.6 230.7,565.1 231.3,563.1 231.8,559.5 232.4,564.2 232.9,565.9 233.5,564.5 234.0,562.2 234.6,558.4 235.1,559.6 235.7,564.0 236.2,573.8 236.8,574.1 237.3,577.4 237.9,589.3 238.4,593.7 239.0,591.8 239.5,597.4 240.1,611.5 240.6,617.8 241.2,620.2 241.7,631.8 242.3,640.5 242.8,651.6 243.4,652.4 243.9,660.0 244.5,658.0 245.0,652.4 245.6,661.1 246.1,660.1 246.7,652.2 247.2,663.0 247.8,651.0 248.3,649.3 248.9,653.7 249.4,659.7 250.0,659.1 250.5,657.0 251.1,662.6 251.6,660.4 252.2,665.8 252.7,671.3 253.3,656.4 253.8,641.7 254.4,648.8 254.9,649.1 255.5,654.3 256.0,654.0 256.6,647.2 257.1,647.0 257.7,651.6 258.2,650.1 258.8,641.7 259.3,656.2 259.9,655.1 260.4,654.1 261.0,654.0 261.5,648.5 262.1,653.2 262.6,659.7 263.2,660.3 263.7,656.3 264.3,651.1 264.8,649.7 265.4,659.1 265.9,656.2 266.5,648.4 267.0,639.7 267.6,643.1 268.1,641.1" fill="none" stroke="#497e1e" stroke-width="1.1" stroke-linejoin="round"/>
<polyline points="95.8,671.9 96.4,624.4 97.0,611.3 97.6,611.5 98.2,617.6 98.8,610.7 99.4,597.5 100.0,593.1 100.6,584.2 101.2,577.3 101.8,578.9 102.4,581.0 103.0,591.1 103.6,597.7 104.2,603.2 104.8,603.1 105.4,602.2 106.0,592.2 106.6,589.5 107.2,598.0 107.8,594.1 108.4,597.0 109.0,596.4 109.6,600.0 110.2,596.9 110.8,601.9 111.4,607.8 112.0,607.8 112.6,605.6 113.2,610.0 113.8,607.3 114.4,607.2 115.0,615.7 115.6,620.7 116.2,619.3 116.8,614.7 117.4,621.2 118.0,622.5 118.6,618.4 119.2,614.6 119.8,625.8 120.4,628.8 121.0,627.0 121.6,620.8 122.2,622.1 122.8,628.9 123.4,628.4 124.0,625.3 124.6,621.6 125.2,621.1 125.8,617.2 126.4,615.5 127.0,613.2 127.6,614.6 128.2,612.8 128.8,615.2 129.4,612.9 130.0,608.1 130.6,614.8 131.2,609.1 131.8,613.8 132.4,618.3 133.0,618.0 133.6,610.0 134.2,619.4 134.8,623.7 135.4,623.1 136.0,613.3 136.6,617.4 137.2,620.6 137.8,620.4 138.4,623.9 139.0,619.1 139.6,622.7 140.2,619.7 140.8,612.1 141.4,611.8 142.0,613.6 142.6,615.7 143.2,617.5 143.8,614.2 144.4,614.5 145.0,605.3 145.6,600.4 146.2,608.7 146.8,612.5 147.4,609.8 148.0,607.9 148.6,613.1 149.2,617.5 149.8,611.2 150.4,607.5 151.0,608.5 151.6,616.1 152.2,611.8 152.8,612.8 153.4,615.0 154.0,613.4 154.6,607.8 155.2,612.4 155.8,612.9 156.4,611.9 157.0,612.1 157.6,607.4 158.2,607.5 158.8,607.1 159.4,609.8 160.0,606.7 160.6,607.8 161.2,604.1 161.8,605.8 162.4,605.7 163.0,606.3 163.6,606.8 164.2,605.6 164.8,603.7 165.4,599.6 166.0,607.4 166.6,603.9 167.2,603.3 167.8,602.7 168.4,606.7 169.0,602.5 169.6,606.0 170.2,609.4 170.8,610.8 171.4,609.0 172.0,605.3 172.6,600.3 173.2,607.0 173.8,607.9 174.4,606.4 175.0,605.3 175.6,602.0 176.2,600.1 176.8,604.6 177.4,604.3 178.0,597.6 178.6,601.5 179.2,600.6 179.8,601.3 180.4,599.9 181.0,601.6 181.6,601.4 182.2,598.7 182.8,592.2 183.4,596.8 184.0,594.5 184.6,590.9 185.2,594.1 185.8,589.7 186.4,595.8 187.0,597.9 187.6,591.9 188.2,594.3 188.8,593.6 189.4,592.1 190.0,586.7 190.6,591.0 191.2,590.9 191.8,591.7 192.4,590.1 193.0,592.2 193.6,590.2 194.2,591.1 194.8,592.4 195.4,589.2 196.0,590.1 196.6,588.0 197.2,587.4 197.8,584.7 198.4,588.2 199.0,589.3 199.6,585.5 200.2,586.9 200.8,584.9 201.4,580.3 202.0,584.4 202.6,587.0 203.2,580.5 203.8,576.1 204.4,580.8 205.0,580.9 205.6,586.9 206.2,582.0 206.8,580.0 207.4,578.3 208.0,579.9 208.6,577.3 209.2,575.9 209.8,577.5 210.4,576.8 211.0,581.2 211.6,575.0 212.2,576.1 212.8,574.1 213.4,573.2 214.0,579.7 214.6,571.7 215.2,578.3 215.8,572.2 216.4,576.2 217.0,580.9 217.6,568.3 218.2,569.2 218.8,577.4 219.4,574.7 220.0,571.5 220.6,571.7 221.2,569.4 221.8,572.9 222.4,576.5 223.0,571.4 223.6,572.1 224.2,576.2 224.8,577.3 225.4,569.7 226.0,569.9 226.6,567.3 227.2,566.2 227.8,566.4 228.4,564.7 229.0,560.5 229.6,559.4 230.2,563.6 230.8,567.6 231.4,570.2 232.0,565.2 232.6,566.3 233.2,569.9 233.8,570.8 234.4,568.7 235.0,570.2 235.6,575.6 236.2,571.8 236.8,574.1 237.4,576.8 238.0,587.4 238.6,593.2 239.2,603.4 239.8,605.3 240.4,616.3 241.0,626.7 241.6,635.7 242.2,637.3 242.8,652.2 243.4,657.8 244.0,657.6 244.6,656.8 245.2,656.4 245.8,655.2 246.4,650.7 247.0,658.2 247.6,658.1 248.2,655.1 248.8,658.9 249.4,665.8 250.0,660.7 250.6,658.4 251.2,662.9 251.8,656.7 252.4,656.7 253.0,656.1 253.6,657.5 254.2,660.8 254.8,660.0 255.4,656.1 256.0,657.3 256.6,658.1 257.2,656.9 257.8,657.3 258.4,655.3 259.0,655.3 259.6,657.1 260.2,655.1 260.8,658.7 261.4,657.2 262.0,654.6 262.6,655.2 263.2,656.1 263.8,657.4 264.4,658.3 265.0,657.0 265.6,656.2 266.2,662.8 266.8,662.1 267.4,659.8 268.0,661.3" fill="none" stroke="#0000ff" stroke-width="1.2" stroke-linejoin="round"/>
<polyline points="97.0,689.2 97.5,683.7 98.0,682.8 98.5,687.8 99.0,679.7 99.5,673.5 100.0,665.0 100.5,666.7 101.0,670.1 101.5,662.7 102.0,661.5 102.5,659.9 103.0,656.2 103.5,655.8 104.0,649.4 104.5,646.0 105.0,642.3 105.5,651.7 106.0,645.0 106.5,643.1 107.0,646.0 107.5,639.9 108.0,639.3 108.5,637.1 109.0,638.9 109.5,638.4 110.0,640.8 110.5,639.4 111.0,638.1 111.5,639.8 112.0,641.2 112.5,641.9 113.0,647.7 113.5,648.2 114.0,645.7 114.5,642.3 115.0,647.1 115.5,643.2 116.0,647.6 116.5,648.1 117.0,645.7 117.5,644.7 118.0,647.6 118.5,656.7 119.0,650.5 119.5,650.1 120.0,654.6 120.5,654.3 121.0,654.8 121.5,647.1 122.0,649.7 122.5,664.6 123.0,655.8 123.5,653.1 124.0,656.0 124.5,658.4 125.0,652.7 125.5,656.9 126.0,658.2 126.5,660.8 127.0,659.6 127.5,656.9 128.0,654.4 128.5,649.6 129.0,658.0 129.5,650.9 130.0,653.3 130.5,659.0 131.0,652.3 131.5,652.5 132.0,649.6 132.5,650.4 133.0,646.8 133.5,644.4 134.0,648.4 134.5,641.5 135.0,635.6 135.5,638.7 136.0,640.9 136.5,636.3 137.0,641.7 137.5,643.7 138.0,646.0 138.5,637.1 139.0,637.4 139.5,630.0 140.0,632.8 140.5,635.5 141.0,636.1 141.5,634.0 142.0,632.6 142.5,630.1 143.0,630.4 143.5,633.0 144.0,634.1 144.5,634.4 145.0,635.4 145.5,634.2 146.0,624.2 146.5,627.2 147.0,629.4 147.5,629.4 148.0,635.4 148.5,635.2 149.0,632.0 149.5,633.3 150.0,636.8 150.5,631.8 151.0,631.8 151.5,636.3 152.0,636.6 152.5,639.2 153.0,636.5 153.5,636.2 154.0,631.5 154.5,629.9 155.0,631.2 155.5,624.6 156.0,634.7 156.5,638.8 157.0,635.8 157.5,635.3 158.0,639.3 158.5,637.1 159.0,641.2 159.5,645.6 160.0,641.4 160.5,640.7 161.0,639.1 161.5,637.9 162.0,637.7 162.5,637.8 163.0,639.3 163.5,631.1 164.0,634.8 164.5,638.2 165.0,634.0 165.5,635.1 166.0,634.5 166.5,638.7 167.0,641.8 167.5,643.6 168.0,639.6 168.5,635.0 169.0,638.0 169.5,640.7 170.0,641.3 170.5,630.7 171.0,635.6 171.5,631.4 172.0,639.1 172.5,640.2 173.0,640.6 173.5,641.7 174.0,639.4 174.5,635.9 175.0,639.6 175.5,642.6 176.0,638.5 176.5,637.1 177.0,634.5 177.5,641.1 178.0,636.4 178.5,634.2 179.0,634.5 179.5,633.5 180.0,636.5 180.5,642.1 181.0,641.8 181.5,643.6 182.0,642.2 182.5,634.2 183.0,638.0 183.5,643.4 184.0,644.0 184.5,630.4 185.0,628.7 185.5,635.0 186.0,632.7 186.5,630.5 187.0,633.9 187.5,629.2 188.0,624.3 188.5,631.5 189.0,634.0 189.5,636.1 190.0,636.8 190.5,633.6 191.0,630.9 191.5,627.9 192.0,624.6 192.5,629.3 193.0,635.2 193.5,636.0 194.0,639.0 194.5,630.2 195.0,624.2 195.5,632.7 196.0,633.6 196.5,624.8 197.0,622.5 197.5,629.1 198.0,630.9 198.5,624.9 199.0,625.7 199.5,624.2 200.0,622.0 200.5,621.9 201.0,626.5 201.5,625.0 202.0,621.5 202.5,617.1 203.0,629.4 203.5,623.0 204.0,622.6 204.5,620.3 205.0,623.3 205.5,618.3 206.0,622.2 206.5,622.9 207.0,624.8 207.5,618.0 208.0,618.0 208.5,621.4 209.0,627.2 209.5,616.7 210.0,619.3 210.5,617.5 211.0,620.2 211.5,621.5 212.0,619.5 212.5,619.1 213.0,618.2 213.5,614.8 214.0,613.9 214.5,609.4 215.0,612.5 215.5,611.9 216.0,613.9 216.5,617.4 217.0,616.5 217.5,616.7 218.0,615.9 218.5,605.1 219.0,612.1 219.5,612.2 220.0,609.6 220.5,605.5 221.0,611.0 221.5,613.7 222.0,611.8 222.5,607.1 223.0,608.1 223.5,609.5 224.0,611.7 224.5,608.3 225.0,602.6 225.5,600.6 226.0,599.9 226.5,598.6 227.0,596.0 227.5,598.0 228.0,592.4 228.5,590.6 229.0,592.9 229.5,589.5 230.0,587.3 230.5,581.8 231.0,589.3 231.5,590.5 232.0,591.9 232.5,595.8 233.0,596.6 233.5,597.2 234.0,606.7 234.5,602.6 235.0,608.6 235.5,612.8 236.0,606.7 236.5,608.6 237.0,609.1 237.5,616.2 238.0,613.7 238.5,617.5 239.0,631.6 239.5,636.4 240.0,636.8 240.5,648.2 241.0,654.0 241.5,667.8 242.0,664.1 242.5,654.7 243.0,653.3 243.5,651.9 244.0,654.9 244.5,655.8 245.0,657.6 245.5,654.3 246.0,648.2 246.5,651.0 247.0,659.6 247.5,659.2 248.0,653.8 248.5,652.6 249.0,652.5 249.5,651.6 250.0,647.3 250.5,654.2 251.0,650.8 251.5,650.3 252.0,642.9 252.5,651.9 253.0,655.2 253.5,645.4 254.0,655.7 254.5,653.6 255.0,647.3 255.5,645.2 256.0,654.1 256.5,653.1 257.0,652.8 257.5,649.2 258.0,647.8 258.5,652.1 259.0,647.9 259.5,651.2 260.0,643.5 260.5,643.7 261.0,644.4 261.5,651.9 262.0,642.9 262.5,644.1 263.0,650.9 263.5,652.2 264.0,658.9 264.5,658.0 265.0,653.1 265.5,650.2 266.0,641.4 266.5,643.3 267.0,646.1 267.5,646.1 268.0,642.7" fill="none" stroke="#000" stroke-width="1.1" stroke-linejoin="round"/>
<line x1="95.3" y1="560" x2="95.3" y2="690.5" stroke="#497e1e" stroke-width="1.2"/>
<line x1="95.3" y1="599" x2="95.3" y2="690.5" stroke="#0000ff" stroke-width="2"/>
<line x1="96" y1="656.6" x2="244.6" y2="656.6" stroke="#000" stroke-width="1.1" stroke-dasharray="4 3"/>
<text x="43.5" y="663.2" font-size="18" textLength="41.5" lengthAdjust="spacingAndGlyphs" fill="#000">0 pA</text>
<text x="124" y="689.5" font-size="18" textLength="90.5" lengthAdjust="spacingAndGlyphs" fill="#000">0.5 pA/pA</text>
<line x1="220" y1="673" x2="220" y2="693.3" stroke="#000" stroke-width="1.1"/>
<line x1="220" y1="693.3" x2="281" y2="693.3" stroke="#000" stroke-width="1.1"/>
<text x="217.8" y="714" font-size="18" textLength="63.5" lengthAdjust="spacingAndGlyphs" fill="#000">200 ms</text>
<text x="397.5" y="477.7" font-size="41" fill="#000">E</text>
<line x1="491.2" y1="462.7" x2="491.2" y2="622.4" stroke="#555" stroke-width="1.5"/>
<line x1="484.5" y1="622.4" x2="602.8" y2="622.4" stroke="#555" stroke-width="1.5"/>
<line x1="485.2" y1="622.2" x2="491.2" y2="622.2" stroke="#555" stroke-width="1"/>
<line x1="487.7" y1="597.4000000000001" x2="491.2" y2="597.4000000000001" stroke="#555" stroke-width="1"/>
<line x1="485.2" y1="572.6" x2="491.2" y2="572.6" stroke="#555" stroke-width="1"/>
<line x1="487.7" y1="547.8000000000001" x2="491.2" y2="547.8000000000001" stroke="#555" stroke-width="1"/>
<line x1="485.2" y1="523.0" x2="491.2" y2="523.0" stroke="#555" stroke-width="1"/>
<line x1="487.7" y1="498.20000000000005" x2="491.2" y2="498.20000000000005" stroke="#555" stroke-width="1"/>
<line x1="485.2" y1="473.40000000000003" x2="491.2" y2="473.40000000000003" stroke="#555" stroke-width="1"/>
<line x1="491.2" y1="622.4" x2="491.2" y2="627" stroke="#555" stroke-width="1"/>
<line x1="509.3" y1="622.4" x2="509.3" y2="627" stroke="#555" stroke-width="1"/>
<line x1="527.2" y1="622.4" x2="527.2" y2="627" stroke="#555" stroke-width="1"/>
<line x1="546.5" y1="622.4" x2="546.5" y2="627" stroke="#555" stroke-width="1"/>
<line x1="565.2" y1="622.4" x2="565.2" y2="627" stroke="#555" stroke-width="1"/>
<line x1="584" y1="622.4" x2="584" y2="627" stroke="#555" stroke-width="1"/>
<line x1="602.4" y1="622.4" x2="602.4" y2="627" stroke="#555" stroke-width="1"/>
<text x="480.5" y="629.8000000000001" font-size="25" text-anchor="end" fill="#000">0</text>
<text x="480.5" y="580.2" font-size="25" text-anchor="end" fill="#000">1</text>
<text x="480.5" y="530.6" font-size="25" text-anchor="end" fill="#000">2</text>
<text x="480.5" y="481.00000000000006" font-size="25" text-anchor="end" fill="#000">3</text>
<rect x="494.5" y="572.6" width="29.8" height="49.8" fill="#c0c0c0" stroke="#777" stroke-width="1"/>
<rect x="531.1" y="520.3" width="30.7" height="102.1" fill="#497e1e" stroke="#3a5a20" stroke-width="0.8"/>
<rect x="568.6" y="520.3" width="30.2" height="102.1" fill="#0000ff" stroke="#0000b0" stroke-width="0.8"/>
<line x1="509.3" y1="564.4" x2="509.3" y2="572.6" stroke="#555" stroke-width="1.1"/>
<line x1="505.7" y1="564.4" x2="512.9" y2="564.4" stroke="#555" stroke-width="1.1"/>
<line x1="546.5" y1="504.6" x2="546.5" y2="520.3" stroke="#555" stroke-width="1.1"/>
<line x1="542.9" y1="504.6" x2="550.1" y2="504.6" stroke="#555" stroke-width="1.1"/>
<line x1="584" y1="497.3" x2="584" y2="520.3" stroke="#999" stroke-width="1.1"/>
<line x1="580.4" y1="497.3" x2="587.6" y2="497.3" stroke="#999" stroke-width="1.1"/>
<path d="M546.40,484.70L546.40,496.70M541.20,487.70L551.60,493.70M551.60,487.70L541.20,493.70" stroke="#000" stroke-width="2.2" fill="none"/>
<path d="M583.9,473.9L583.9,486.6M579.6999999999999,478.3L588.1,478.3" stroke="#000" stroke-width="1.7" fill="none"/>
<text transform="translate(453.5 630) rotate(-90)" font-size="23">Q/I<tspan font-size="16.5" dy="5">TailMAX</tspan><tspan dy="-5"> (pC/pA)</tspan></text>
<text transform="translate(520 647) rotate(-51)" font-size="23" text-anchor="end">Control</text>
<text transform="translate(559.5 647) rotate(-51)" font-size="21.8" text-anchor="end">scFv2.10</text>
<text transform="translate(598.5 648.5) rotate(-51)" font-size="21.8" text-anchor="end">scFv2.12</text>
<text x="1.8" y="749" font-size="41" fill="#000">F</text>
<line x1="58.6" y1="830.3" x2="278" y2="830.3" stroke="#000" stroke-width="1.1" stroke-dasharray="3.5 2.5"/>
<text x="11" y="835.4" font-size="18" textLength="45.5" lengthAdjust="spacingAndGlyphs" fill="#000">0 mV</text>
<polyline points="61.7,951.7 77.4,951.7 79.5,759.5" fill="none" stroke="#000" stroke-width="3.2" stroke-linejoin="round" stroke-linejoin="miter"/>
<polyline points="79.5,759.5 79.6,760.2 79.8,760.9 79.9,761.6 80.0,762.2 80.2,762.9 80.3,763.6 80.5,764.3 80.6,765.0 80.7,765.7 80.9,766.4 81.0,767.1 81.1,767.8 81.2,768.4 81.3,769.1 81.5,769.8 81.6,770.5 81.7,771.2 81.9,771.9 82.0,772.6 82.2,773.3 82.4,773.9 82.6,774.6 82.9,775.2 83.2,775.8 83.5,776.4 83.9,777.0 84.3,777.5 84.7,778.0 85.2,778.3 85.8,778.6 86.4,778.8 87.1,778.9 87.8,779.0 88.5,779.0 89.1,778.9 89.8,778.9 90.5,778.8 91.2,778.8 91.9,778.8 92.6,778.9 93.2,779.0 93.9,779.2 94.5,779.5 95.2,779.7 95.9,779.9 96.5,780.4 97.2,780.6 97.8,780.8 98.5,781.1 99.1,781.3 99.8,781.5 100.5,781.7 101.1,781.9 101.8,782.2 102.4,782.4 103.1,782.6 103.8,782.9 104.4,783.1 105.1,783.3 105.7,783.6 106.4,783.8 107.0,784.0 107.7,784.3 108.4,784.5 109.0,784.7 109.7,785.0 110.4,785.2 111.0,785.4 111.7,785.7 112.3,785.9 113.0,786.1 113.7,786.3 114.3,786.6 115.0,786.8 115.7,787.0 116.3,787.2 117.0,787.4 117.7,787.7 118.3,787.9 119.0,788.1 119.7,788.3 120.3,788.5 121.0,788.7 121.7,788.9 122.3,789.1 123.0,789.4 123.7,789.6 124.3,789.8 125.0,790.0 125.7,790.2 126.3,790.4 127.0,790.6 127.7,790.9 128.3,791.1 129.0,791.3 129.7,791.5 130.3,791.8 131.0,792.0 131.6,792.2 132.3,792.5 133.0,792.7 133.6,792.9 134.3,793.2 134.9,793.4 135.6,793.7 136.2,794.0 136.9,794.2 137.5,794.5 138.2,794.8 138.8,795.0 139.5,795.3 140.1,795.6 140.7,795.9 141.4,796.1 142.0,796.4 142.7,796.7 143.3,797.0 143.9,797.3 144.6,797.6 145.2,797.9 145.8,798.2 146.5,798.5 147.1,798.8 147.8,799.1 148.4,799.4 149.0,799.7 149.7,800.0 150.3,800.3 150.9,800.6 151.6,800.9 152.2,801.2 152.8,801.5 153.4,801.8 154.1,802.1 154.7,802.4 155.3,802.7 156.0,803.0 156.6,803.3 157.2,803.6 157.8,804.0 158.5,804.3 159.1,804.6 159.7,804.9 160.3,805.2 161.0,805.6 161.6,805.9 162.2,806.2 162.8,806.6 163.4,806.9 164.0,807.2 164.6,807.6 165.2,807.9 165.9,808.3 166.5,808.6 167.1,809.0 167.7,809.3 168.3,809.7 168.9,810.0 169.5,810.4 170.1,810.8 170.7,811.1 171.3,811.5 171.9,811.8 172.5,812.2 173.1,812.6 173.7,812.9 174.3,813.3 174.9,813.7 175.5,814.0 176.1,814.4 176.7,814.8 177.3,815.2 177.8,815.5 178.4,815.9 179.0,816.3 179.6,816.7 180.2,817.1 180.8,817.4 181.4,817.8 182.0,818.2 182.5,818.6 183.1,819.0 183.7,819.4 184.3,819.8 184.9,820.2 185.4,820.6 186.0,821.0 186.6,821.4 187.2,821.8 187.7,822.2 188.3,822.6 188.9,823.0 189.4,823.4 190.0,823.8 190.6,824.2 191.1,824.6 191.7,825.1 192.3,825.5 192.8,825.9 193.4,826.3 193.9,826.8 194.5,827.2 195.0,827.6 195.6,828.1 196.1,828.5 196.7,828.9 197.2,829.4 197.7,829.8 198.3,830.3 198.8,830.7 199.4,831.2 199.9,831.6 200.4,832.1 201.0,832.5 201.5,833.0 202.0,833.5 202.5,833.9 203.0,834.4 203.5,834.9 204.1,835.4 204.6,835.9 205.1,836.3 205.6,836.8 206.1,837.3 206.5,837.8 207.0,838.3 207.5,838.8 208.0,839.3 208.4,839.9 208.9,840.4 209.3,840.9 209.8,841.5 210.2,842.0 210.7,842.5 211.1,843.1 211.5,843.6 211.9,844.2 212.3,844.8 212.7,845.3 213.1,845.9 213.5,846.5 213.9,847.1 214.3,847.6 214.7,848.2 215.1,848.8 215.4,849.4 215.8,850.0 216.2,850.6 216.5,851.2 216.9,851.8 217.2,852.4 217.5,853.0 217.9,853.7 218.2,854.3 218.5,854.9 218.9,855.5 219.2,856.1 219.5,856.8 219.8,857.4 220.1,858.0 220.4,858.6 220.7,859.3 221.0,859.9 221.3,860.5 221.6,861.2 221.9,861.8 222.1,862.5 222.4,863.1 222.7,863.8 222.9,864.4 223.2,865.1 223.5,865.7 223.7,866.4 224.0,867.0 224.2,867.7 224.5,868.3 224.7,869.0 224.9,869.6 225.2,870.3 225.4,871.0 225.6,871.6 225.8,872.3 226.0,873.0 226.2,873.6 226.5,874.3 226.7,875.0 226.9,875.6 227.0,876.3 227.2,877.0 227.4,877.7 227.6,878.3 227.8,879.0 227.9,879.7 228.1,880.4 228.3,881.1 228.5,881.7 228.6,882.4 228.8,883.1 229.0,883.8 229.1,884.5 229.3,885.1 229.5,885.8 229.6,886.5 229.8,887.2 229.9,887.9 230.1,888.5 230.3,889.2 230.4,889.9 230.6,890.6 230.7,891.3 230.9,892.0 231.0,892.7 231.1,893.3 231.3,894.0 231.4,894.7 231.6,895.4 231.7,896.1 231.9,896.8 232.0,897.5 232.2,898.1 232.3,898.8 232.4,899.5 232.6,900.2 232.7,900.9 232.8,901.6 232.9,902.3 233.0,903.0 233.1,903.7 233.2,904.4 233.3,905.1 233.4,905.8 233.4,906.4 233.5,907.1 233.6,907.8 233.7,908.5 233.8,909.2 233.9,909.9 233.9,910.6 234.0,911.3 234.1,912.0 234.2,912.7 234.3,913.4 234.3,914.1 234.4,914.8 234.5,915.5 234.6,916.2 234.7,916.9 234.8,917.6 234.8,918.3 234.9,919.0 235.0,919.7 235.1,920.4 235.2,921.1 235.2,921.8 235.3,922.5 235.4,923.2 235.4,923.9 235.5,924.6 235.6,925.3 235.7,925.9 235.7,926.6 235.8,927.3 235.9,928.0 235.9,928.7 236.0,929.4 236.1,930.1 236.2,930.8 236.2,931.5 236.3,932.2 236.4,932.9 236.4,933.6 236.5,934.3 236.6,935.0 236.7,935.7 236.7,936.4 236.8,937.1 236.9,937.8 236.9,938.5 237.0,939.2 237.1,939.9 237.2,940.6 237.2,941.3 237.3,942.0 237.4,942.7 237.5,943.4 237.6,944.1 237.7,944.8 237.9,945.4 238.1,946.1 238.2,946.8 238.4,947.5 238.6,948.1 238.8,948.8 239.0,949.5 239.2,950.1 239.5,950.6 239.9,951.0 240.3,951.3 240.9,951.5 241.5,951.6 242.2,951.7 242.9,951.7 243.5,951.7 244.2,951.7 244.9,951.7 245.6,951.7 246.4,951.7 247.1,951.7 247.8,951.7 248.5,951.7 249.2,951.7 249.9,951.7 250.6,951.7 251.3,951.7 252.0,951.7 252.7,951.7 253.4,951.7 254.1,951.7 254.8,951.7 255.5,951.7 256.2,951.7 256.9,951.7 257.6,951.7 258.3,951.7 259.0,951.7 259.7,951.7 260.4,951.7 261.1,951.7 261.8,951.7 262.5,951.7 263.2,951.7 263.9,951.7 264.6,951.7 265.3,951.7 266.0,951.7 266.7,951.7 267.4,951.7 268.1,951.7 268.8,951.7 269.5,951.7 270.2,951.7 270.9,951.7 271.6,951.7 272.3,951.7 273.0,951.7 273.7,951.7 274.4,951.7 275.1,951.7 275.8,951.7 276.5,951.7 277.2,951.7 277.9,951.7 278.6,951.7" fill="none" stroke="#000" stroke-width="3.2" stroke-linejoin="round"/>
<polyline points="61.7,951.7 77.4,951.7 79.5,759.5" fill="none" stroke="#497e1e" stroke-width="3.2" stroke-linejoin="round" stroke-linejoin="miter"/>
<polyline points="79.5,759.5 79.7,760.2 79.8,760.9 80.0,761.5 80.1,762.2 80.3,762.9 80.5,763.6 80.6,764.3 80.8,765.0 80.9,765.6 81.1,766.3 81.2,767.0 81.4,767.7 81.5,768.4 81.6,769.1 81.7,769.8 81.8,770.5 82.0,771.2 82.1,771.9 82.2,772.5 82.3,773.2 82.5,773.9 82.7,774.6 83.0,775.2 83.2,775.8 83.6,776.4 83.9,777.0 84.3,777.5 84.8,778.0 85.3,778.4 85.9,778.7 86.5,778.9 87.1,779.0 87.8,779.1 88.5,779.2 89.2,779.2 89.9,779.2 90.5,779.3 91.2,779.4 91.9,779.6 92.5,779.8 93.2,780.0 93.8,780.3 94.4,780.6 95.1,780.9 95.7,781.2 96.3,781.7 97.0,782.0 97.6,782.2 98.2,782.5 98.9,782.8 99.5,783.1 100.1,783.3 100.8,783.6 101.4,783.9 102.0,784.2 102.7,784.5 103.3,784.8 103.9,785.1 104.6,785.4 105.2,785.7 105.8,786.0 106.5,786.3 107.1,786.6 107.7,787.0 108.3,787.3 109.0,787.6 109.6,787.9 110.2,788.2 110.8,788.6 111.4,788.9 112.1,789.2 112.7,789.6 113.3,789.9 113.9,790.3 114.5,790.6 115.1,791.0 115.7,791.3 116.3,791.7 116.9,792.1 117.5,792.4 118.1,792.8 118.7,793.2 119.3,793.6 119.9,793.9 120.4,794.3 121.0,794.7 121.6,795.1 122.2,795.5 122.8,795.8 123.4,796.2 124.0,796.6 124.6,797.0 125.1,797.4 125.7,797.8 126.3,798.1 126.9,798.5 127.5,798.9 128.1,799.3 128.6,799.7 129.2,800.1 129.8,800.5 130.4,800.9 130.9,801.3 131.5,801.7 132.0,802.2 132.6,802.6 133.1,803.0 133.7,803.4 134.2,803.9 134.8,804.3 135.3,804.8 135.8,805.2 136.3,805.7 136.8,806.2 137.3,806.7 137.8,807.2 138.3,807.6 138.8,808.1 139.3,808.6 139.8,809.1 140.3,809.7 140.8,810.2 141.2,810.7 141.7,811.2 142.2,811.7 142.6,812.3 143.1,812.8 143.5,813.3 144.0,813.8 144.4,814.4 144.9,814.9 145.3,815.5 145.8,816.0 146.2,816.5 146.7,817.1 147.1,817.6 147.6,818.2 148.0,818.7 148.4,819.3 148.9,819.8 149.3,820.4 149.7,820.9 150.2,821.5 150.6,822.0 151.0,822.6 151.5,823.1 151.9,823.7 152.3,824.2 152.7,824.8 153.1,825.4 153.6,825.9 154.0,826.5 154.4,827.1 154.8,827.6 155.2,828.2 155.6,828.8 156.0,829.3 156.4,829.9 156.8,830.5 157.2,831.1 157.6,831.7 158.0,832.2 158.4,832.8 158.7,833.4 159.1,834.0 159.5,834.6 159.9,835.2 160.2,835.8 160.6,836.4 161.0,837.0 161.3,837.6 161.7,838.2 162.1,838.8 162.4,839.4 162.8,840.0 163.1,840.6 163.5,841.2 163.9,841.8 164.2,842.4 164.6,843.0 164.9,843.6 165.3,844.2 165.6,844.8 166.0,845.4 166.3,846.0 166.7,846.6 167.0,847.3 167.4,847.9 167.7,848.5 168.0,849.1 168.4,849.7 168.7,850.3 169.1,850.9 169.4,851.5 169.7,852.2 170.1,852.8 170.4,853.4 170.7,854.0 171.1,854.6 171.4,855.2 171.7,855.9 172.1,856.5 172.4,857.1 172.7,857.7 173.1,858.3 173.4,859.0 173.7,859.6 174.0,860.2 174.4,860.8 174.7,861.4 175.0,862.1 175.3,862.7 175.6,863.3 175.9,863.9 176.3,864.6 176.6,865.2 176.9,865.8 177.2,866.5 177.5,867.1 177.8,867.7 178.1,868.4 178.4,869.0 178.7,869.6 179.0,870.2 179.3,870.9 179.6,871.5 179.9,872.1 180.2,872.8 180.5,873.4 180.8,874.1 181.1,874.7 181.4,875.3 181.7,876.0 182.0,876.6 182.3,877.2 182.6,877.9 182.8,878.5 183.1,879.2 183.4,879.8 183.7,880.5 183.9,881.1 184.2,881.8 184.5,882.4 184.7,883.1 185.0,883.7 185.2,884.4 185.5,885.0 185.8,885.7 186.0,886.3 186.3,887.0 186.5,887.6 186.8,888.3 187.0,888.9 187.3,889.6 187.5,890.2 187.8,890.9 188.0,891.5 188.3,892.2 188.5,892.9 188.8,893.5 189.0,894.2 189.3,894.8 189.5,895.5 189.8,896.1 190.0,896.8 190.2,897.5 190.5,898.1 190.7,898.8 191.0,899.4 191.2,900.1 191.4,900.8 191.7,901.4 191.9,902.1 192.2,902.7 192.4,903.4 192.6,904.1 192.8,904.7 193.1,905.4 193.3,906.1 193.5,906.7 193.7,907.4 193.9,908.1 194.1,908.8 194.2,909.4 194.4,910.1 194.6,910.8 194.8,911.5 195.0,912.1 195.2,912.8 195.4,913.5 195.6,914.2 195.8,914.8 195.9,915.5 196.1,916.2 196.3,916.9 196.5,917.5 196.7,918.2 196.9,918.9 197.1,919.6 197.3,920.2 197.4,920.9 197.6,921.6 197.8,922.3 198.0,923.0 198.1,923.6 198.3,924.3 198.5,925.0 198.6,925.7 198.8,926.4 199.0,927.0 199.1,927.7 199.3,928.4 199.5,929.1 199.6,929.8 199.8,930.4 200.0,931.1 200.1,931.8 200.3,932.5 200.5,933.2 200.6,933.9 200.8,934.5 201.0,935.2 201.1,935.9 201.3,936.6 201.5,937.3 201.6,937.9 201.8,938.6 202.0,939.3 202.2,940.0 202.4,940.6 202.7,941.3 203.0,941.9 203.2,942.6 203.5,943.2 203.8,943.8 204.1,944.5 204.4,945.1 204.7,945.7 205.0,946.3 205.4,946.9 205.8,947.5 206.2,948.1 206.6,948.6 207.1,949.1 207.6,949.6 208.1,949.9 208.7,950.3 209.3,950.5 210.0,950.8 210.7,950.9 211.3,951.1 212.0,951.2 212.7,951.3 213.4,951.5 214.1,951.5 214.8,951.6 215.5,951.7 216.2,951.7 216.9,951.7 217.6,951.7 218.3,951.7 219.0,951.7 219.7,951.7 220.4,951.7 221.1,951.7 221.8,951.7 222.5,951.7 223.2,951.7 223.9,951.7 224.6,951.7 225.3,951.7 226.0,951.7 226.7,951.7 227.4,951.7 228.1,951.7 228.8,951.7 229.5,951.7 230.2,951.7 230.9,951.7 231.6,951.7 232.3,951.7 233.0,951.7 233.7,951.7 234.4,951.7 235.1,951.7 235.8,951.7 236.5,951.7 237.2,951.7 237.9,951.7 238.6,951.7 239.3,951.7 240.0,951.7 240.7,951.7 241.4,951.7 242.1,951.7 242.8,951.7 243.5,951.7 244.2,951.7 244.9,951.7 245.6,951.7 246.3,951.7 247.0,951.7 247.7,951.7 248.4,951.7 249.1,951.7 249.8,951.7 250.5,951.7 251.2,951.7 251.9,951.7 252.6,951.7 253.4,951.7 254.1,951.7 254.8,951.7 255.5,951.7 256.2,951.7 256.9,951.7 257.6,951.7 258.3,951.7 259.0,951.7 259.7,951.7 260.4,951.7 261.1,951.7 261.8,951.7 262.5,951.7 263.2,951.7 263.9,951.7 264.6,951.7 265.3,951.7 266.0,951.7 266.7,951.7 267.4,951.7 268.1,951.7 268.8,951.7 269.5,951.7 270.2,951.7 270.9,951.7 271.6,951.7 272.3,951.7 273.0,951.7 273.7,951.7 274.4,951.7 275.1,951.7 275.8,951.7 276.5,951.7 277.2,951.7 277.9,951.7 278.6,951.7" fill="none" stroke="#497e1e" stroke-width="3.2" stroke-linejoin="round"/>
<polyline points="61.7,954.9 77.4,954.9 79.5,759.5" fill="none" stroke="#0000ff" stroke-width="3.2" stroke-linejoin="round" stroke-linejoin="miter"/>
<polyline points="91.8,778.5 92.5,778.8 93.1,779.0 93.8,779.3 94.4,779.5 95.1,779.8 95.7,780.1 96.4,780.3 97.0,780.6 97.7,780.8 98.3,781.1 99.0,781.4 99.6,781.6 100.3,781.9 100.9,782.1 101.6,782.4 102.2,782.7 102.9,782.9 103.5,783.2 104.2,783.5 104.8,783.7 105.5,784.0 106.1,784.2 106.8,784.5 107.4,784.8 108.1,785.0 108.7,785.3 109.4,785.6 110.0,785.9 110.7,786.1 111.3,786.4 112.0,786.7 112.6,786.9 113.2,787.2 113.9,787.5 114.5,787.8 115.2,788.1 115.8,788.3 116.5,788.6 117.1,788.9 117.7,789.2 118.4,789.5 119.0,789.8 119.7,790.0 120.3,790.3 120.9,790.6 121.6,790.9 122.2,791.2 122.9,791.5 123.5,791.8 124.1,792.1 124.8,792.4 125.4,792.7 126.0,793.0 126.7,793.3 127.3,793.6 127.9,793.9 128.5,794.2 129.2,794.5 129.8,794.8 130.4,795.2 131.0,795.5 131.6,795.9 132.2,796.2 132.8,796.6 133.4,796.9 134.0,797.3 134.5,797.7 135.1,798.1 135.7,798.5 136.2,798.9 136.8,799.3 137.3,799.7 137.9,800.2 138.4,800.6 139.0,801.0 139.5,801.5 140.0,801.9 140.6,802.4 141.1,802.8 141.6,803.3 142.2,803.7 142.7,804.2 143.2,804.6 143.8,805.1 144.3,805.6 144.8,806.0 145.4,806.5 145.9,806.9 146.4,807.4 146.9,807.9 147.4,808.3 148.0,808.8 148.5,809.3 149.0,809.8 149.5,810.3 150.0,810.7 150.5,811.2 151.0,811.7 151.4,812.2 151.9,812.7 152.4,813.3 152.8,813.8 153.3,814.3 153.8,814.8 154.2,815.4 154.7,815.9 155.1,816.4 155.5,817.0 156.0,817.5 156.4,818.1 156.8,818.6 157.3,819.2 157.7,819.7 158.1,820.3 158.5,820.9 159.0,821.4 159.4,822.0 159.8,822.6 160.2,823.1 160.6,823.7 161.0,824.3 161.4,824.8 161.8,825.4 162.2,826.0 162.6,826.6 163.0,827.1 163.4,827.7 163.8,828.3 164.1,828.9 164.5,829.5 164.9,830.1 165.2,830.7 165.6,831.3 165.9,831.9 166.3,832.5 166.6,833.1 167.0,833.7 167.3,834.3 167.6,835.0 168.0,835.6 168.3,836.2 168.6,836.8 168.9,837.4 169.2,838.1 169.6,838.7 169.9,839.3 170.2,839.9 170.5,840.6 170.8,841.2 171.1,841.8 171.4,842.5 171.7,843.1 172.0,843.7 172.3,844.4 172.6,845.0 172.9,845.6 173.2,846.3 173.5,846.9 173.8,847.5 174.1,848.2 174.4,848.8 174.7,849.5 175.0,850.1 175.2,850.7 175.5,851.4 175.8,852.0 176.1,852.7 176.3,853.3 176.6,854.0 176.9,854.6 177.2,855.3 177.4,855.9 177.7,856.6 178.0,857.2 178.2,857.8 178.5,858.5 178.8,859.1 179.0,859.8 179.3,860.5 179.5,861.1 179.8,861.8 180.1,862.4 180.3,863.1 180.6,863.7 180.8,864.4 181.1,865.0 181.3,865.7 181.5,866.3 181.8,867.0 182.0,867.7 182.2,868.3 182.5,869.0 182.7,869.6 182.9,870.3 183.2,871.0 183.4,871.6 183.6,872.3 183.8,873.0 184.1,873.6 184.3,874.3 184.5,875.0 184.7,875.6 184.9,876.3 185.1,877.0 185.3,877.6 185.5,878.3 185.7,879.0 185.9,879.7 186.1,880.3 186.3,881.0 186.5,881.7 186.7,882.3 186.9,883.0 187.0,883.7 187.2,884.4 187.3,885.1 187.5,885.8 187.6,886.4 187.7,887.1 187.9,887.8 188.0,888.5 188.1,889.2 188.3,889.9 188.4,890.6 188.5,891.3 188.6,892.0 188.8,892.7 188.9,893.3 189.0,894.0 189.1,894.7 189.3,895.4 189.4,896.1 189.5,896.8 189.6,897.5 189.7,898.2 189.9,898.9 190.0,899.6 190.1,900.3 190.2,900.9 190.3,901.6 190.5,902.3 190.6,903.0 190.7,903.7 190.8,904.4 190.9,905.1 191.0,905.8 191.1,906.5 191.2,907.2 191.4,907.9 191.5,908.6 191.6,909.3 191.7,909.9 191.8,910.6 191.9,911.3 192.0,912.0 192.1,912.7 192.2,913.4 192.3,914.1 192.5,914.8 192.6,915.5 192.7,916.2 192.8,916.9 192.9,917.6 193.0,918.3 193.1,919.0 193.2,919.7 193.3,920.4 193.4,921.0 193.5,921.7 193.6,922.4 193.7,923.1 193.8,923.8 193.9,924.5 194.0,925.2 194.1,925.9 194.2,926.6 194.2,927.3 194.3,928.0 194.4,928.7 194.5,929.4 194.6,930.1 194.7,930.8 194.7,931.5 194.8,932.2 194.9,932.9 195.0,933.6 195.0,934.3 195.1,935.0 195.2,935.7 195.2,936.4 195.3,937.1 195.4,937.8 195.4,938.5 195.5,939.2 195.6,939.9 195.7,940.6 195.7,941.3 195.8,941.9 195.9,942.6 196.0,943.3 196.1,944.0 196.2,944.7 196.3,945.4 196.4,946.1 196.5,946.8 196.6,947.5 196.7,948.2 196.9,948.9 197.0,949.5 197.2,950.2 197.5,950.8 197.7,951.5 198.0,952.1 198.4,952.6 198.8,953.1 199.3,953.6 199.8,954.0 200.3,954.3 200.9,954.5 201.5,954.7 202.2,954.8 202.8,954.8 203.5,954.9 204.2,954.9 204.9,954.9 205.6,954.9 206.3,954.9 207.0,954.9 207.7,954.9 208.4,954.9 209.1,954.9 209.8,954.9 210.5,954.9 211.2,954.9 211.9,954.9 212.6,954.9 213.3,954.9 214.1,954.9 214.8,954.9 215.5,954.9 216.2,954.9 216.9,954.9 217.6,954.9 218.3,954.9 219.0,954.9 219.7,954.9 220.4,954.9 221.1,954.9 221.8,954.9 222.5,954.9 223.2,954.9 223.9,954.9 224.6,954.9 225.3,954.9 226.0,954.9 226.7,954.9 227.4,954.9 228.1,954.9 228.8,954.9 229.5,954.9 230.2,954.9 230.9,954.9 231.6,954.9 232.3,954.9 233.0,954.9 233.7,954.9 234.4,954.9 235.1,954.9 235.8,954.9 236.5,954.9 237.2,954.9 237.9,954.9 238.6,954.9 239.3,954.9 240.0,954.9 240.7,954.9 241.4,954.9 242.1,954.9 242.8,954.9 243.5,954.9 244.2,954.9 244.9,954.9 245.6,954.9 246.3,954.9 247.0,954.9 247.7,954.9 248.4,954.9 249.1,954.9 249.8,954.9 250.5,954.9 251.2,954.9 251.9,954.9 252.6,954.9 253.3,954.9 254.0,954.9 254.7,954.9 255.4,954.9 256.1,954.9 256.8,954.9 257.6,954.9 258.3,954.9 259.0,954.9 259.7,954.9 260.4,954.9 261.1,954.9 261.8,954.9 262.5,954.9 263.2,954.9 263.9,954.9 264.6,954.9 265.3,954.9 266.0,954.9 266.7,954.9 267.4,954.9 268.1,954.9 268.8,954.9 269.5,954.9 270.2,954.9 270.9,954.9 271.6,954.9 272.3,954.9 273.0,954.9 273.7,954.9 274.4,954.9 275.1,954.9 275.8,954.9 276.5,954.9 277.2,954.9 277.9,954.9 278.6,954.9" fill="none" stroke="#0000ff" stroke-width="3.2" stroke-linejoin="round"/>
<polyline points="79.5,784.0 80.1,783.6 80.7,783.2 81.3,782.7 81.9,782.3 82.4,781.9 83.1,781.5 83.7,781.1 84.3,780.8 84.9,780.4 85.6,780.1 86.2,779.8 86.9,779.5 87.5,779.3 88.2,779.1 88.9,779.0 89.7,778.9 90.4,778.7 91.1,778.6 91.8,778.5" fill="none" stroke="#0000ff" stroke-width="3.2" stroke-linejoin="round"/>
<line x1="187" y1="753.3" x2="201" y2="753.3" stroke="#000" stroke-width="3"/>
<line x1="187" y1="777" x2="201" y2="777" stroke="#497e1e" stroke-width="3"/>
<line x1="187" y1="801" x2="201" y2="801" stroke="#0000ff" stroke-width="3"/>
<text x="204.5" y="760" font-size="21" textLength="63.5" lengthAdjust="spacingAndGlyphs" fill="#000">Control</text>
<text x="204.5" y="783.5" font-size="21" textLength="80" lengthAdjust="spacingAndGlyphs" fill="#000">scFv2.10</text>
<text x="204.5" y="807" font-size="21" textLength="80" lengthAdjust="spacingAndGlyphs" fill="#000">scFv2.12</text>
<line x1="160.8" y1="932" x2="160.8" y2="961.6" stroke="#000" stroke-width="1.1"/>
<line x1="160.8" y1="961.6" x2="211.7" y2="961.6" stroke="#000" stroke-width="1.1"/>
<text x="95.8" y="957.7" font-size="18" textLength="54.5" lengthAdjust="spacingAndGlyphs" fill="#000">20 mV</text>
<text x="156" y="985.5" font-size="18" textLength="61.5" lengthAdjust="spacingAndGlyphs" fill="#000">100 ms</text>
<text x="309.5" y="749.5" font-size="42.5" fill="#000">G</text>
<line x1="417.6" y1="732.8" x2="417.6" y2="938.2" stroke="#444" stroke-width="1.6"/>
<line x1="411" y1="938.2" x2="546" y2="938.2" stroke="#444" stroke-width="1.6"/>
<line x1="555" y1="938.2" x2="686.6" y2="938.2" stroke="#444" stroke-width="1.6"/>
<line x1="546" y1="943.1" x2="551" y2="934.2" stroke="#555" stroke-width="1"/>
<line x1="551" y1="943.1" x2="556" y2="934.2" stroke="#555" stroke-width="1"/>
<line x1="411.6" y1="938.1" x2="417.6" y2="938.1" stroke="#555" stroke-width="1"/>
<line x1="414.1" y1="918.9350000000001" x2="417.6" y2="918.9350000000001" stroke="#555" stroke-width="1"/>
<line x1="411.6" y1="899.77" x2="417.6" y2="899.77" stroke="#555" stroke-width="1"/>
<line x1="414.1" y1="880.605" x2="417.6" y2="880.605" stroke="#555" stroke-width="1"/>
<line x1="411.6" y1="861.44" x2="417.6" y2="861.44" stroke="#555" stroke-width="1"/>
<line x1="414.1" y1="842.2750000000001" x2="417.6" y2="842.2750000000001" stroke="#555" stroke-width="1"/>
<line x1="411.6" y1="823.11" x2="417.6" y2="823.11" stroke="#555" stroke-width="1"/>
<line x1="414.1" y1="803.945" x2="417.6" y2="803.945" stroke="#555" stroke-width="1"/>
<line x1="411.6" y1="784.78" x2="417.6" y2="784.78" stroke="#555" stroke-width="1"/>
<line x1="414.1" y1="765.615" x2="417.6" y2="765.615" stroke="#555" stroke-width="1"/>
<line x1="411.6" y1="746.45" x2="417.6" y2="746.45" stroke="#555" stroke-width="1"/>
<line x1="440.2" y1="938.2" x2="440.2" y2="944" stroke="#555" stroke-width="1"/>
<line x1="484.4" y1="938.2" x2="484.4" y2="944" stroke="#555" stroke-width="1"/>
<line x1="528" y1="938.2" x2="528" y2="944" stroke="#555" stroke-width="1"/>
<line x1="575.2" y1="938.2" x2="575.2" y2="944" stroke="#555" stroke-width="1"/>
<line x1="617.2" y1="938.2" x2="617.2" y2="944" stroke="#555" stroke-width="1"/>
<line x1="659.2" y1="938.2" x2="659.2" y2="944" stroke="#555" stroke-width="1"/>
<text x="407.3" y="945.1" font-size="22" text-anchor="end" fill="#000">0</text>
<text x="407.3" y="906.77" font-size="22" text-anchor="end" textLength="37" lengthAdjust="spacingAndGlyphs" fill="#000">100</text>
<text x="407.3" y="868.44" font-size="22" text-anchor="end" textLength="37" lengthAdjust="spacingAndGlyphs" fill="#000">200</text>
<text x="407.3" y="830.11" font-size="22" text-anchor="end" textLength="37" lengthAdjust="spacingAndGlyphs" fill="#000">300</text>
<text x="407.3" y="791.78" font-size="22" text-anchor="end" textLength="37" lengthAdjust="spacingAndGlyphs" fill="#000">400</text>
<text x="407.3" y="753.45" font-size="22" text-anchor="end" textLength="37" lengthAdjust="spacingAndGlyphs" fill="#000">500</text>
<text transform="translate(358.5 888.6) rotate(-90)" font-size="23.5" textLength="105" lengthAdjust="spacingAndGlyphs">APD (ms)</text>
<line x1="440.2" y1="754.4" x2="440.2" y2="809.4" stroke="#555" stroke-width="1"/>
<line x1="440.2" y1="853.3" x2="440.2" y2="891.7" stroke="#555" stroke-width="1"/>
<rect x="423.2" y="809.4" width="35.3" height="43.9" fill="#c0c0c0" stroke="#333" stroke-width="1"/>
<line x1="423.2" y1="820" x2="458.5" y2="820" stroke="#333" stroke-width="1"/>
<rect x="438.4" y="823.0" width="3.6" height="3.6" fill="none" stroke="#444" stroke-width="0.7"/>
<path d="M438.0,752.1999999999999L442.4,756.6M442.4,752.1999999999999L438.0,756.6" stroke="#555" stroke-width="0.9"/>
<path d="M438.0,889.5L442.4,893.9000000000001M442.4,889.5L438.0,893.9000000000001" stroke="#555" stroke-width="0.9"/>
<line x1="484.4" y1="804.4" x2="484.4" y2="837.4" stroke="#555" stroke-width="1"/>
<line x1="484.4" y1="883.2" x2="484.4" y2="913.6" stroke="#555" stroke-width="1"/>
<rect x="466.8" y="837.4" width="35.3" height="45.8" fill="#497e1e" stroke="#333" stroke-width="1"/>
<line x1="466.8" y1="861.1" x2="502.1" y2="861.1" stroke="#333" stroke-width="1"/>
<rect x="482.59999999999997" y="857.9000000000001" width="3.6" height="3.6" fill="none" stroke="#444" stroke-width="0.7"/>
<path d="M482.2,802.1999999999999L486.59999999999997,806.6M486.59999999999997,802.1999999999999L482.2,806.6" stroke="#555" stroke-width="0.9"/>
<path d="M482.2,911.4L486.59999999999997,915.8000000000001M486.59999999999997,911.4L482.2,915.8000000000001" stroke="#555" stroke-width="0.9"/>
<line x1="528" y1="800" x2="528" y2="833.5" stroke="#555" stroke-width="1"/>
<line x1="528" y1="878.4" x2="528" y2="896.2" stroke="#555" stroke-width="1"/>
<rect x="510.7" y="833.5" width="34.8" height="44.9" fill="#0000ff" stroke="#333" stroke-width="1"/>
<line x1="510.7" y1="858.3" x2="545.5" y2="858.3" stroke="#333" stroke-width="1"/>
<rect x="526.2" y="853.8000000000001" width="3.6" height="3.6" fill="none" stroke="#444" stroke-width="0.7"/>
<path d="M525.8,797.8L530.2,802.2M530.2,797.8L525.8,802.2" stroke="#555" stroke-width="0.9"/>
<path d="M525.8,894.0L530.2,898.4000000000001M530.2,894.0L525.8,898.4000000000001" stroke="#555" stroke-width="0.9"/>
<line x1="575.2" y1="816.6" x2="575.2" y2="857.3" stroke="#555" stroke-width="1"/>
<line x1="575.2" y1="889.6" x2="575.2" y2="913.4" stroke="#555" stroke-width="1"/>
<rect x="558.3" y="857.3" width="34.1" height="32.3" fill="#c0c0c0" stroke="#333" stroke-width="1"/>
<line x1="558.3" y1="883" x2="592.4" y2="883" stroke="#333" stroke-width="1"/>
<rect x="573.4000000000001" y="870.3000000000001" width="3.6" height="3.6" fill="none" stroke="#444" stroke-width="0.7"/>
<path d="M573.0,814.4L577.4000000000001,818.8000000000001M577.4000000000001,814.4L573.0,818.8000000000001" stroke="#555" stroke-width="0.9"/>
<path d="M573.0,911.1999999999999L577.4000000000001,915.6M577.4000000000001,911.1999999999999L573.0,915.6" stroke="#555" stroke-width="0.9"/>
<line x1="617.2" y1="851.7" x2="617.2" y2="875.5" stroke="#555" stroke-width="1"/>
<line x1="617.2" y1="897.9" x2="617.2" y2="931" stroke="#555" stroke-width="1"/>
<rect x="600.7" y="875.5" width="33.3" height="22.4" fill="#497e1e" stroke="#333" stroke-width="1"/>
<line x1="600.7" y1="889" x2="634" y2="889" stroke="#333" stroke-width="1"/>
<rect x="615.4000000000001" y="887.8000000000001" width="3.6" height="3.6" fill="none" stroke="#444" stroke-width="0.7"/>
<path d="M615.0,849.5L619.4000000000001,853.9000000000001M619.4000000000001,849.5L615.0,853.9000000000001" stroke="#555" stroke-width="0.9"/>
<path d="M615.0,928.8L619.4000000000001,933.2M619.4000000000001,928.8L615.0,933.2" stroke="#555" stroke-width="0.9"/>
<line x1="659.2" y1="861" x2="659.2" y2="878.1" stroke="#555" stroke-width="1"/>
<line x1="659.2" y1="910.4" x2="659.2" y2="917" stroke="#555" stroke-width="1"/>
<rect x="642.6" y="878.1" width="33.4" height="32.3" fill="#0000ff" stroke="#333" stroke-width="1"/>
<line x1="642.6" y1="891.2" x2="676" y2="891.2" stroke="#333" stroke-width="1"/>
<rect x="657.4000000000001" y="889.2" width="3.6" height="3.6" fill="none" stroke="#444" stroke-width="0.7"/>
<path d="M657.0,858.8L661.4000000000001,863.2M661.4000000000001,858.8L657.0,863.2" stroke="#555" stroke-width="0.9"/>
<path d="M657.0,914.8L661.4000000000001,919.2M661.4000000000001,914.8L657.0,919.2" stroke="#555" stroke-width="0.9"/>
<path d="M483.90,781.70L483.90,793.50M478.79,784.65L489.01,790.55M489.01,784.65L478.79,790.55" stroke="#000" stroke-width="2.2" fill="none"/>
<path d="M528.4,777.3L528.4,790M524.0,781.5L532.8,781.5" stroke="#000" stroke-width="1.7" fill="none"/>
<path d="M617.60,830.00L617.60,841.80M612.49,832.95L622.71,838.85M622.71,832.95L612.49,838.85" stroke="#000" stroke-width="2.2" fill="none"/>
<path d="M658.6,838.2L658.6,850.9M654.2,842.4L663.0,842.4" stroke="#000" stroke-width="1.7" fill="none"/>
<path d="M432.4,950.2 V956.2 H534.5 V950.2 M484.4,956.2 V962" fill="none" stroke="#555" stroke-width="1"/>
<path d="M565,950.2 V956.2 H667.8 V950.2 M617.2,956.2 V962" fill="none" stroke="#555" stroke-width="1"/>
<text x="457.5" y="988.6" font-size="22">APD<tspan font-size="17" dy="5.5">90</tspan></text>
<text x="596.5" y="987.6" font-size="22">APD<tspan font-size="17" dy="5.5">40</tspan></text></svg></body></html>
